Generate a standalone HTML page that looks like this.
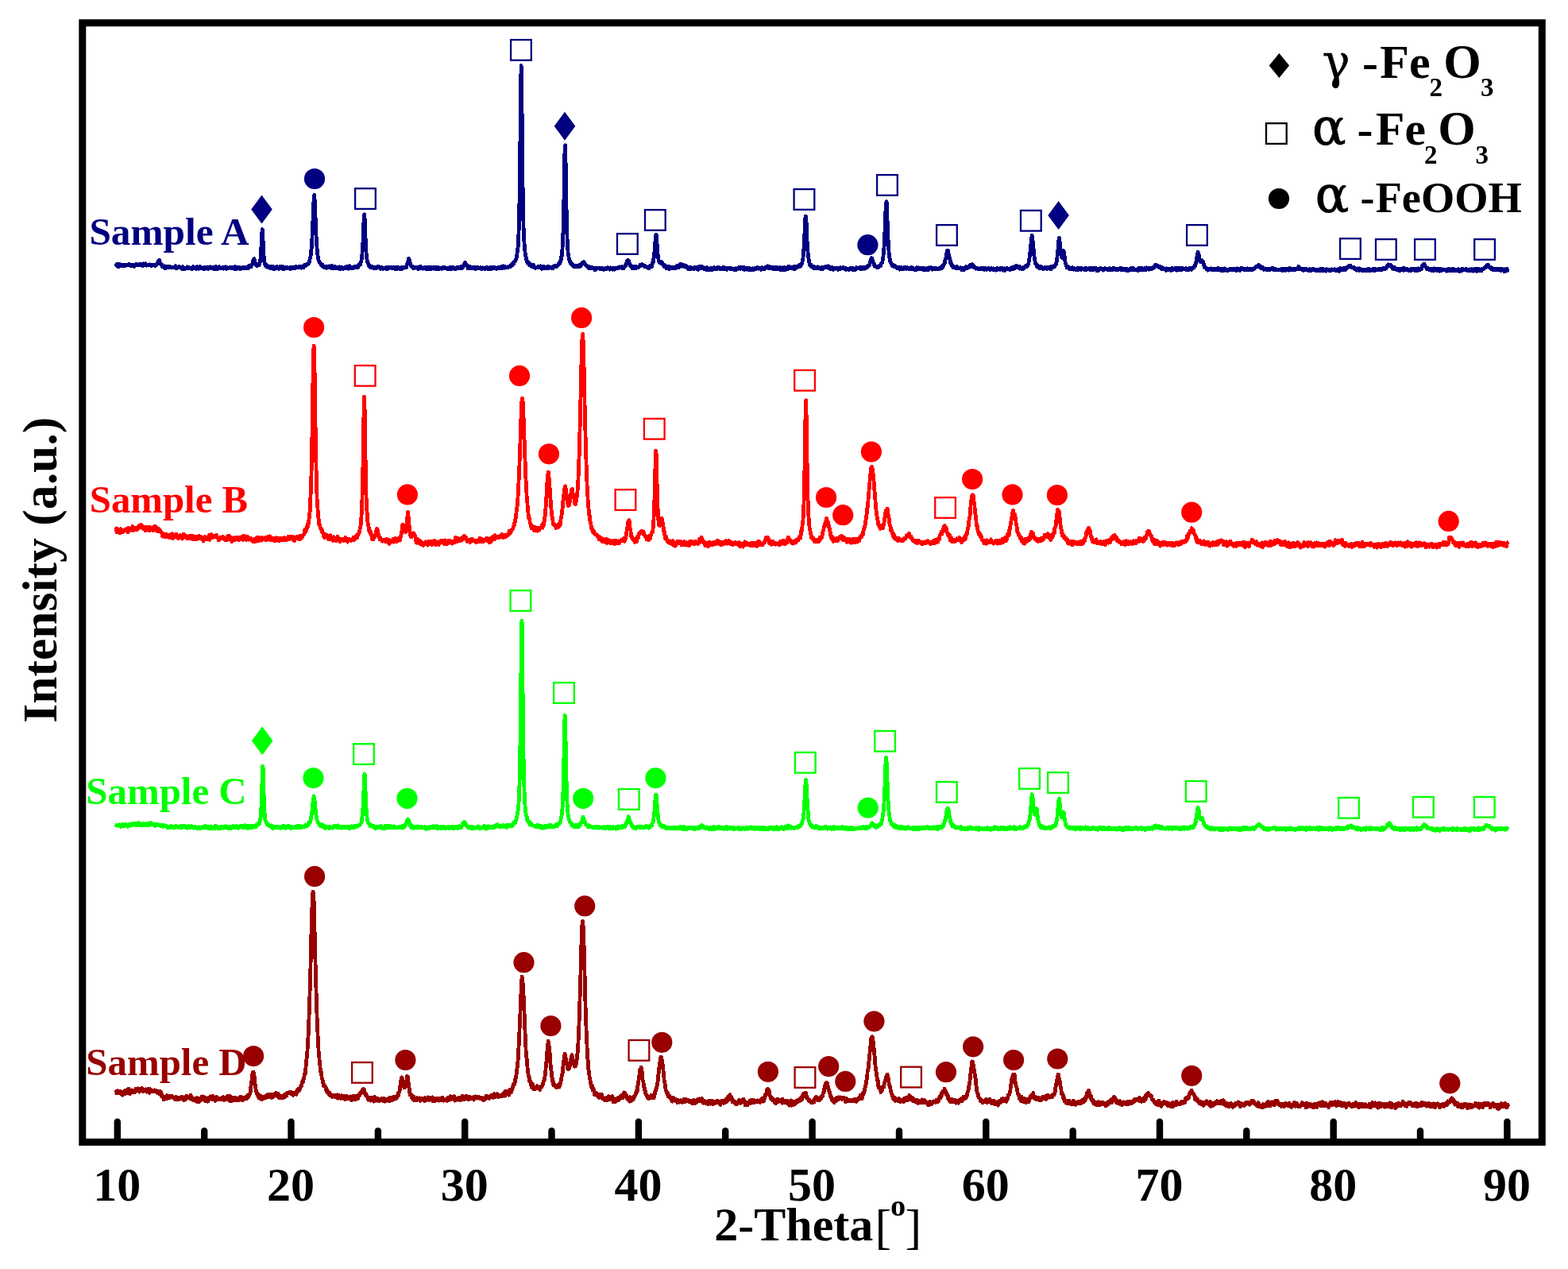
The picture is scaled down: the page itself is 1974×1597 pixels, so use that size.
<!DOCTYPE html>
<html lang="en"><head><meta charset="utf-8"><title>XRD patterns</title>
<style>html,body{margin:0;padding:0;background:#fff}svg{display:block}</style></head>
<body>
<svg width="1974" height="1597" viewBox="0 0 1974 1597" font-family="'Liberation Serif', serif">
<rect x="0" y="0" width="1974" height="1597" fill="#fff"/>
<path d="M145.6 335.1L146.1 333.5L146.6 333.6L147.1 333.2L147.6 334.6L148.1 332.3L148.6 335.4L149.1 333.5L149.6 334.3L150.1 333.9L150.6 335.1L151.1 332.5L151.6 333.8L152.1 333.7L152.6 334.8L153.1 333.0L153.6 333.7L154.1 333.2L154.6 334.0L155.1 334.4L155.6 333.0L156.1 334.8L156.6 334.6L157.1 334.2L157.6 334.4L158.1 333.1L158.6 333.7L159.1 333.1L159.6 333.4L160.1 333.9L160.6 333.0L161.1 333.3L161.6 333.0L162.1 332.8L162.6 333.2L163.1 333.7L163.6 332.8L164.1 333.8L164.6 334.7L165.1 334.1L165.6 333.4L166.1 332.9L166.6 333.0L167.1 334.9L167.6 333.8L168.1 333.1L168.6 333.6L169.1 335.3L169.6 333.8L170.1 334.1L170.6 333.9L171.1 333.4L171.6 332.6L172.1 333.2L172.6 333.4L173.1 333.8L173.6 334.1L174.1 334.1L174.6 333.3L175.1 333.8L175.6 332.5L176.1 334.0L176.6 333.4L177.1 332.9L177.6 333.4L178.1 332.9L178.6 333.9L179.1 334.3L179.6 334.7L180.1 332.1L180.6 331.9L181.1 332.7L181.6 333.3L182.1 334.0L182.6 333.6L183.1 331.8L183.6 333.3L184.1 334.1L184.6 333.5L185.1 333.9L185.6 333.3L186.1 333.4L186.6 333.7L187.1 333.7L187.6 333.5L188.1 333.4L188.6 332.8L189.1 333.6L189.6 333.4L190.1 334.2L190.6 334.5L191.1 333.6L191.6 333.2L192.1 333.0L192.6 334.0L193.1 333.9L193.6 333.6L194.1 333.9L194.6 333.2L195.1 334.2L195.6 333.2L196.1 334.1L196.6 333.4L197.1 333.2L197.6 331.6L198.1 331.8L198.6 331.4L199.1 329.0L199.6 328.6L200.1 328.2L200.6 327.4L201.1 329.7L201.6 331.4L202.1 331.2L202.6 333.2L203.1 332.6L203.6 334.2L204.1 333.4L204.6 335.9L205.1 335.7L205.6 335.7L206.1 335.5L206.6 337.1L207.1 337.6L207.6 334.9L208.1 337.1L208.6 337.4L209.1 336.5L209.6 335.3L210.1 337.1L210.6 336.2L211.1 335.8L211.6 335.2L212.1 336.6L212.6 336.9L213.1 335.7L213.6 336.7L214.1 335.6L214.6 336.9L215.1 336.3L215.6 336.0L216.1 336.0L216.6 336.9L217.1 336.8L217.6 336.6L218.1 336.3L218.6 336.1L219.1 336.5L219.6 336.2L220.1 336.6L220.6 335.9L221.1 334.5L221.6 337.2L222.1 337.9L222.6 336.6L223.1 336.2L223.6 336.3L224.1 336.5L224.6 336.6L225.1 335.8L225.6 336.2L226.1 335.8L226.6 336.8L227.1 336.4L227.6 337.1L228.1 336.7L228.6 337.5L229.1 337.0L229.6 338.5L230.1 335.5L230.6 336.5L231.1 337.8L231.6 338.8L232.1 337.0L232.6 337.2L233.1 337.0L233.6 338.2L234.1 337.0L234.6 337.6L235.1 336.8L235.6 336.0L236.1 337.2L236.6 337.4L237.1 337.8L237.6 336.8L238.1 336.5L238.6 337.4L239.1 337.1L239.6 337.2L240.1 337.0L240.6 338.0L241.1 337.4L241.6 338.5L242.1 337.9L242.6 337.5L243.1 335.7L243.6 337.3L244.1 337.1L244.6 337.3L245.1 337.6L245.6 336.6L246.1 337.6L246.6 336.5L247.1 338.5L247.6 335.9L248.1 335.6L248.6 335.7L249.1 336.3L249.6 336.1L250.1 338.5L250.6 336.6L251.1 335.9L251.6 337.7L252.1 336.4L252.6 335.9L253.1 337.4L253.6 337.4L254.1 336.4L254.6 337.9L255.1 337.1L255.6 338.3L256.1 337.3L256.6 338.1L257.1 337.1L257.6 336.1L258.1 338.5L258.6 336.6L259.1 336.8L259.6 336.6L260.1 337.0L260.6 337.3L261.1 337.3L261.6 337.7L262.1 338.5L262.6 337.0L263.1 336.1L263.6 336.2L264.1 336.7L264.6 336.0L265.1 337.9L265.6 336.9L266.1 336.9L266.6 337.1L267.1 336.1L267.6 336.5L268.1 337.8L268.6 337.8L269.1 337.1L269.6 338.8L270.1 336.3L270.6 337.1L271.1 337.1L271.6 335.6L272.1 338.7L272.6 337.5L273.1 336.3L273.6 338.6L274.1 337.3L274.6 337.1L275.1 336.2L275.6 336.9L276.1 335.6L276.6 337.4L277.1 336.6L277.6 337.0L278.1 337.8L278.6 337.2L279.1 337.1L279.6 337.2L280.1 336.5L280.6 337.7L281.1 338.1L281.6 337.6L282.1 337.7L282.6 336.2L283.1 336.5L283.6 336.0L284.1 338.0L284.6 336.9L285.1 338.2L285.6 336.4L286.1 336.7L286.6 337.0L287.1 337.7L287.6 337.2L288.1 337.4L288.6 337.1L289.1 337.1L289.6 336.2L290.1 337.1L290.6 337.0L291.1 337.1L291.6 337.5L292.1 336.7L292.6 337.0L293.1 336.7L293.6 337.2L294.1 337.5L294.6 336.3L295.1 337.5L295.6 338.6L296.1 335.8L296.6 336.3L297.1 336.2L297.6 336.6L298.1 338.2L298.6 337.1L299.1 336.4L299.6 337.4L300.1 336.5L300.6 337.7L301.1 337.1L301.6 338.0L302.1 336.5L302.6 338.7L303.1 337.7L303.6 337.6L304.1 337.1L304.6 336.8L305.1 336.7L305.6 337.2L306.1 336.6L306.6 337.5L307.1 336.5L307.6 337.6L308.1 337.7L308.6 336.5L309.1 337.7L309.6 336.6L310.1 337.4L310.6 336.7L311.1 337.2L311.6 335.7L312.1 336.3L312.6 337.4L313.1 335.7L313.6 334.6L314.1 334.4L314.6 334.1L315.1 334.0L315.6 334.9L316.1 335.7L316.6 333.9L317.1 333.5L317.6 332.0L318.1 330.6L318.6 328.5L319.1 326.7L319.6 326.6L320.1 325.8L320.6 329.0L321.1 330.8L321.6 331.6L322.1 333.5L322.6 333.2L323.1 333.6L323.6 334.4L324.1 334.3L324.6 334.1L325.1 333.6L325.6 333.3L326.1 333.9L326.6 330.7L327.1 331.1L327.6 328.3L328.1 324.9L328.6 318.3L329.1 306.4L329.6 296.7L330.1 288.5L330.6 292.0L331.1 303.1L331.6 315.2L332.1 322.2L332.6 328.6L333.1 330.3L333.6 333.4L334.1 332.3L334.6 332.4L335.1 334.9L335.6 335.5L336.1 335.3L336.6 334.5L337.1 335.5L337.6 336.4L338.1 335.9L338.6 336.2L339.1 336.3L339.6 335.8L340.1 336.1L340.6 335.3L341.1 337.9L341.6 336.4L342.1 337.1L342.6 336.0L343.1 337.5L343.6 335.6L344.1 337.8L344.6 337.1L345.1 338.7L345.6 336.2L346.1 337.5L346.6 337.3L347.1 337.9L347.6 336.7L348.1 337.0L348.6 335.3L349.1 336.3L349.6 337.3L350.1 337.7L350.6 336.6L351.1 338.3L351.6 338.2L352.1 337.0L352.6 335.3L353.1 335.5L353.6 336.3L354.1 337.7L354.6 337.0L355.1 335.2L355.6 336.6L356.1 338.3L356.6 336.8L357.1 336.4L357.6 338.4L358.1 336.8L358.6 336.4L359.1 336.9L359.6 336.9L360.1 336.6L360.6 337.8L361.1 337.7L361.6 337.6L362.1 336.7L362.6 337.7L363.1 337.0L363.6 337.5L364.1 337.9L364.6 337.9L365.1 338.7L365.6 337.5L366.1 336.0L366.6 336.3L367.1 338.1L367.6 336.9L368.1 337.4L368.6 336.3L369.1 337.7L369.6 336.7L370.1 338.0L370.6 336.2L371.1 337.5L371.6 336.9L372.1 335.8L372.6 337.2L373.1 335.7L373.6 335.7L374.1 336.9L374.6 335.9L375.1 335.9L375.6 336.1L376.1 335.4L376.6 336.9L377.1 336.6L377.6 336.1L378.1 336.0L378.6 336.2L379.1 337.1L379.6 336.4L380.1 335.3L380.6 336.1L381.1 335.4L381.6 335.3L382.1 336.8L382.6 334.9L383.1 334.7L383.6 333.4L384.1 333.7L384.6 334.7L385.1 333.6L385.6 334.0L386.1 332.5L386.6 332.3L387.1 333.0L387.6 332.9L388.1 331.5L388.6 331.2L389.1 330.6L389.6 328.8L390.1 325.9L390.6 324.3L391.1 322.1L391.6 317.4L392.1 313.1L392.6 304.8L393.1 296.8L393.6 287.0L394.1 272.3L394.6 260.3L395.1 250.9L395.6 245.5L396.1 251.0L396.6 260.5L397.1 273.7L397.6 286.2L398.1 297.5L398.6 305.7L399.1 313.2L399.6 317.7L400.1 322.4L400.6 326.0L401.1 327.0L401.6 328.5L402.1 328.9L402.6 331.1L403.1 330.8L403.6 331.4L404.1 332.8L404.6 332.9L405.1 334.1L405.6 334.6L406.1 333.4L406.6 334.3L407.1 335.8L407.6 335.6L408.1 335.6L408.6 336.4L409.1 335.1L409.6 336.2L410.1 337.0L410.6 337.3L411.1 335.4L411.6 335.9L412.1 336.4L412.6 336.0L413.1 336.0L413.6 336.8L414.1 335.9L414.6 334.9L415.1 336.4L415.6 335.9L416.1 335.7L416.6 335.2L417.1 337.2L417.6 334.6L418.1 334.9L418.6 336.1L419.1 337.3L419.6 337.4L420.1 335.6L420.6 336.5L421.1 335.6L421.6 337.4L422.1 335.5L422.6 336.6L423.1 337.7L423.6 336.9L424.1 338.1L424.6 336.4L425.1 337.4L425.6 337.8L426.1 337.0L426.6 338.0L427.1 337.6L427.6 335.9L428.1 338.9L428.6 337.8L429.1 337.2L429.6 336.1L430.1 337.1L430.6 336.6L431.1 337.3L431.6 337.3L432.1 338.4L432.6 337.0L433.1 337.2L433.6 336.9L434.1 336.3L434.6 336.4L435.1 337.4L435.6 337.1L436.1 336.0L436.6 335.6L437.1 336.4L437.6 337.3L438.1 336.5L438.6 338.1L439.1 336.1L439.6 336.7L440.1 334.8L440.6 336.0L441.1 336.1L441.6 336.8L442.1 337.8L442.6 336.5L443.1 337.7L443.6 336.9L444.1 337.1L444.6 336.0L445.1 337.5L445.6 335.7L446.1 337.1L446.6 335.9L447.1 336.2L447.6 335.2L448.1 335.7L448.6 336.2L449.1 336.0L449.6 334.8L450.1 336.7L450.6 335.5L451.1 335.8L451.6 334.9L452.1 333.6L452.6 332.1L453.1 332.3L453.6 333.1L454.1 330.2L454.6 329.9L455.1 326.5L455.6 324.2L456.1 317.6L456.6 312.1L457.1 300.9L457.6 288.3L458.1 275.0L458.6 269.7L459.1 274.7L459.6 288.4L460.1 299.8L460.6 310.7L461.1 319.5L461.6 324.0L462.1 327.2L462.6 329.5L463.1 331.6L463.6 331.9L464.1 333.7L464.6 333.3L465.1 334.2L465.6 335.8L466.1 336.3L466.6 335.0L467.1 336.6L467.6 335.5L468.1 336.9L468.6 335.0L469.1 335.7L469.6 336.0L470.1 336.4L470.6 337.7L471.1 337.3L471.6 337.8L472.1 337.5L472.6 336.4L473.1 336.3L473.6 337.4L474.1 336.6L474.6 336.4L475.1 335.7L475.6 336.6L476.1 334.9L476.6 336.4L477.1 336.0L477.6 337.3L478.1 336.6L478.6 336.8L479.1 338.3L479.6 336.5L480.1 337.7L480.6 336.0L481.1 337.7L481.6 338.0L482.1 338.2L482.6 337.0L483.1 337.8L483.6 337.7L484.1 337.4L484.6 337.4L485.1 337.6L485.6 337.6L486.1 336.5L486.6 336.3L487.1 338.8L487.6 338.6L488.1 335.9L488.6 337.4L489.1 337.5L489.6 337.6L490.1 337.1L490.6 336.3L491.1 336.7L491.6 336.5L492.1 336.9L492.6 336.7L493.1 336.8L493.6 337.6L494.1 337.9L494.6 336.1L495.1 336.6L495.6 336.5L496.1 338.1L496.6 337.3L497.1 338.5L497.6 337.2L498.1 337.5L498.6 336.4L499.1 338.6L499.6 337.3L500.1 336.5L500.6 337.2L501.1 336.1L501.6 337.6L502.1 337.5L502.6 337.7L503.1 338.6L503.6 337.2L504.1 338.1L504.6 337.8L505.1 337.4L505.6 336.1L506.1 338.2L506.6 336.9L507.1 337.2L507.6 336.2L508.1 337.3L508.6 336.8L509.1 336.7L509.6 336.4L510.1 336.9L510.6 336.6L511.1 335.8L511.6 336.5L512.1 333.7L512.6 333.0L513.1 331.1L513.6 330.3L514.1 327.5L514.6 325.1L515.1 326.0L515.6 328.6L516.1 331.1L516.6 331.1L517.1 333.3L517.6 334.6L518.1 334.7L518.6 336.0L519.1 335.9L519.6 336.5L520.1 335.8L520.6 337.6L521.1 336.6L521.6 337.8L522.1 336.3L522.6 337.2L523.1 336.4L523.6 336.4L524.1 336.8L524.6 337.3L525.1 337.0L525.6 338.2L526.1 336.3L526.6 336.4L527.1 338.4L527.6 337.7L528.1 335.8L528.6 337.5L529.1 337.2L529.6 335.4L530.1 336.8L530.6 337.2L531.1 337.8L531.6 338.0L532.1 337.2L532.6 338.1L533.1 337.3L533.6 336.9L534.1 336.8L534.6 338.0L535.1 336.2L535.6 338.1L536.1 336.8L536.6 337.5L537.1 338.1L537.6 338.8L538.1 336.5L538.6 337.3L539.1 337.9L539.6 337.2L540.1 338.3L540.6 336.1L541.1 338.0L541.6 337.9L542.1 337.6L542.6 338.3L543.1 336.5L543.6 338.1L544.1 336.5L544.6 337.8L545.1 337.1L545.6 338.1L546.1 338.0L546.6 336.1L547.1 337.4L547.6 337.2L548.1 337.2L548.6 336.7L549.1 338.8L549.6 337.5L550.1 338.3L550.6 336.6L551.1 336.2L551.6 337.0L552.1 336.6L552.6 338.6L553.1 337.4L553.6 338.1L554.1 337.2L554.6 337.0L555.1 337.5L555.6 337.8L556.1 338.2L556.6 337.3L557.1 336.8L557.6 336.4L558.1 337.2L558.6 337.6L559.1 337.6L559.6 337.2L560.1 336.7L560.6 337.3L561.1 337.7L561.6 337.3L562.1 337.5L562.6 337.6L563.1 338.5L563.6 337.3L564.1 337.8L564.6 337.8L565.1 338.1L565.6 338.7L566.1 338.1L566.6 338.0L567.1 336.4L567.6 337.8L568.1 338.7L568.6 336.3L569.1 336.3L569.6 336.9L570.1 337.9L570.6 337.4L571.1 336.7L571.6 337.0L572.1 337.8L572.6 337.4L573.1 338.7L573.6 337.8L574.1 337.4L574.6 337.5L575.1 336.8L575.6 336.3L576.1 337.2L576.6 337.5L577.1 336.0L577.6 336.6L578.1 336.8L578.6 337.3L579.1 336.9L579.6 337.3L580.1 337.0L580.6 337.5L581.1 335.3L581.6 337.7L582.1 337.2L582.6 335.8L583.1 335.8L583.6 334.8L584.1 332.7L584.6 332.0L585.1 331.1L585.6 330.2L586.1 331.5L586.6 332.0L587.1 333.2L587.6 333.7L588.1 334.9L588.6 335.5L589.1 337.6L589.6 336.6L590.1 336.0L590.6 337.3L591.1 336.8L591.6 335.4L592.1 337.6L592.6 336.3L593.1 337.9L593.6 336.9L594.1 336.5L594.6 338.0L595.1 336.4L595.6 337.1L596.1 337.5L596.6 337.9L597.1 337.9L597.6 337.0L598.1 336.4L598.6 338.4L599.1 336.4L599.6 338.2L600.1 336.4L600.6 337.7L601.1 337.7L601.6 336.3L602.1 337.5L602.6 337.8L603.1 337.9L603.6 337.2L604.1 337.7L604.6 337.1L605.1 336.5L605.6 338.3L606.1 337.3L606.6 338.8L607.1 338.2L607.6 336.8L608.1 337.4L608.6 337.4L609.1 337.1L609.6 338.2L610.1 337.4L610.6 338.9L611.1 338.3L611.6 336.9L612.1 337.4L612.6 337.3L613.1 336.3L613.6 338.1L614.1 338.2L614.6 338.1L615.1 337.0L615.6 338.1L616.1 337.2L616.6 338.0L617.1 338.6L617.6 337.3L618.1 336.2L618.6 336.9L619.1 337.7L619.6 338.1L620.1 336.2L620.6 336.9L621.1 337.4L621.6 337.6L622.1 338.0L622.6 336.4L623.1 336.8L623.6 338.0L624.1 337.7L624.6 337.8L625.1 338.4L625.6 337.6L626.1 337.9L626.6 337.2L627.1 336.3L627.6 336.3L628.1 337.5L628.6 337.1L629.1 336.7L629.6 337.3L630.1 336.4L630.6 336.9L631.1 336.8L631.6 336.0L632.1 335.0L632.6 337.8L633.1 336.8L633.6 334.9L634.1 336.2L634.6 336.8L635.1 336.4L635.6 337.0L636.1 335.8L636.6 336.6L637.1 336.4L637.6 336.3L638.1 336.1L638.6 336.5L639.1 336.9L639.6 335.7L640.1 335.5L640.6 335.8L641.1 335.3L641.6 335.6L642.1 335.8L642.6 336.0L643.1 334.6L643.6 332.8L644.1 334.1L644.6 334.1L645.1 333.4L645.6 332.9L646.1 330.8L646.6 332.3L647.1 331.1L647.6 329.4L648.1 328.8L648.6 328.0L649.1 327.9L649.6 326.4L650.1 325.3L650.6 322.4L651.1 318.2L651.6 314.2L652.1 310.9L652.6 303.6L653.1 290.7L653.6 273.9L654.1 246.0L654.6 208.5L655.1 161.1L655.6 111.9L656.1 82.6L656.6 96.1L657.1 141.2L657.6 192.6L658.1 235.0L658.6 264.3L659.1 286.5L659.6 298.2L660.1 307.2L660.6 313.9L661.1 317.6L661.6 322.0L662.1 323.1L662.6 326.6L663.1 327.5L663.6 330.4L664.1 329.3L664.6 330.4L665.1 331.5L665.6 330.4L666.1 333.1L666.6 333.5L667.1 333.6L667.6 332.6L668.1 333.0L668.6 334.6L669.1 335.2L669.6 335.9L670.1 334.2L670.6 334.3L671.1 334.9L671.6 333.7L672.1 334.9L672.6 336.1L673.1 336.9L673.6 336.1L674.1 337.2L674.6 336.4L675.1 336.2L675.6 336.1L676.1 336.3L676.6 335.9L677.1 336.1L677.6 335.6L678.1 336.4L678.6 336.2L679.1 335.1L679.6 336.3L680.1 335.8L680.6 334.9L681.1 337.0L681.6 337.9L682.1 338.5L682.6 338.1L683.1 336.3L683.6 337.7L684.1 337.7L684.6 335.2L685.1 337.3L685.6 337.2L686.1 336.8L686.6 336.8L687.1 336.6L687.6 337.9L688.1 336.4L688.6 336.4L689.1 336.8L689.6 336.9L690.1 335.3L690.6 337.7L691.1 336.9L691.6 337.2L692.1 337.0L692.6 336.6L693.1 336.4L693.6 336.7L694.1 336.9L694.6 337.6L695.1 336.7L695.6 336.3L696.1 337.8L696.6 335.1L697.1 335.0L697.6 336.1L698.1 335.4L698.6 334.2L699.1 335.1L699.6 334.5L700.1 335.7L700.6 334.1L701.1 335.1L701.6 334.4L702.1 333.6L702.6 333.4L703.1 333.2L703.6 330.9L704.1 332.0L704.6 330.7L705.1 331.3L705.6 328.1L706.1 328.0L706.6 323.1L707.1 322.5L707.6 318.0L708.1 311.5L708.6 302.4L709.1 288.4L709.6 268.7L710.1 240.8L710.6 207.9L711.1 183.8L711.6 182.9L712.1 203.6L712.6 235.5L713.1 263.6L713.6 285.8L714.1 300.8L714.6 310.5L715.1 317.9L715.6 321.0L716.1 324.6L716.6 327.2L717.1 328.2L717.6 328.7L718.1 331.2L718.6 330.8L719.1 331.7L719.6 331.9L720.1 332.8L720.6 332.9L721.1 333.2L721.6 334.4L722.1 335.5L722.6 334.1L723.1 335.0L723.6 334.3L724.1 334.9L724.6 335.9L725.1 335.2L725.6 334.7L726.1 334.8L726.6 334.9L727.1 335.3L727.6 335.9L728.1 334.1L728.6 334.1L729.1 334.0L729.6 333.0L730.1 335.2L730.6 333.9L731.1 335.1L731.6 332.1L732.1 333.5L732.6 331.5L733.1 331.2L733.6 330.3L734.1 330.0L734.6 329.7L735.1 331.1L735.6 330.4L736.1 331.5L736.6 332.2L737.1 333.3L737.6 333.6L738.1 334.2L738.6 334.8L739.1 335.0L739.6 335.7L740.1 335.0L740.6 335.3L741.1 337.5L741.6 336.2L742.1 335.9L742.6 337.7L743.1 336.7L743.6 336.5L744.1 336.2L744.6 337.9L745.1 336.4L745.6 336.9L746.1 337.9L746.6 337.6L747.1 337.4L747.6 337.3L748.1 338.4L748.6 339.3L749.1 337.3L749.6 338.0L750.1 339.2L750.6 338.6L751.1 337.3L751.6 337.4L752.1 337.3L752.6 337.0L753.1 337.3L753.6 337.8L754.1 337.2L754.6 338.1L755.1 337.6L755.6 337.2L756.1 338.2L756.6 337.7L757.1 337.6L757.6 338.2L758.1 337.9L758.6 337.4L759.1 338.4L759.6 337.9L760.1 339.3L760.6 338.6L761.1 338.7L761.6 338.7L762.1 337.8L762.6 338.8L763.1 337.9L763.6 337.1L764.1 337.4L764.6 338.2L765.1 336.5L765.6 337.9L766.1 337.1L766.6 338.1L767.1 336.9L767.6 339.1L768.1 338.2L768.6 336.7L769.1 339.1L769.6 337.7L770.1 337.3L770.6 337.2L771.1 338.5L771.6 339.2L772.1 337.7L772.6 337.3L773.1 337.1L773.6 339.2L774.1 339.2L774.6 337.5L775.1 338.1L775.6 337.6L776.1 337.4L776.6 337.9L777.1 337.5L777.6 337.2L778.1 336.8L778.6 337.5L779.1 336.6L779.6 336.8L780.1 337.0L780.6 335.9L781.1 336.4L781.6 336.3L782.1 336.7L782.6 335.7L783.1 335.7L783.6 337.7L784.1 337.3L784.6 337.0L785.1 337.6L785.6 336.2L786.1 335.4L786.6 335.6L787.1 333.4L787.6 333.2L788.1 333.6L788.6 331.7L789.1 329.2L789.6 329.1L790.1 328.1L790.6 327.4L791.1 327.4L791.6 328.0L792.1 330.2L792.6 331.9L793.1 332.7L793.6 334.5L794.1 335.1L794.6 335.7L795.1 334.5L795.6 337.1L796.1 337.8L796.6 336.4L797.1 335.7L797.6 337.1L798.1 336.5L798.6 336.0L799.1 337.6L799.6 335.6L800.1 337.1L800.6 335.6L801.1 337.5L801.6 336.7L802.1 336.0L802.6 336.2L803.1 336.6L803.6 336.4L804.1 336.0L804.6 335.5L805.1 334.4L805.6 335.0L806.1 332.9L806.6 334.4L807.1 333.9L807.6 334.2L808.1 332.6L808.6 333.3L809.1 333.9L809.6 333.9L810.1 333.7L810.6 334.6L811.1 334.6L811.6 335.8L812.1 334.9L812.6 335.9L813.1 335.9L813.6 336.3L814.1 335.7L814.6 336.1L815.1 336.1L815.6 336.2L816.1 336.1L816.6 336.0L817.1 337.7L817.6 335.2L818.1 334.8L818.6 335.0L819.1 334.7L819.6 335.0L820.1 335.6L820.6 335.2L821.1 333.3L821.6 330.4L822.1 330.6L822.6 327.2L823.1 324.7L823.6 319.8L824.1 315.3L824.6 307.8L825.1 301.7L825.6 296.2L826.1 294.9L826.6 299.4L827.1 306.9L827.6 312.9L828.1 319.7L828.6 323.4L829.1 326.7L829.6 329.1L830.1 330.6L830.6 330.6L831.1 330.5L831.6 331.1L832.1 329.4L832.6 331.7L833.1 329.6L833.6 331.7L834.1 331.5L834.6 333.1L835.1 333.5L835.6 334.5L836.1 334.2L836.6 333.7L837.1 335.9L837.6 335.3L838.1 335.5L838.6 335.7L839.1 337.9L839.6 336.0L840.1 336.9L840.6 335.8L841.1 337.9L841.6 336.3L842.1 335.1L842.6 338.5L843.1 336.2L843.6 338.0L844.1 337.5L844.6 337.5L845.1 336.8L845.6 337.1L846.1 337.7L846.6 336.7L847.1 337.2L847.6 337.8L848.1 337.0L848.6 336.6L849.1 338.0L849.6 337.2L850.1 336.8L850.6 336.1L851.1 335.8L851.6 337.2L852.1 337.0L852.6 334.3L853.1 335.1L853.6 336.2L854.1 336.8L854.6 336.4L855.1 335.0L855.6 334.9L856.1 333.3L856.6 334.0L857.1 332.4L857.6 332.9L858.1 333.6L858.6 335.2L859.1 334.2L859.6 334.2L860.1 334.2L860.6 333.6L861.1 335.2L861.6 334.8L862.1 335.4L862.6 335.0L863.1 335.8L863.6 334.7L864.1 336.4L864.6 337.1L865.1 337.0L865.6 338.1L866.1 336.9L866.6 337.4L867.1 337.5L867.6 336.5L868.1 338.8L868.6 338.0L869.1 337.3L869.6 336.7L870.1 337.8L870.6 338.1L871.1 337.5L871.6 337.6L872.1 337.4L872.6 337.4L873.1 338.4L873.6 338.7L874.1 336.5L874.6 337.6L875.1 336.7L875.6 336.6L876.1 338.1L876.6 337.0L877.1 336.0L877.6 338.3L878.1 338.8L878.6 339.3L879.1 337.3L879.6 338.5L880.1 335.8L880.6 336.7L881.1 337.7L881.6 337.4L882.1 337.7L882.6 336.7L883.1 335.2L883.6 336.4L884.1 336.2L884.6 337.6L885.1 336.4L885.6 337.6L886.1 337.4L886.6 338.6L887.1 337.9L887.6 338.0L888.1 337.2L888.6 338.5L889.1 339.3L889.6 339.1L890.1 336.8L890.6 337.2L891.1 339.8L891.6 338.1L892.1 338.2L892.6 339.1L893.1 338.3L893.6 337.8L894.1 338.1L894.6 339.6L895.1 337.0L895.6 339.0L896.1 337.8L896.6 337.8L897.1 339.4L897.6 337.5L898.1 338.7L898.6 337.8L899.1 336.9L899.6 337.8L900.1 338.8L900.6 337.9L901.1 338.4L901.6 338.1L902.1 338.2L902.6 337.9L903.1 338.1L903.6 336.4L904.1 337.6L904.6 336.5L905.1 338.2L905.6 338.2L906.1 337.3L906.6 338.7L907.1 338.5L907.6 338.2L908.1 337.6L908.6 338.3L909.1 338.8L909.6 337.5L910.1 337.4L910.6 338.8L911.1 336.3L911.6 336.4L912.1 336.6L912.6 338.1L913.1 338.2L913.6 338.4L914.1 338.2L914.6 339.2L915.1 339.2L915.6 338.9L916.1 337.0L916.6 338.2L917.1 337.1L917.6 337.5L918.1 337.2L918.6 337.9L919.1 338.4L919.6 338.2L920.1 337.3L920.6 337.0L921.1 337.6L921.6 337.7L922.1 338.9L922.6 338.1L923.1 338.2L923.6 338.3L924.1 339.4L924.6 339.7L925.1 338.5L925.6 338.0L926.1 339.3L926.6 338.7L927.1 338.1L927.6 339.2L928.1 338.5L928.6 337.2L929.1 338.5L929.6 338.1L930.1 336.4L930.6 336.2L931.1 338.0L931.6 338.3L932.1 338.1L932.6 336.4L933.1 337.2L933.6 338.0L934.1 336.3L934.6 337.7L935.1 337.8L935.6 338.5L936.1 336.1L936.6 338.0L937.1 339.4L937.6 337.4L938.1 337.7L938.6 338.7L939.1 337.5L939.6 339.2L940.1 338.7L940.6 337.2L941.1 338.5L941.6 337.4L942.1 339.2L942.6 337.3L943.1 337.2L943.6 337.8L944.1 337.9L944.6 339.5L945.1 338.3L945.6 338.8L946.1 339.3L946.6 338.0L947.1 338.0L947.6 337.8L948.1 339.0L948.6 339.7L949.1 338.5L949.6 337.9L950.1 337.8L950.6 337.5L951.1 338.7L951.6 337.3L952.1 337.7L952.6 337.1L953.1 336.6L953.6 336.4L954.1 337.4L954.6 338.1L955.1 337.7L955.6 337.9L956.1 337.1L956.6 337.3L957.1 337.2L957.6 338.3L958.1 339.6L958.6 337.9L959.1 336.8L959.6 338.9L960.1 337.4L960.6 338.4L961.1 337.4L961.6 337.6L962.1 339.0L962.6 336.7L963.1 336.7L963.6 337.3L964.1 336.7L964.6 336.0L965.1 335.4L965.6 336.0L966.1 336.4L966.6 334.9L967.1 335.0L967.6 337.4L968.1 335.2L968.6 336.9L969.1 336.8L969.6 335.9L970.1 337.6L970.6 336.4L971.1 336.5L971.6 336.3L972.1 338.0L972.6 337.0L973.1 338.3L973.6 336.8L974.1 337.9L974.6 338.5L975.1 337.5L975.6 336.6L976.1 337.1L976.6 338.4L977.1 338.1L977.6 337.3L978.1 336.2L978.6 338.2L979.1 338.7L979.6 338.8L980.1 338.0L980.6 337.6L981.1 337.2L981.6 337.5L982.1 336.7L982.6 339.6L983.1 337.9L983.6 339.7L984.1 337.9L984.6 336.9L985.1 339.5L985.6 337.5L986.1 337.8L986.6 339.3L987.1 339.1L987.6 336.5L988.1 337.9L988.6 337.2L989.1 338.5L989.6 339.3L990.1 337.3L990.6 338.7L991.1 336.5L991.6 338.5L992.1 335.8L992.6 335.7L993.1 336.1L993.6 335.1L994.1 337.5L994.6 335.7L995.1 337.3L995.6 336.1L996.1 337.2L996.6 337.1L997.1 336.9L997.6 337.6L998.1 336.3L998.6 338.3L999.1 337.3L999.6 335.4L1000.1 338.6L1000.6 337.3L1001.1 338.2L1001.6 336.8L1002.1 335.0L1002.6 336.3L1003.1 335.5L1003.6 336.4L1004.1 335.8L1004.6 336.1L1005.1 334.6L1005.6 335.6L1006.1 335.0L1006.6 335.4L1007.1 333.4L1007.6 333.9L1008.1 334.9L1008.6 332.0L1009.1 332.4L1009.6 331.6L1010.1 328.7L1010.6 326.9L1011.1 323.3L1011.6 318.6L1012.1 309.9L1012.6 300.7L1013.1 290.4L1013.6 278.3L1014.1 271.9L1014.6 272.1L1015.1 279.3L1015.6 292.4L1016.1 304.2L1016.6 311.7L1017.1 318.5L1017.6 323.0L1018.1 326.1L1018.6 329.1L1019.1 331.4L1019.6 333.7L1020.1 333.6L1020.6 332.9L1021.1 333.2L1021.6 335.7L1022.1 335.2L1022.6 335.0L1023.1 335.0L1023.6 335.6L1024.1 337.5L1024.6 336.6L1025.1 335.6L1025.6 337.5L1026.1 337.0L1026.6 336.7L1027.1 337.4L1027.6 336.3L1028.1 337.8L1028.6 336.0L1029.1 336.4L1029.6 336.0L1030.1 336.8L1030.6 336.7L1031.1 337.2L1031.6 337.5L1032.1 337.8L1032.6 337.5L1033.1 337.6L1033.6 338.6L1034.1 337.2L1034.6 336.3L1035.1 338.1L1035.6 338.8L1036.1 337.5L1036.6 337.7L1037.1 336.5L1037.6 337.0L1038.1 337.1L1038.6 336.7L1039.1 335.7L1039.6 337.0L1040.1 335.7L1040.6 336.2L1041.1 335.5L1041.6 335.6L1042.1 335.7L1042.6 334.9L1043.1 336.1L1043.6 337.6L1044.1 337.8L1044.6 337.2L1045.1 338.2L1045.6 336.0L1046.1 338.3L1046.6 337.5L1047.1 336.1L1047.6 337.8L1048.1 338.7L1048.6 337.5L1049.1 339.4L1049.6 339.2L1050.1 337.1L1050.6 338.9L1051.1 338.3L1051.6 337.8L1052.1 337.9L1052.6 337.9L1053.1 337.5L1053.6 337.8L1054.1 338.6L1054.6 339.3L1055.1 339.2L1055.6 337.6L1056.1 337.9L1056.6 337.5L1057.1 338.8L1057.6 336.7L1058.1 336.8L1058.6 337.2L1059.1 337.8L1059.6 337.3L1060.1 337.3L1060.6 337.1L1061.1 337.1L1061.6 336.1L1062.1 336.5L1062.6 337.3L1063.1 337.5L1063.6 338.5L1064.1 337.3L1064.6 338.7L1065.1 339.2L1065.6 338.1L1066.1 338.4L1066.6 338.3L1067.1 338.6L1067.6 338.7L1068.1 339.7L1068.6 338.8L1069.1 338.9L1069.6 338.6L1070.1 337.5L1070.6 338.6L1071.1 338.0L1071.6 337.7L1072.1 337.5L1072.6 338.2L1073.1 337.7L1073.6 339.7L1074.1 339.4L1074.6 337.9L1075.1 338.6L1075.6 338.9L1076.1 337.9L1076.6 339.4L1077.1 338.6L1077.6 337.9L1078.1 336.5L1078.6 337.0L1079.1 338.0L1079.6 337.5L1080.1 337.7L1080.6 337.1L1081.1 337.9L1081.6 337.5L1082.1 336.7L1082.6 337.7L1083.1 337.4L1083.6 336.6L1084.1 338.9L1084.6 337.7L1085.1 337.4L1085.6 338.2L1086.1 337.7L1086.6 338.2L1087.1 336.2L1087.6 336.4L1088.1 337.5L1088.6 338.2L1089.1 337.0L1089.6 337.1L1090.1 336.3L1090.6 336.8L1091.1 336.0L1091.6 336.2L1092.1 336.5L1092.6 334.2L1093.1 335.3L1093.6 333.9L1094.1 333.3L1094.6 333.6L1095.1 331.6L1095.6 330.3L1096.1 326.5L1096.6 325.8L1097.1 324.6L1097.6 324.8L1098.1 326.6L1098.6 328.8L1099.1 328.9L1099.6 330.6L1100.1 331.6L1100.6 334.4L1101.1 333.9L1101.6 334.9L1102.1 335.1L1102.6 334.9L1103.1 335.9L1103.6 336.1L1104.1 336.5L1104.6 335.7L1105.1 335.3L1105.6 335.0L1106.1 336.4L1106.6 335.9L1107.1 334.6L1107.6 334.8L1108.1 333.4L1108.6 334.9L1109.1 332.0L1109.6 331.4L1110.1 330.5L1110.6 330.9L1111.1 327.7L1111.6 325.8L1112.1 321.1L1112.6 315.2L1113.1 309.9L1113.6 299.5L1114.1 287.3L1114.6 274.5L1115.1 262.2L1115.6 254.9L1116.1 253.5L1116.6 262.3L1117.1 278.1L1117.6 290.7L1118.1 301.6L1118.6 311.0L1119.1 317.9L1119.6 323.6L1120.1 325.3L1120.6 328.8L1121.1 329.3L1121.6 330.6L1122.1 332.5L1122.6 332.2L1123.1 332.9L1123.6 335.0L1124.1 333.3L1124.6 335.1L1125.1 335.1L1125.6 335.6L1126.1 335.2L1126.6 334.8L1127.1 336.0L1127.6 335.7L1128.1 336.5L1128.6 337.1L1129.1 336.4L1129.6 336.3L1130.1 337.6L1130.6 336.9L1131.1 336.6L1131.6 337.0L1132.1 337.6L1132.6 339.1L1133.1 338.7L1133.6 336.5L1134.1 336.2L1134.6 337.4L1135.1 337.9L1135.6 337.3L1136.1 339.0L1136.6 338.2L1137.1 338.7L1137.6 337.1L1138.1 336.7L1138.6 336.5L1139.1 337.3L1139.6 336.7L1140.1 337.3L1140.6 337.3L1141.1 338.3L1141.6 337.4L1142.1 336.8L1142.6 337.6L1143.1 338.0L1143.6 338.2L1144.1 337.1L1144.6 338.4L1145.1 338.9L1145.6 338.2L1146.1 338.1L1146.6 337.6L1147.1 337.6L1147.6 336.4L1148.1 338.5L1148.6 337.8L1149.1 338.4L1149.6 338.6L1150.1 337.7L1150.6 339.1L1151.1 338.4L1151.6 339.4L1152.1 338.5L1152.6 338.3L1153.1 338.0L1153.6 339.4L1154.1 336.8L1154.6 337.8L1155.1 338.2L1155.6 337.3L1156.1 337.9L1156.6 336.8L1157.1 338.8L1157.6 337.5L1158.1 339.0L1158.6 338.4L1159.1 337.9L1159.6 337.3L1160.1 338.1L1160.6 338.6L1161.1 338.0L1161.6 338.7L1162.1 337.7L1162.6 339.4L1163.1 338.0L1163.6 337.6L1164.1 339.3L1164.6 339.5L1165.1 338.4L1165.6 338.1L1166.1 339.3L1166.6 338.2L1167.1 339.3L1167.6 337.5L1168.1 338.5L1168.6 338.5L1169.1 339.2L1169.6 336.9L1170.1 338.3L1170.6 338.0L1171.1 338.0L1171.6 337.3L1172.1 336.9L1172.6 337.7L1173.1 337.8L1173.6 339.1L1174.1 338.2L1174.6 338.2L1175.1 338.8L1175.6 337.0L1176.1 338.7L1176.6 338.8L1177.1 338.7L1177.6 337.8L1178.1 337.0L1178.6 337.2L1179.1 338.2L1179.6 338.3L1180.1 338.7L1180.6 338.8L1181.1 338.3L1181.6 337.8L1182.1 338.0L1182.6 337.6L1183.1 338.4L1183.6 338.1L1184.1 337.5L1184.6 336.2L1185.1 337.7L1185.6 335.5L1186.1 337.2L1186.6 336.4L1187.1 333.8L1187.6 334.2L1188.1 332.4L1188.6 332.3L1189.1 331.5L1189.6 329.5L1190.1 326.5L1190.6 325.6L1191.1 322.9L1191.6 320.2L1192.1 317.0L1192.6 315.6L1193.1 315.3L1193.6 315.7L1194.1 319.3L1194.6 320.5L1195.1 322.7L1195.6 325.9L1196.1 327.0L1196.6 330.0L1197.1 332.3L1197.6 331.7L1198.1 333.6L1198.6 334.7L1199.1 333.5L1199.6 336.5L1200.1 334.8L1200.6 335.6L1201.1 336.4L1201.6 336.0L1202.1 337.0L1202.6 336.7L1203.1 337.1L1203.6 336.9L1204.1 338.0L1204.6 335.5L1205.1 337.5L1205.6 337.1L1206.1 336.7L1206.6 336.9L1207.1 337.1L1207.6 338.0L1208.1 337.0L1208.6 337.6L1209.1 337.9L1209.6 336.9L1210.1 338.6L1210.6 339.3L1211.1 337.1L1211.6 338.3L1212.1 337.2L1212.6 338.0L1213.1 337.6L1213.6 339.4L1214.1 337.4L1214.6 338.3L1215.1 338.0L1215.6 336.7L1216.1 335.7L1216.6 337.6L1217.1 337.6L1217.6 336.5L1218.1 336.3L1218.6 337.2L1219.1 336.8L1219.6 336.6L1220.1 335.8L1220.6 334.7L1221.1 334.0L1221.6 333.0L1222.1 334.2L1222.6 335.6L1223.1 334.3L1223.6 333.9L1224.1 332.8L1224.6 333.7L1225.1 334.5L1225.6 334.7L1226.1 336.0L1226.6 335.7L1227.1 336.8L1227.6 336.6L1228.1 336.8L1228.6 338.3L1229.1 336.9L1229.6 337.5L1230.1 337.0L1230.6 338.1L1231.1 338.7L1231.6 338.5L1232.1 338.5L1232.6 338.8L1233.1 338.6L1233.6 338.7L1234.1 338.3L1234.6 337.3L1235.1 338.4L1235.6 338.7L1236.1 337.3L1236.6 338.2L1237.1 338.8L1237.6 337.7L1238.1 337.2L1238.6 338.0L1239.1 339.2L1239.6 337.4L1240.1 338.0L1240.6 337.5L1241.1 338.0L1241.6 338.4L1242.1 339.5L1242.6 338.0L1243.1 338.0L1243.6 337.7L1244.1 337.6L1244.6 337.3L1245.1 337.9L1245.6 338.4L1246.1 338.6L1246.6 339.3L1247.1 337.9L1247.6 337.8L1248.1 337.8L1248.6 338.5L1249.1 338.3L1249.6 339.0L1250.1 337.9L1250.6 339.0L1251.1 339.2L1251.6 338.4L1252.1 338.2L1252.6 338.7L1253.1 338.1L1253.6 340.2L1254.1 338.7L1254.6 339.2L1255.1 337.6L1255.6 337.2L1256.1 339.2L1256.6 339.1L1257.1 338.2L1257.6 338.2L1258.1 338.1L1258.6 338.8L1259.1 339.2L1259.6 337.5L1260.1 339.1L1260.6 338.0L1261.1 338.3L1261.6 338.6L1262.1 337.7L1262.6 340.2L1263.1 340.2L1263.6 339.1L1264.1 339.0L1264.6 337.8L1265.1 340.3L1265.6 338.5L1266.1 338.3L1266.6 339.2L1267.1 338.4L1267.6 337.6L1268.1 338.0L1268.6 337.9L1269.1 338.3L1269.6 338.7L1270.1 338.5L1270.6 339.0L1271.1 338.0L1271.6 338.7L1272.1 339.4L1272.6 337.1L1273.1 338.4L1273.6 337.0L1274.1 336.7L1274.6 339.0L1275.1 338.4L1275.6 337.8L1276.1 336.8L1276.6 338.1L1277.1 335.7L1277.6 336.6L1278.1 336.6L1278.6 337.1L1279.1 334.8L1279.6 334.2L1280.1 335.9L1280.6 336.4L1281.1 336.3L1281.6 335.8L1282.1 336.7L1282.6 335.7L1283.1 337.3L1283.6 338.0L1284.1 336.8L1284.6 336.0L1285.1 337.5L1285.6 337.5L1286.1 337.4L1286.6 338.5L1287.1 337.5L1287.6 338.9L1288.1 337.5L1288.6 336.2L1289.1 337.6L1289.6 336.6L1290.1 336.1L1290.6 336.3L1291.1 336.0L1291.6 334.4L1292.1 334.7L1292.6 335.8L1293.1 334.6L1293.6 334.2L1294.1 333.5L1294.6 332.9L1295.1 329.3L1295.6 327.1L1296.1 324.3L1296.6 320.6L1297.1 315.6L1297.6 310.7L1298.1 304.7L1298.6 300.1L1299.1 296.3L1299.6 298.1L1300.1 303.1L1300.6 309.2L1301.1 312.7L1301.6 319.0L1302.1 323.4L1302.6 325.5L1303.1 329.7L1303.6 332.1L1304.1 331.2L1304.6 332.4L1305.1 335.1L1305.6 335.8L1306.1 334.4L1306.6 334.9L1307.1 336.4L1307.6 336.1L1308.1 335.9L1308.6 337.7L1309.1 336.8L1309.6 335.3L1310.1 336.9L1310.6 335.5L1311.1 337.4L1311.6 337.7L1312.1 337.3L1312.6 337.8L1313.1 338.7L1313.6 337.9L1314.1 337.1L1314.6 336.7L1315.1 337.8L1315.6 337.0L1316.1 336.8L1316.6 337.6L1317.1 336.5L1317.6 336.9L1318.1 338.4L1318.6 337.7L1319.1 337.7L1319.6 337.9L1320.1 336.4L1320.6 337.9L1321.1 337.7L1321.6 337.5L1322.1 337.7L1322.6 335.7L1323.1 338.7L1323.6 336.8L1324.1 335.8L1324.6 336.9L1325.1 335.6L1325.6 336.3L1326.1 336.4L1326.6 334.7L1327.1 336.1L1327.6 335.1L1328.1 334.8L1328.6 334.0L1329.1 333.2L1329.6 332.1L1330.1 329.9L1330.6 327.0L1331.1 322.3L1331.6 318.1L1332.1 311.3L1332.6 304.2L1333.1 300.5L1333.6 299.2L1334.1 304.3L1334.6 309.3L1335.1 315.3L1335.6 320.4L1336.1 322.3L1336.6 323.6L1337.1 324.3L1337.6 320.5L1338.1 317.9L1338.6 315.6L1339.1 316.0L1339.6 318.5L1340.1 321.6L1340.6 325.6L1341.1 330.8L1341.6 332.2L1342.1 333.0L1342.6 334.2L1343.1 336.8L1343.6 336.8L1344.1 334.9L1344.6 336.0L1345.1 337.0L1345.6 336.6L1346.1 338.0L1346.6 338.4L1347.1 337.0L1347.6 337.4L1348.1 337.1L1348.6 338.1L1349.1 338.6L1349.6 338.1L1350.1 336.6L1350.6 338.1L1351.1 337.3L1351.6 339.1L1352.1 338.2L1352.6 339.0L1353.1 338.3L1353.6 338.4L1354.1 338.9L1354.6 338.5L1355.1 339.9L1355.6 337.7L1356.1 339.2L1356.6 338.2L1357.1 339.2L1357.6 337.2L1358.1 339.5L1358.6 338.2L1359.1 337.5L1359.6 338.9L1360.1 338.2L1360.6 338.7L1361.1 339.5L1361.6 337.5L1362.1 337.8L1362.6 338.6L1363.1 338.9L1363.6 338.2L1364.1 338.1L1364.6 339.2L1365.1 339.3L1365.6 339.9L1366.1 338.5L1366.6 337.1L1367.1 339.3L1367.6 339.5L1368.1 337.7L1368.6 338.8L1369.1 338.9L1369.6 339.0L1370.1 338.4L1370.6 338.9L1371.1 339.1L1371.6 337.3L1372.1 339.4L1372.6 338.2L1373.1 339.2L1373.6 338.1L1374.1 337.4L1374.6 339.5L1375.1 339.9L1375.6 337.2L1376.1 337.7L1376.6 338.8L1377.1 337.9L1377.6 339.3L1378.1 338.3L1378.6 338.4L1379.1 339.0L1379.6 337.2L1380.1 338.6L1380.6 340.4L1381.1 339.3L1381.6 338.1L1382.1 339.7L1382.6 340.5L1383.1 339.8L1383.6 338.1L1384.1 338.1L1384.6 338.3L1385.1 337.8L1385.6 338.6L1386.1 337.8L1386.6 338.0L1387.1 338.9L1387.6 338.2L1388.1 338.3L1388.6 340.1L1389.1 339.0L1389.6 339.4L1390.1 338.9L1390.6 339.1L1391.1 337.6L1391.6 338.3L1392.1 338.5L1392.6 338.4L1393.1 338.5L1393.6 339.0L1394.1 338.7L1394.6 339.4L1395.1 338.9L1395.6 339.9L1396.1 338.9L1396.6 338.5L1397.1 337.9L1397.6 338.3L1398.1 338.8L1398.6 339.8L1399.1 337.9L1399.6 339.6L1400.1 338.6L1400.6 337.9L1401.1 337.6L1401.6 339.2L1402.1 337.3L1402.6 338.7L1403.1 338.7L1403.6 338.6L1404.1 339.2L1404.6 338.4L1405.1 339.0L1405.6 338.1L1406.1 339.2L1406.6 339.6L1407.1 338.9L1407.6 339.3L1408.1 338.9L1408.6 338.6L1409.1 339.0L1409.6 338.9L1410.1 337.5L1410.6 337.8L1411.1 339.3L1411.6 337.5L1412.1 339.9L1412.6 337.9L1413.1 338.9L1413.6 339.3L1414.1 338.4L1414.6 339.7L1415.1 337.9L1415.6 339.7L1416.1 339.1L1416.6 338.8L1417.1 339.6L1417.6 339.4L1418.1 338.2L1418.6 340.4L1419.1 340.1L1419.6 339.4L1420.1 339.4L1420.6 340.1L1421.1 340.4L1421.6 339.7L1422.1 338.4L1422.6 339.3L1423.1 339.8L1423.6 338.4L1424.1 337.9L1424.6 338.7L1425.1 338.8L1425.6 339.0L1426.1 339.8L1426.6 337.3L1427.1 339.0L1427.6 338.8L1428.1 339.0L1428.6 339.0L1429.1 339.7L1429.6 339.4L1430.1 339.1L1430.6 339.3L1431.1 339.2L1431.6 339.0L1432.1 340.2L1432.6 337.7L1433.1 338.0L1433.6 340.3L1434.1 339.6L1434.6 339.5L1435.1 340.0L1435.6 337.6L1436.1 340.1L1436.6 338.1L1437.1 338.2L1437.6 339.5L1438.1 337.8L1438.6 339.1L1439.1 339.5L1439.6 338.0L1440.1 338.1L1440.6 339.2L1441.1 339.2L1441.6 338.8L1442.1 337.3L1442.6 339.7L1443.1 338.9L1443.6 336.8L1444.1 337.7L1444.6 337.7L1445.1 337.9L1445.6 338.5L1446.1 337.6L1446.6 339.1L1447.1 338.9L1447.6 338.1L1448.1 337.2L1448.6 337.9L1449.1 338.1L1449.6 338.5L1450.1 337.0L1450.6 337.2L1451.1 336.3L1451.6 336.5L1452.1 337.3L1452.6 337.3L1453.1 335.5L1453.6 335.3L1454.1 334.5L1454.6 333.6L1455.1 334.8L1455.6 334.5L1456.1 334.6L1456.6 334.0L1457.1 334.6L1457.6 334.5L1458.1 335.7L1458.6 335.5L1459.1 336.5L1459.6 336.7L1460.1 336.3L1460.6 335.4L1461.1 337.1L1461.6 337.1L1462.1 338.6L1462.6 337.9L1463.1 336.9L1463.6 337.3L1464.1 338.8L1464.6 338.1L1465.1 337.5L1465.6 339.0L1466.1 339.1L1466.6 338.6L1467.1 339.4L1467.6 338.8L1468.1 340.2L1468.6 337.8L1469.1 339.4L1469.6 339.4L1470.1 339.7L1470.6 338.6L1471.1 338.5L1471.6 340.0L1472.1 339.2L1472.6 338.5L1473.1 339.7L1473.6 340.3L1474.1 339.5L1474.6 338.4L1475.1 339.5L1475.6 337.6L1476.1 339.2L1476.6 339.4L1477.1 338.5L1477.6 338.8L1478.1 338.5L1478.6 337.9L1479.1 337.7L1479.6 338.3L1480.1 338.1L1480.6 339.8L1481.1 337.6L1481.6 340.2L1482.1 338.5L1482.6 338.0L1483.1 338.4L1483.6 338.0L1484.1 337.3L1484.6 339.5L1485.1 338.6L1485.6 338.1L1486.1 337.8L1486.6 338.1L1487.1 337.5L1487.6 339.4L1488.1 337.1L1488.6 337.6L1489.1 337.8L1489.6 338.8L1490.1 338.6L1490.6 338.4L1491.1 338.3L1491.6 338.8L1492.1 338.2L1492.6 339.1L1493.1 337.8L1493.6 339.2L1494.1 338.4L1494.6 339.8L1495.1 338.0L1495.6 338.5L1496.1 338.1L1496.6 339.3L1497.1 337.5L1497.6 339.1L1498.1 338.8L1498.6 338.8L1499.1 337.7L1499.6 338.4L1500.1 339.2L1500.6 337.0L1501.1 337.6L1501.6 337.1L1502.1 336.4L1502.6 336.3L1503.1 336.8L1503.6 335.9L1504.1 333.5L1504.6 334.7L1505.1 332.8L1505.6 331.7L1506.1 328.2L1506.6 327.2L1507.1 321.4L1507.6 319.7L1508.1 317.0L1508.6 318.9L1509.1 320.5L1509.6 325.2L1510.1 326.6L1510.6 329.3L1511.1 329.0L1511.6 327.9L1512.1 327.9L1512.6 327.5L1513.1 328.4L1513.6 329.2L1514.1 328.8L1514.6 330.6L1515.1 333.0L1515.6 332.8L1516.1 334.7L1516.6 336.4L1517.1 337.0L1517.6 337.3L1518.1 337.0L1518.6 338.0L1519.1 338.8L1519.6 337.8L1520.1 338.6L1520.6 340.2L1521.1 339.0L1521.6 339.1L1522.1 338.0L1522.6 338.3L1523.1 338.4L1523.6 338.2L1524.1 338.0L1524.6 337.8L1525.1 338.9L1525.6 339.8L1526.1 339.6L1526.6 339.7L1527.1 339.8L1527.6 338.4L1528.1 338.6L1528.6 339.1L1529.1 338.5L1529.6 339.4L1530.1 338.6L1530.6 339.8L1531.1 338.2L1531.6 339.3L1532.1 340.0L1532.6 337.8L1533.1 338.4L1533.6 338.3L1534.1 337.9L1534.6 339.0L1535.1 339.2L1535.6 338.2L1536.1 338.6L1536.6 339.1L1537.1 339.2L1537.6 338.3L1538.1 340.9L1538.6 339.1L1539.1 339.3L1539.6 338.9L1540.1 339.1L1540.6 338.5L1541.1 340.5L1541.6 337.8L1542.1 339.2L1542.6 340.0L1543.1 338.5L1543.6 340.0L1544.1 340.7L1544.6 339.8L1545.1 339.5L1545.6 339.6L1546.1 339.4L1546.6 340.0L1547.1 338.9L1547.6 339.8L1548.1 339.2L1548.6 338.9L1549.1 338.5L1549.6 339.9L1550.1 338.9L1550.6 340.0L1551.1 339.2L1551.6 339.4L1552.1 338.6L1552.6 338.6L1553.1 339.6L1553.6 339.0L1554.1 338.9L1554.6 339.2L1555.1 339.0L1555.6 338.4L1556.1 340.6L1556.6 340.7L1557.1 339.2L1557.6 337.9L1558.1 338.3L1558.6 339.5L1559.1 338.6L1559.6 339.2L1560.1 337.9L1560.6 339.8L1561.1 340.3L1561.6 338.4L1562.1 338.9L1562.6 338.9L1563.1 337.4L1563.6 338.7L1564.1 338.6L1564.6 337.9L1565.1 338.4L1565.6 339.1L1566.1 339.3L1566.6 339.2L1567.1 338.4L1567.6 338.3L1568.1 339.0L1568.6 338.7L1569.1 339.8L1569.6 340.0L1570.1 338.9L1570.6 337.8L1571.1 339.4L1571.6 338.7L1572.1 339.8L1572.6 339.8L1573.1 338.3L1573.6 339.8L1574.1 340.0L1574.6 339.1L1575.1 339.2L1575.6 338.3L1576.1 338.0L1576.6 339.3L1577.1 338.5L1577.6 338.1L1578.1 338.0L1578.6 338.6L1579.1 337.7L1579.6 337.2L1580.1 337.1L1580.6 336.9L1581.1 336.1L1581.6 336.1L1582.1 335.3L1582.6 334.7L1583.1 336.1L1583.6 334.3L1584.1 335.2L1584.6 333.0L1585.1 334.4L1585.6 334.2L1586.1 336.0L1586.6 334.9L1587.1 337.2L1587.6 335.8L1588.1 336.9L1588.6 336.5L1589.1 337.4L1589.6 337.8L1590.1 337.4L1590.6 337.0L1591.1 339.2L1591.6 339.1L1592.1 338.4L1592.6 338.9L1593.1 338.6L1593.6 339.0L1594.1 339.2L1594.6 339.4L1595.1 338.7L1595.6 338.9L1596.1 339.5L1596.6 338.5L1597.1 338.5L1597.6 338.9L1598.1 339.2L1598.6 338.5L1599.1 339.3L1599.6 338.6L1600.1 338.1L1600.6 338.8L1601.1 337.6L1601.6 337.4L1602.1 339.1L1602.6 337.5L1603.1 338.3L1603.6 339.8L1604.1 339.3L1604.6 338.7L1605.1 339.4L1605.6 338.4L1606.1 338.6L1606.6 339.3L1607.1 340.0L1607.6 339.6L1608.1 339.6L1608.6 339.1L1609.1 339.5L1609.6 340.0L1610.1 340.1L1610.6 339.6L1611.1 339.4L1611.6 339.6L1612.1 339.6L1612.6 338.8L1613.1 338.7L1613.6 338.6L1614.1 338.5L1614.6 340.6L1615.1 339.7L1615.6 338.7L1616.1 339.1L1616.6 339.3L1617.1 339.1L1617.6 338.6L1618.1 340.4L1618.6 338.5L1619.1 340.1L1619.6 339.6L1620.1 339.0L1620.6 339.3L1621.1 338.0L1621.6 339.6L1622.1 340.1L1622.6 338.9L1623.1 339.5L1623.6 337.6L1624.1 338.9L1624.6 338.2L1625.1 339.9L1625.6 339.1L1626.1 339.2L1626.6 339.1L1627.1 338.9L1627.6 339.5L1628.1 338.2L1628.6 339.6L1629.1 339.5L1629.6 339.6L1630.1 338.4L1630.6 339.3L1631.1 339.2L1631.6 338.7L1632.1 339.0L1632.6 337.7L1633.1 337.5L1633.6 338.3L1634.1 338.6L1634.6 335.6L1635.1 337.6L1635.6 336.3L1636.1 337.9L1636.6 337.6L1637.1 338.4L1637.6 338.2L1638.1 338.7L1638.6 339.3L1639.1 338.5L1639.6 339.4L1640.1 338.9L1640.6 339.9L1641.1 340.3L1641.6 339.5L1642.1 339.4L1642.6 338.0L1643.1 338.8L1643.6 339.1L1644.1 339.3L1644.6 338.4L1645.1 338.4L1645.6 339.1L1646.1 339.3L1646.6 340.0L1647.1 340.3L1647.6 340.0L1648.1 339.2L1648.6 340.1L1649.1 338.8L1649.6 339.5L1650.1 340.8L1650.6 340.7L1651.1 339.5L1651.6 340.3L1652.1 339.2L1652.6 339.0L1653.1 338.0L1653.6 339.6L1654.1 339.4L1654.6 340.0L1655.1 340.0L1655.6 339.1L1656.1 339.9L1656.6 340.6L1657.1 341.0L1657.6 340.0L1658.1 339.6L1658.6 339.8L1659.1 339.6L1659.6 339.1L1660.1 340.6L1660.6 340.0L1661.1 339.6L1661.6 340.6L1662.1 340.1L1662.6 338.5L1663.1 340.4L1663.6 339.0L1664.1 338.2L1664.6 339.6L1665.1 339.2L1665.6 338.8L1666.1 340.6L1666.6 339.5L1667.1 339.4L1667.6 339.4L1668.1 339.2L1668.6 339.5L1669.1 339.2L1669.6 341.1L1670.1 338.5L1670.6 339.4L1671.1 339.0L1671.6 338.9L1672.1 338.9L1672.6 339.6L1673.1 340.2L1673.6 340.6L1674.1 340.0L1674.6 339.1L1675.1 340.7L1675.6 340.7L1676.1 340.6L1676.6 338.9L1677.1 339.5L1677.6 339.6L1678.1 339.3L1678.6 339.2L1679.1 339.2L1679.6 338.7L1680.1 339.9L1680.6 340.2L1681.1 339.7L1681.6 339.4L1682.1 339.5L1682.6 340.3L1683.1 339.4L1683.6 340.0L1684.1 339.1L1684.6 339.8L1685.1 338.6L1685.6 338.8L1686.1 341.2L1686.6 339.6L1687.1 340.1L1687.6 337.6L1688.1 339.1L1688.6 339.0L1689.1 338.6L1689.6 338.9L1690.1 338.1L1690.6 339.7L1691.1 339.1L1691.6 337.7L1692.1 338.9L1692.6 338.8L1693.1 339.6L1693.6 339.1L1694.1 337.1L1694.6 337.2L1695.1 338.3L1695.6 336.2L1696.1 337.4L1696.6 335.9L1697.1 336.5L1697.6 336.1L1698.1 335.6L1698.6 334.4L1699.1 334.6L1699.6 335.4L1700.1 334.4L1700.6 335.1L1701.1 336.3L1701.6 336.6L1702.1 336.8L1702.6 336.1L1703.1 336.5L1703.6 336.7L1704.1 336.8L1704.6 337.5L1705.1 336.8L1705.6 338.4L1706.1 338.0L1706.6 339.3L1707.1 339.7L1707.6 340.1L1708.1 338.6L1708.6 339.0L1709.1 338.6L1709.6 338.0L1710.1 338.8L1710.6 338.8L1711.1 340.3L1711.6 337.8L1712.1 339.9L1712.6 339.0L1713.1 338.9L1713.6 339.1L1714.1 339.7L1714.6 339.3L1715.1 341.0L1715.6 339.7L1716.1 339.2L1716.6 339.1L1717.1 339.4L1717.6 340.7L1718.1 340.2L1718.6 340.9L1719.1 339.0L1719.6 339.7L1720.1 340.2L1720.6 340.1L1721.1 340.5L1721.6 340.7L1722.1 339.5L1722.6 338.1L1723.1 339.2L1723.6 338.8L1724.1 340.0L1724.6 340.8L1725.1 339.3L1725.6 340.4L1726.1 339.2L1726.6 339.8L1727.1 339.2L1727.6 339.7L1728.1 338.4L1728.6 338.9L1729.1 340.2L1729.6 339.9L1730.1 338.2L1730.6 340.1L1731.1 340.2L1731.6 339.0L1732.1 339.5L1732.6 339.0L1733.1 339.5L1733.6 339.5L1734.1 338.9L1734.6 339.2L1735.1 338.7L1735.6 339.6L1736.1 338.5L1736.6 339.3L1737.1 339.3L1737.6 338.4L1738.1 338.6L1738.6 339.1L1739.1 339.7L1739.6 338.3L1740.1 338.8L1740.6 338.7L1741.1 337.4L1741.6 338.5L1742.1 339.1L1742.6 338.9L1743.1 337.7L1743.6 338.3L1744.1 337.2L1744.6 337.4L1745.1 337.5L1745.6 335.7L1746.1 336.1L1746.6 334.1L1747.1 335.5L1747.6 332.9L1748.1 333.4L1748.6 333.1L1749.1 333.7L1749.6 334.6L1750.1 333.4L1750.6 334.0L1751.1 333.7L1751.6 335.7L1752.1 336.6L1752.6 337.3L1753.1 336.2L1753.6 336.5L1754.1 338.3L1754.6 338.5L1755.1 336.5L1755.6 337.7L1756.1 336.8L1756.6 338.6L1757.1 338.8L1757.6 339.2L1758.1 339.4L1758.6 339.6L1759.1 339.3L1759.6 338.3L1760.1 339.7L1760.6 340.2L1761.1 338.6L1761.6 339.1L1762.1 340.7L1762.6 341.0L1763.1 339.3L1763.6 338.5L1764.1 339.0L1764.6 338.8L1765.1 339.0L1765.6 339.9L1766.1 337.8L1766.6 337.6L1767.1 340.5L1767.6 338.6L1768.1 340.1L1768.6 337.8L1769.1 339.8L1769.6 338.1L1770.1 338.5L1770.6 338.2L1771.1 339.7L1771.6 338.6L1772.1 338.7L1772.6 340.0L1773.1 340.5L1773.6 339.6L1774.1 339.5L1774.6 340.0L1775.1 340.5L1775.6 339.1L1776.1 338.5L1776.6 340.7L1777.1 340.4L1777.6 338.3L1778.1 339.9L1778.6 339.7L1779.1 339.3L1779.6 338.4L1780.1 338.3L1780.6 339.1L1781.1 339.4L1781.6 340.7L1782.1 338.3L1782.6 340.2L1783.1 339.6L1783.6 340.1L1784.1 341.0L1784.6 339.1L1785.1 339.4L1785.6 337.9L1786.1 338.5L1786.6 340.1L1787.1 340.1L1787.6 338.6L1788.1 338.2L1788.6 338.3L1789.1 337.7L1789.6 338.5L1790.1 335.6L1790.6 334.6L1791.1 334.5L1791.6 333.2L1792.1 333.7L1792.6 333.4L1793.1 332.3L1793.6 333.9L1794.1 334.4L1794.6 335.6L1795.1 335.7L1795.6 336.4L1796.1 336.9L1796.6 338.5L1797.1 337.0L1797.6 337.8L1798.1 338.5L1798.6 338.6L1799.1 339.5L1799.6 338.5L1800.1 339.2L1800.6 339.0L1801.1 338.4L1801.6 338.8L1802.1 339.1L1802.6 338.6L1803.1 340.7L1803.6 339.1L1804.1 339.9L1804.6 340.5L1805.1 340.9L1805.6 337.9L1806.1 338.8L1806.6 338.1L1807.1 338.9L1807.6 339.0L1808.1 338.1L1808.6 340.2L1809.1 340.3L1809.6 338.9L1810.1 339.9L1810.6 340.0L1811.1 340.0L1811.6 338.4L1812.1 341.2L1812.6 341.2L1813.1 339.3L1813.6 339.3L1814.1 338.8L1814.6 340.3L1815.1 339.8L1815.6 340.2L1816.1 339.6L1816.6 338.9L1817.1 339.2L1817.6 339.4L1818.1 339.9L1818.6 339.5L1819.1 340.2L1819.6 340.1L1820.1 340.4L1820.6 340.0L1821.1 341.0L1821.6 341.1L1822.1 339.2L1822.6 338.7L1823.1 340.1L1823.6 340.0L1824.1 340.2L1824.6 339.2L1825.1 338.7L1825.6 339.5L1826.1 340.7L1826.6 339.4L1827.1 340.2L1827.6 339.2L1828.1 339.1L1828.6 339.1L1829.1 338.2L1829.6 339.5L1830.1 340.8L1830.6 340.2L1831.1 339.4L1831.6 340.2L1832.1 340.4L1832.6 340.7L1833.1 339.5L1833.6 340.0L1834.1 340.4L1834.6 340.8L1835.1 339.1L1835.6 339.8L1836.1 338.5L1836.6 339.3L1837.1 340.3L1837.6 341.3L1838.1 339.8L1838.6 339.8L1839.1 339.3L1839.6 338.9L1840.1 339.3L1840.6 340.3L1841.1 338.3L1841.6 339.7L1842.1 339.3L1842.6 339.0L1843.1 340.0L1843.6 339.2L1844.1 339.0L1844.6 339.5L1845.1 338.8L1845.6 338.7L1846.1 339.4L1846.6 339.1L1847.1 340.6L1847.6 339.8L1848.1 339.0L1848.6 339.6L1849.1 340.3L1849.6 340.1L1850.1 340.8L1850.6 338.9L1851.1 340.4L1851.6 339.1L1852.1 339.4L1852.6 338.8L1853.1 338.7L1853.6 340.8L1854.1 341.1L1854.6 339.9L1855.1 340.3L1855.6 339.6L1856.1 340.8L1856.6 338.3L1857.1 340.9L1857.6 338.4L1858.1 340.8L1858.6 341.3L1859.1 338.9L1859.6 339.2L1860.1 339.7L1860.6 340.4L1861.1 338.2L1861.6 339.6L1862.1 340.3L1862.6 340.4L1863.1 340.3L1863.6 339.5L1864.1 339.3L1864.6 338.9L1865.1 340.9L1865.6 338.3L1866.1 339.2L1866.6 338.8L1867.1 338.7L1867.6 338.7L1868.1 337.6L1868.6 337.5L1869.1 336.6L1869.6 337.0L1870.1 335.8L1870.6 335.7L1871.1 335.1L1871.6 336.2L1872.1 335.7L1872.6 333.3L1873.1 333.9L1873.6 333.5L1874.1 334.9L1874.6 335.8L1875.1 335.9L1875.6 337.1L1876.1 336.7L1876.6 337.5L1877.1 336.4L1877.6 338.7L1878.1 337.6L1878.6 338.2L1879.1 339.3L1879.6 337.9L1880.1 339.9L1880.6 339.2L1881.1 339.3L1881.6 338.2L1882.1 338.3L1882.6 339.3L1883.1 339.0L1883.6 338.8L1884.1 339.2L1884.6 338.6L1885.1 339.1L1885.6 339.6L1886.1 338.7L1886.6 338.9L1887.1 339.5L1887.6 339.1L1888.1 339.4L1888.6 339.5L1889.1 338.2L1889.6 340.7L1890.1 339.4L1890.6 339.8L1891.1 338.9L1891.6 339.6L1892.1 339.6L1892.6 339.1L1893.1 339.8L1893.6 339.0L1894.1 341.9L1894.6 340.5L1895.1 340.6L1895.6 340.4L1896.1 339.3L1896.6 340.0L1897.1 338.2L1897.6 339.1L1898.1 340.3L1898.6 339.6" fill="none" stroke="#000080" stroke-width="4.8" stroke-linejoin="round" stroke-linecap="butt" shape-rendering="crispEdges"/>
<polygon points="329.5,245.6 342.8,263.6 329.5,281.6 316.2,263.6" fill="#000080"/>
<circle cx="396.0" cy="225.0" r="13.1" fill="#000080"/>
<rect x="447.1" y="237.2" width="25.7" height="25.7" fill="none" stroke="#000080" stroke-width="2.3"/>
<rect x="643.1" y="50.1" width="25.7" height="25.7" fill="none" stroke="#000080" stroke-width="2.3"/>
<polygon points="711.0,140.8 724.3,158.8 711.0,176.8 697.7,158.8" fill="#000080"/>
<rect x="777.0" y="294.1" width="25.7" height="25.7" fill="none" stroke="#000080" stroke-width="2.3"/>
<rect x="812.0" y="264.1" width="25.7" height="25.7" fill="none" stroke="#000080" stroke-width="2.3"/>
<rect x="999.6" y="238.1" width="25.7" height="25.7" fill="none" stroke="#000080" stroke-width="2.3"/>
<circle cx="1092.4" cy="308.2" r="13.1" fill="#000080"/>
<rect x="1104.1" y="220.1" width="25.7" height="25.7" fill="none" stroke="#000080" stroke-width="2.3"/>
<rect x="1179.1" y="283.1" width="25.7" height="25.7" fill="none" stroke="#000080" stroke-width="2.3"/>
<rect x="1285.0" y="264.9" width="25.7" height="25.7" fill="none" stroke="#000080" stroke-width="2.3"/>
<polygon points="1332.6,253.0 1345.9,271.0 1332.6,289.0 1319.3,271.0" fill="#000080"/>
<rect x="1494.1" y="283.1" width="25.7" height="25.7" fill="none" stroke="#000080" stroke-width="2.3"/>
<rect x="1687.1" y="300.2" width="25.7" height="25.7" fill="none" stroke="#000080" stroke-width="2.3"/>
<rect x="1732.0" y="301.1" width="25.7" height="25.7" fill="none" stroke="#000080" stroke-width="2.3"/>
<rect x="1781.1" y="301.1" width="25.7" height="25.7" fill="none" stroke="#000080" stroke-width="2.3"/>
<rect x="1856.2" y="301.1" width="25.7" height="25.7" fill="none" stroke="#000080" stroke-width="2.3"/>
<text x="112.4" y="308.4" font-size="49.3" font-weight="bold" fill="#000080">Sample A</text>
<path d="M145.6 666.8L146.1 667.3L146.6 664.9L147.1 669.9L147.6 665.3L148.1 666.5L148.6 668.0L149.1 666.2L149.6 666.5L150.1 666.3L150.6 668.6L151.1 670.8L151.6 667.8L152.1 665.8L152.6 668.1L153.1 666.4L153.6 668.0L154.1 669.8L154.6 667.4L155.1 668.5L155.6 667.4L156.1 668.0L156.6 668.2L157.1 666.7L157.6 667.7L158.1 667.8L158.6 667.2L159.1 665.5L159.6 665.5L160.1 666.8L160.6 666.6L161.1 670.1L161.6 664.2L162.1 667.0L162.6 667.1L163.1 668.1L163.6 666.9L164.1 665.0L164.6 666.0L165.1 666.9L165.6 665.3L166.1 666.9L166.6 662.5L167.1 667.6L167.6 667.6L168.1 664.9L168.6 666.6L169.1 665.6L169.6 664.3L170.1 665.6L170.6 666.7L171.1 665.2L171.6 664.6L172.1 665.3L172.6 665.5L173.1 666.3L173.6 663.6L174.1 665.0L174.6 664.6L175.1 661.5L175.6 663.4L176.1 663.5L176.6 663.2L177.1 663.8L177.6 660.6L178.1 663.8L178.6 663.1L179.1 662.1L179.6 664.7L180.1 665.4L180.6 663.6L181.1 665.8L181.6 664.1L182.1 665.1L182.6 664.3L183.1 668.0L183.6 663.0L184.1 665.8L184.6 667.1L185.1 663.2L185.6 665.4L186.1 665.8L186.6 667.0L187.1 667.5L187.6 665.1L188.1 663.3L188.6 667.3L189.1 666.9L189.6 664.6L190.1 665.5L190.6 666.0L191.1 666.4L191.6 666.1L192.1 667.4L192.6 663.9L193.1 667.4L193.6 666.3L194.1 665.4L194.6 667.0L195.1 662.4L195.6 667.3L196.1 665.9L196.6 663.2L197.1 665.0L197.6 665.1L198.1 668.1L198.6 668.4L199.1 666.9L199.6 665.6L200.1 667.0L200.6 667.6L201.1 667.6L201.6 667.5L202.1 668.6L202.6 669.9L203.1 669.9L203.6 670.5L204.1 670.5L204.6 675.4L205.1 671.0L205.6 671.7L206.1 674.4L206.6 673.5L207.1 674.5L207.6 675.3L208.1 675.8L208.6 675.3L209.1 672.8L209.6 676.0L210.1 672.5L210.6 674.7L211.1 674.3L211.6 673.3L212.1 675.5L212.6 674.7L213.1 676.3L213.6 673.2L214.1 676.2L214.6 675.2L215.1 674.3L215.6 672.3L216.1 673.8L216.6 672.3L217.1 671.9L217.6 677.9L218.1 676.1L218.6 676.9L219.1 673.3L219.6 674.8L220.1 675.4L220.6 675.8L221.1 674.9L221.6 675.1L222.1 672.0L222.6 675.7L223.1 675.4L223.6 676.6L224.1 674.8L224.6 677.7L225.1 675.2L225.6 674.2L226.1 677.1L226.6 674.8L227.1 673.8L227.6 676.0L228.1 676.1L228.6 675.3L229.1 675.7L229.6 678.1L230.1 676.2L230.6 676.8L231.1 672.0L231.6 674.8L232.1 675.6L232.6 673.9L233.1 673.5L233.6 675.6L234.1 674.6L234.6 674.4L235.1 677.3L235.6 677.9L236.1 677.0L236.6 675.7L237.1 677.1L237.6 677.8L238.1 677.1L238.6 674.2L239.1 676.3L239.6 677.3L240.1 677.6L240.6 677.8L241.1 677.4L241.6 674.3L242.1 675.1L242.6 674.8L243.1 678.9L243.6 677.3L244.1 677.4L244.6 677.8L245.1 676.2L245.6 675.0L246.1 675.9L246.6 676.1L247.1 678.8L247.6 678.2L248.1 675.3L248.6 677.6L249.1 677.2L249.6 675.0L250.1 676.6L250.6 674.2L251.1 677.6L251.6 676.9L252.1 675.4L252.6 676.4L253.1 677.6L253.6 676.9L254.1 678.4L254.6 679.0L255.1 676.7L255.6 677.2L256.1 680.8L256.6 678.1L257.1 676.8L257.6 678.1L258.1 675.5L258.6 678.9L259.1 677.7L259.6 678.3L260.1 678.2L260.6 678.2L261.1 678.5L261.6 677.2L262.1 675.6L262.6 674.8L263.1 675.7L263.6 673.5L264.1 679.3L264.6 674.0L265.1 676.1L265.6 674.2L266.1 672.5L266.6 675.3L267.1 675.0L267.6 675.3L268.1 676.3L268.6 674.5L269.1 676.0L269.6 675.1L270.1 674.4L270.6 674.4L271.1 675.6L271.6 675.9L272.1 675.9L272.6 673.2L273.1 676.6L273.6 676.8L274.1 676.9L274.6 677.5L275.1 680.1L275.6 677.8L276.1 678.9L276.6 676.8L277.1 676.6L277.6 677.1L278.1 676.1L278.6 677.5L279.1 676.7L279.6 677.4L280.1 675.6L280.6 675.5L281.1 676.5L281.6 676.3L282.1 677.2L282.6 677.4L283.1 677.8L283.6 679.6L284.1 679.6L284.6 678.5L285.1 676.9L285.6 679.4L286.1 674.9L286.6 674.7L287.1 677.5L287.6 677.0L288.1 676.7L288.6 677.2L289.1 674.8L289.6 675.8L290.1 679.3L290.6 679.4L291.1 677.2L291.6 681.5L292.1 677.0L292.6 677.9L293.1 678.9L293.6 676.8L294.1 677.5L294.6 677.8L295.1 677.3L295.6 679.4L296.1 678.9L296.6 676.5L297.1 676.8L297.6 678.3L298.1 677.6L298.6 676.9L299.1 678.9L299.6 679.3L300.1 677.7L300.6 679.9L301.1 676.2L301.6 676.1L302.1 679.1L302.6 677.1L303.1 676.5L303.6 677.4L304.1 676.4L304.6 677.3L305.1 675.2L305.6 676.2L306.1 679.5L306.6 676.1L307.1 673.9L307.6 677.5L308.1 677.8L308.6 679.0L309.1 677.3L309.6 676.6L310.1 679.3L310.6 677.8L311.1 675.2L311.6 678.7L312.1 677.6L312.6 679.2L313.1 676.7L313.6 678.1L314.1 677.2L314.6 678.0L315.1 677.3L315.6 677.0L316.1 678.1L316.6 678.7L317.1 679.1L317.6 681.3L318.1 679.3L318.6 679.8L319.1 682.0L319.6 679.5L320.1 680.1L320.6 678.7L321.1 679.4L321.6 681.4L322.1 679.4L322.6 680.2L323.1 676.5L323.6 676.3L324.1 678.7L324.6 676.0L325.1 681.0L325.6 680.1L326.1 676.2L326.6 677.8L327.1 677.4L327.6 678.9L328.1 678.0L328.6 679.6L329.1 680.1L329.6 677.7L330.1 676.5L330.6 678.8L331.1 677.5L331.6 679.0L332.1 677.6L332.6 679.0L333.1 678.1L333.6 677.4L334.1 676.6L334.6 678.2L335.1 680.1L335.6 678.4L336.1 677.2L336.6 678.7L337.1 677.9L337.6 675.5L338.1 677.2L338.6 678.7L339.1 676.2L339.6 674.9L340.1 677.5L340.6 679.5L341.1 678.1L341.6 677.7L342.1 679.3L342.6 678.9L343.1 677.9L343.6 677.2L344.1 678.3L344.6 678.6L345.1 680.0L345.6 677.5L346.1 681.1L346.6 679.3L347.1 678.5L347.6 680.0L348.1 676.5L348.6 678.1L349.1 678.4L349.6 680.1L350.1 677.8L350.6 680.7L351.1 677.7L351.6 679.0L352.1 677.2L352.6 680.2L353.1 678.4L353.6 679.5L354.1 678.1L354.6 677.1L355.1 678.1L355.6 679.8L356.1 677.0L356.6 677.2L357.1 678.3L357.6 680.0L358.1 676.7L358.6 677.3L359.1 678.0L359.6 677.5L360.1 677.9L360.6 679.5L361.1 677.9L361.6 677.0L362.1 677.5L362.6 676.5L363.1 675.1L363.6 675.5L364.1 675.1L364.6 679.0L365.1 676.1L365.6 677.1L366.1 677.5L366.6 675.4L367.1 678.2L367.6 676.7L368.1 675.0L368.6 677.5L369.1 676.1L369.6 677.2L370.1 678.3L370.6 680.5L371.1 676.8L371.6 677.1L372.1 678.0L372.6 677.4L373.1 676.5L373.6 675.3L374.1 675.6L374.6 676.8L375.1 675.3L375.6 676.0L376.1 675.3L376.6 678.6L377.1 674.7L377.6 678.7L378.1 675.5L378.6 675.2L379.1 673.9L379.6 676.4L380.1 676.7L380.6 673.7L381.1 674.5L381.6 673.3L382.1 672.6L382.6 672.3L383.1 672.2L383.6 667.6L384.1 666.3L384.6 669.4L385.1 667.7L385.6 667.7L386.1 663.0L386.6 662.7L387.1 664.6L387.6 658.7L388.1 659.5L388.6 656.1L389.1 653.1L389.6 647.0L390.1 644.7L390.6 632.9L391.1 622.8L391.6 609.3L392.1 593.6L392.6 568.1L393.1 539.7L393.6 504.6L394.1 470.4L394.6 443.8L395.1 435.2L395.6 443.6L396.1 467.4L396.6 505.1L397.1 537.6L397.6 565.5L398.1 591.1L398.6 608.8L399.1 627.6L399.6 635.7L400.1 641.6L400.6 650.4L401.1 653.2L401.6 660.1L402.1 661.5L402.6 660.4L403.1 663.6L403.6 664.0L404.1 666.0L404.6 667.2L405.1 665.6L405.6 669.6L406.1 669.2L406.6 670.1L407.1 672.9L407.6 674.8L408.1 672.7L408.6 676.6L409.1 672.0L409.6 675.1L410.1 673.2L410.6 674.4L411.1 673.4L411.6 674.0L412.1 674.9L412.6 675.1L413.1 676.5L413.6 679.0L414.1 675.1L414.6 676.0L415.1 674.1L415.6 673.8L416.1 678.8L416.6 675.2L417.1 676.1L417.6 677.0L418.1 678.7L418.6 678.2L419.1 680.2L419.6 677.9L420.1 675.6L420.6 678.5L421.1 678.6L421.6 677.3L422.1 677.7L422.6 677.9L423.1 681.0L423.6 677.6L424.1 676.6L424.6 678.5L425.1 675.4L425.6 678.4L426.1 679.3L426.6 677.9L427.1 678.0L427.6 678.7L428.1 681.8L428.6 680.4L429.1 678.3L429.6 678.0L430.1 679.7L430.6 680.0L431.1 678.8L431.6 679.3L432.1 678.8L432.6 680.7L433.1 679.3L433.6 677.9L434.1 678.0L434.6 676.7L435.1 679.5L435.6 679.1L436.1 677.8L436.6 678.7L437.1 678.4L437.6 682.1L438.1 678.5L438.6 680.2L439.1 680.0L439.6 678.5L440.1 679.3L440.6 678.8L441.1 679.2L441.6 679.4L442.1 680.2L442.6 679.7L443.1 678.4L443.6 678.5L444.1 678.1L444.6 677.8L445.1 676.2L445.6 679.5L446.1 678.4L446.6 678.7L447.1 676.1L447.6 675.9L448.1 674.7L448.6 676.7L449.1 677.0L449.6 676.0L450.1 674.3L450.6 672.5L451.1 672.9L451.6 671.5L452.1 670.9L452.6 669.4L453.1 665.8L453.6 663.8L454.1 661.3L454.6 656.0L455.1 648.7L455.6 636.3L456.1 624.3L456.6 606.4L457.1 578.6L457.6 546.3L458.1 512.8L458.6 499.4L459.1 514.0L459.6 545.8L460.1 578.4L460.6 606.4L461.1 626.2L461.6 640.1L462.1 645.4L462.6 653.4L463.1 658.3L463.6 661.6L464.1 662.8L464.6 668.5L465.1 666.7L465.6 670.1L466.1 667.9L466.6 671.5L467.1 672.4L467.6 672.5L468.1 675.9L468.6 678.6L469.1 674.8L469.6 674.7L470.1 678.6L470.6 677.2L471.1 675.6L471.6 673.7L472.1 675.6L472.6 674.1L473.1 673.8L473.6 668.3L474.1 666.5L474.6 665.3L475.1 666.0L475.6 669.7L476.1 671.6L476.6 672.0L477.1 674.8L477.6 676.1L478.1 678.6L478.6 677.6L479.1 677.0L479.6 678.7L480.1 678.8L480.6 680.1L481.1 681.0L481.6 681.2L482.1 680.2L482.6 679.3L483.1 680.4L483.6 679.4L484.1 679.2L484.6 680.6L485.1 680.6L485.6 681.7L486.1 679.6L486.6 678.4L487.1 681.6L487.6 679.6L488.1 682.2L488.6 679.8L489.1 680.6L489.6 679.6L490.1 684.4L490.6 680.8L491.1 681.0L491.6 680.3L492.1 680.6L492.6 682.2L493.1 680.9L493.6 680.6L494.1 682.0L494.6 678.6L495.1 681.4L495.6 682.2L496.1 678.0L496.6 680.4L497.1 678.3L497.6 677.6L498.1 679.6L498.6 681.3L499.1 681.8L499.6 680.2L500.1 679.6L500.6 680.3L501.1 679.7L501.6 679.7L502.1 677.0L502.6 679.1L503.1 678.1L503.6 680.1L504.1 677.0L504.6 674.4L505.1 672.7L505.6 670.7L506.1 666.4L506.6 661.1L507.1 660.0L507.6 660.5L508.1 662.5L508.6 664.1L509.1 665.9L509.6 668.3L510.1 669.1L510.6 669.7L511.1 665.7L511.6 663.3L512.1 656.5L512.6 653.9L513.1 647.8L513.6 644.5L514.1 649.5L514.6 656.3L515.1 660.7L515.6 668.6L516.1 670.1L516.6 674.2L517.1 673.3L517.6 675.8L518.1 676.0L518.6 673.5L519.1 673.1L519.6 671.5L520.1 671.6L520.6 670.9L521.1 672.1L521.6 673.2L522.1 673.1L522.6 674.6L523.1 677.0L523.6 679.6L524.1 683.2L524.6 681.8L525.1 680.1L525.6 678.2L526.1 682.0L526.6 681.4L527.1 680.2L527.6 683.5L528.1 682.7L528.6 682.5L529.1 680.6L529.6 684.6L530.1 683.5L530.6 683.2L531.1 682.5L531.6 683.2L532.1 685.6L532.6 684.4L533.1 686.2L533.6 685.1L534.1 684.3L534.6 684.8L535.1 684.1L535.6 681.9L536.1 682.8L536.6 684.6L537.1 682.9L537.6 683.3L538.1 682.3L538.6 686.1L539.1 681.7L539.6 681.7L540.1 682.2L540.6 684.5L541.1 684.6L541.6 682.0L542.1 683.2L542.6 681.1L543.1 682.6L543.6 685.6L544.1 684.5L544.6 683.3L545.1 681.7L545.6 682.9L546.1 681.4L546.6 680.5L547.1 684.9L547.6 685.1L548.1 684.8L548.6 685.8L549.1 681.8L549.6 685.3L550.1 682.2L550.6 684.1L551.1 684.2L551.6 684.7L552.1 685.7L552.6 683.2L553.1 681.9L553.6 681.0L554.1 682.4L554.6 681.2L555.1 680.8L555.6 681.8L556.1 682.9L556.6 681.7L557.1 680.7L557.6 682.4L558.1 680.8L558.6 680.4L559.1 684.2L559.6 682.5L560.1 685.0L560.6 679.9L561.1 683.5L561.6 681.9L562.1 684.8L562.6 681.5L563.1 681.5L563.6 682.4L564.1 681.7L564.6 680.6L565.1 683.2L565.6 682.4L566.1 682.9L566.6 682.4L567.1 680.8L567.6 681.1L568.1 683.2L568.6 681.0L569.1 684.2L569.6 682.1L570.1 681.2L570.6 682.8L571.1 681.5L571.6 682.8L572.1 680.9L572.6 682.8L573.1 679.4L573.6 676.5L574.1 676.9L574.6 677.3L575.1 680.2L575.6 681.7L576.1 679.0L576.6 677.5L577.1 680.2L577.6 680.1L578.1 679.0L578.6 680.1L579.1 680.0L579.6 678.4L580.1 680.2L580.6 678.0L581.1 676.9L581.6 677.5L582.1 679.4L582.6 678.9L583.1 677.5L583.6 674.9L584.1 674.3L584.6 675.6L585.1 675.4L585.6 676.8L586.1 675.6L586.6 676.6L587.1 677.5L587.6 680.2L588.1 681.5L588.6 679.6L589.1 680.9L589.6 681.0L590.1 679.6L590.6 680.9L591.1 681.7L591.6 679.5L592.1 682.6L592.6 679.8L593.1 679.9L593.6 679.4L594.1 677.9L594.6 680.6L595.1 679.9L595.6 679.6L596.1 680.0L596.6 680.9L597.1 680.3L597.6 680.2L598.1 681.4L598.6 682.2L599.1 681.6L599.6 680.2L600.1 682.3L600.6 681.2L601.1 682.0L601.6 680.4L602.1 679.6L602.6 678.7L603.1 678.8L603.6 679.6L604.1 677.0L604.6 680.5L605.1 682.0L605.6 680.0L606.1 678.3L606.6 678.3L607.1 681.2L607.6 680.9L608.1 680.6L608.6 681.4L609.1 679.4L609.6 679.9L610.1 680.2L610.6 679.0L611.1 680.0L611.6 680.0L612.1 678.4L612.6 677.4L613.1 677.7L613.6 680.7L614.1 677.5L614.6 679.6L615.1 678.0L615.6 682.5L616.1 678.7L616.6 680.5L617.1 678.7L617.6 682.4L618.1 676.9L618.6 679.4L619.1 676.7L619.6 679.4L620.1 675.8L620.6 676.9L621.1 675.0L621.6 676.2L622.1 676.8L622.6 678.8L623.1 673.5L623.6 677.3L624.1 676.3L624.6 675.5L625.1 676.0L625.6 676.8L626.1 676.0L626.6 676.3L627.1 675.3L627.6 675.5L628.1 676.6L628.6 674.7L629.1 675.2L629.6 676.1L630.1 675.6L630.6 675.8L631.1 675.2L631.6 672.6L632.1 675.9L632.6 676.3L633.1 676.6L633.6 675.3L634.1 675.8L634.6 674.6L635.1 673.2L635.6 674.7L636.1 674.0L636.6 675.5L637.1 675.2L637.6 673.2L638.1 672.9L638.6 672.8L639.1 672.7L639.6 673.9L640.1 670.6L640.6 672.7L641.1 668.3L641.6 669.0L642.1 671.5L642.6 669.4L643.1 668.4L643.6 668.9L644.1 667.0L644.6 666.6L645.1 666.4L645.6 665.0L646.1 663.8L646.6 661.8L647.1 661.6L647.6 658.3L648.1 657.8L648.6 654.9L649.1 652.7L649.6 649.8L650.1 644.5L650.6 640.7L651.1 636.6L651.6 631.4L652.1 624.8L652.6 614.9L653.1 604.4L653.6 594.4L654.1 580.9L654.6 567.5L655.1 553.1L655.6 539.2L656.1 519.9L656.6 509.5L657.1 502.5L657.6 501.3L658.1 504.9L658.6 512.8L659.1 526.0L659.6 538.4L660.1 553.9L660.6 569.1L661.1 580.9L661.6 596.9L662.1 604.7L662.6 613.9L663.1 624.2L663.6 627.7L664.1 635.7L664.6 641.0L665.1 647.4L665.6 651.9L666.1 652.4L666.6 652.8L667.1 656.8L667.6 659.5L668.1 659.1L668.6 662.0L669.1 665.0L669.6 663.7L670.1 662.4L670.6 663.1L671.1 662.7L671.6 664.6L672.1 664.7L672.6 667.6L673.1 663.4L673.6 663.2L674.1 665.4L674.6 666.2L675.1 665.2L675.6 667.2L676.1 668.1L676.6 667.6L677.1 667.1L677.6 667.3L678.1 664.0L678.6 667.2L679.1 666.1L679.6 665.0L680.1 665.3L680.6 664.9L681.1 664.0L681.6 663.7L682.1 662.7L682.6 660.3L683.1 664.2L683.6 661.0L684.1 661.9L684.6 656.7L685.1 657.0L685.6 651.2L686.1 649.9L686.6 643.8L687.1 637.9L687.6 629.7L688.1 622.7L688.6 615.7L689.1 603.0L689.6 598.5L690.1 593.9L690.6 594.4L691.1 600.5L691.6 607.3L692.1 613.8L692.6 623.5L693.1 628.6L693.6 635.2L694.1 642.1L694.6 647.5L695.1 650.6L695.6 652.5L696.1 656.8L696.6 660.3L697.1 658.8L697.6 660.5L698.1 659.4L698.6 661.9L699.1 661.0L699.6 662.7L700.1 664.6L700.6 663.5L701.1 661.8L701.6 663.9L702.1 660.5L702.6 663.8L703.1 662.1L703.6 660.1L704.1 660.1L704.6 658.4L705.1 661.2L705.6 657.4L706.1 652.7L706.6 650.5L707.1 648.4L707.6 643.2L708.1 639.8L708.6 635.0L709.1 627.1L709.6 624.3L710.1 620.8L710.6 614.9L711.1 613.5L711.6 611.9L712.1 614.5L712.6 619.7L713.1 622.3L713.6 625.4L714.1 632.5L714.6 633.3L715.1 635.9L715.6 636.6L716.1 636.5L716.6 635.7L717.1 633.4L717.6 629.0L718.1 627.3L718.6 621.6L719.1 619.5L719.6 615.7L720.1 615.9L720.6 615.7L721.1 620.9L721.6 622.6L722.1 624.2L722.6 625.8L723.1 629.6L723.6 633.6L724.1 632.1L724.6 634.7L725.1 631.5L725.6 629.0L726.1 625.4L726.6 622.7L727.1 617.5L727.6 609.7L728.1 600.1L728.6 586.5L729.1 574.2L729.6 556.5L730.1 537.7L730.6 519.0L731.1 494.7L731.6 473.5L732.1 451.0L732.6 435.7L733.1 422.1L733.6 420.6L734.1 427.9L734.6 441.7L735.1 461.7L735.6 481.9L736.1 509.2L736.6 527.9L737.1 549.9L737.6 566.5L738.1 585.0L738.6 598.6L739.1 610.7L739.6 619.3L740.1 628.8L740.6 635.2L741.1 640.9L741.6 647.4L742.1 647.7L742.6 653.7L743.1 656.6L743.6 657.4L744.1 660.7L744.6 665.1L745.1 665.6L745.6 665.6L746.1 668.3L746.6 669.4L747.1 667.6L747.6 669.7L748.1 670.9L748.6 671.3L749.1 672.3L749.6 672.5L750.1 672.6L750.6 672.3L751.1 672.8L751.6 673.8L752.1 675.3L752.6 675.0L753.1 674.6L753.6 676.3L754.1 678.6L754.6 675.3L755.1 677.8L755.6 676.5L756.1 677.5L756.6 678.7L757.1 678.8L757.6 680.6L758.1 677.8L758.6 679.1L759.1 681.9L759.6 681.8L760.1 679.5L760.6 680.4L761.1 681.4L761.6 682.2L762.1 679.7L762.6 681.5L763.1 678.2L763.6 682.7L764.1 683.5L764.6 679.4L765.1 680.6L765.6 679.1L766.1 680.9L766.6 682.7L767.1 682.6L767.6 682.4L768.1 679.9L768.6 680.3L769.1 683.6L769.6 681.9L770.1 681.1L770.6 682.5L771.1 681.3L771.6 682.5L772.1 680.9L772.6 681.3L773.1 679.9L773.6 684.6L774.1 683.1L774.6 683.3L775.1 683.8L775.6 682.2L776.1 680.8L776.6 683.0L777.1 683.4L777.6 683.5L778.1 682.2L778.6 680.7L779.1 683.6L779.6 683.2L780.1 682.1L780.6 680.9L781.1 681.3L781.6 680.6L782.1 679.4L782.6 680.4L783.1 679.6L783.6 680.2L784.1 679.0L784.6 679.8L785.1 677.5L785.6 679.5L786.1 681.5L786.6 678.0L787.1 678.1L787.6 677.0L788.1 674.7L788.6 672.7L789.1 666.9L789.6 664.7L790.1 663.2L790.6 657.9L791.1 655.8L791.6 658.0L792.1 654.7L792.6 662.1L793.1 665.3L793.6 665.4L794.1 669.9L794.6 674.7L795.1 674.4L795.6 676.1L796.1 678.4L796.6 677.7L797.1 678.8L797.6 679.0L798.1 679.6L798.6 680.3L799.1 682.5L799.6 680.1L800.1 678.0L800.6 679.8L801.1 679.1L801.6 681.4L802.1 675.6L802.6 677.6L803.1 676.0L803.6 676.8L804.1 672.3L804.6 671.1L805.1 671.9L805.6 671.5L806.1 669.7L806.6 669.5L807.1 668.4L807.6 669.7L808.1 668.9L808.6 668.1L809.1 671.5L809.6 669.0L810.1 669.2L810.6 671.7L811.1 672.7L811.6 673.8L812.1 673.9L812.6 675.5L813.1 675.0L813.6 674.9L814.1 679.0L814.6 677.1L815.1 678.9L815.6 677.6L816.1 678.1L816.6 679.7L817.1 674.7L817.6 678.5L818.1 676.7L818.6 677.7L819.1 674.3L819.6 673.5L820.1 672.1L820.6 670.1L821.1 669.6L821.6 669.9L822.1 665.4L822.6 660.1L823.1 650.3L823.6 639.3L824.1 623.6L824.6 602.2L825.1 583.3L825.6 567.0L826.1 570.3L826.6 587.6L827.1 608.5L827.6 625.4L828.1 640.0L828.6 652.4L829.1 656.8L829.6 660.9L830.1 659.9L830.6 662.0L831.1 660.6L831.6 658.9L832.1 657.6L832.6 653.8L833.1 652.2L833.6 656.0L834.1 657.1L834.6 658.7L835.1 663.1L835.6 668.9L836.1 669.7L836.6 669.5L837.1 677.5L837.6 674.5L838.1 676.9L838.6 675.6L839.1 676.7L839.6 680.4L840.1 679.2L840.6 682.2L841.1 681.6L841.6 681.6L842.1 682.7L842.6 683.0L843.1 683.6L843.6 680.7L844.1 681.7L844.6 683.9L845.1 684.7L845.6 682.9L846.1 682.1L846.6 683.5L847.1 680.8L847.6 681.9L848.1 685.6L848.6 682.8L849.1 687.1L849.6 685.1L850.1 684.8L850.6 687.1L851.1 685.3L851.6 683.5L852.1 682.8L852.6 682.8L853.1 680.9L853.6 683.9L854.1 683.5L854.6 682.6L855.1 684.1L855.6 682.6L856.1 681.1L856.6 681.8L857.1 683.0L857.6 683.7L858.1 686.0L858.6 683.4L859.1 684.6L859.6 684.8L860.1 684.1L860.6 683.7L861.1 681.6L861.6 682.4L862.1 686.1L862.6 683.8L863.1 683.7L863.6 682.1L864.1 683.7L864.6 686.2L865.1 683.2L865.6 683.0L866.1 684.2L866.6 683.0L867.1 683.1L867.6 686.8L868.1 684.5L868.6 681.5L869.1 683.3L869.6 684.4L870.1 682.3L870.6 683.8L871.1 681.3L871.6 683.5L872.1 683.2L872.6 684.3L873.1 683.1L873.6 682.9L874.1 683.8L874.6 684.0L875.1 684.2L875.6 681.6L876.1 682.4L876.6 682.6L877.1 682.6L877.6 682.6L878.1 682.7L878.6 684.5L879.1 684.2L879.6 683.5L880.1 682.2L880.6 678.4L881.1 680.1L881.6 681.4L882.1 677.8L882.6 679.1L883.1 676.0L883.6 677.5L884.1 678.3L884.6 680.7L885.1 679.8L885.6 682.8L886.1 682.8L886.6 682.8L887.1 682.4L887.6 686.5L888.1 684.0L888.6 685.8L889.1 684.6L889.6 685.7L890.1 685.5L890.6 685.3L891.1 683.3L891.6 688.0L892.1 686.7L892.6 686.7L893.1 682.2L893.6 684.3L894.1 684.6L894.6 685.8L895.1 683.7L895.6 685.0L896.1 685.1L896.6 685.6L897.1 685.9L897.6 683.0L898.1 682.8L898.6 682.3L899.1 684.6L899.6 683.8L900.1 683.0L900.6 682.5L901.1 684.8L901.6 683.4L902.1 683.1L902.6 682.0L903.1 680.1L903.6 683.9L904.1 682.5L904.6 683.2L905.1 681.5L905.6 684.7L906.1 681.6L906.6 682.3L907.1 682.1L907.6 682.9L908.1 686.0L908.6 683.6L909.1 682.9L909.6 684.1L910.1 683.8L910.6 684.1L911.1 683.7L911.6 684.5L912.1 681.8L912.6 682.5L913.1 683.5L913.6 683.7L914.1 680.6L914.6 683.4L915.1 682.8L915.6 684.1L916.1 681.1L916.6 682.5L917.1 683.3L917.6 680.1L918.1 681.5L918.6 684.1L919.1 682.9L919.6 684.7L920.1 684.2L920.6 682.3L921.1 684.9L921.6 685.2L922.1 684.1L922.6 685.9L923.1 683.0L923.6 684.7L924.1 684.6L924.6 683.9L925.1 683.1L925.6 682.2L926.1 683.5L926.6 684.5L927.1 684.0L927.6 684.4L928.1 684.5L928.6 684.0L929.1 685.0L929.6 685.8L930.1 682.6L930.6 685.3L931.1 683.1L931.6 688.0L932.1 683.9L932.6 684.9L933.1 686.4L933.6 685.7L934.1 686.4L934.6 686.6L935.1 684.8L935.6 688.1L936.1 684.0L936.6 683.8L937.1 685.4L937.6 681.8L938.1 683.5L938.6 684.2L939.1 685.9L939.6 683.8L940.1 685.9L940.6 683.3L941.1 685.5L941.6 685.8L942.1 684.0L942.6 684.5L943.1 684.5L943.6 684.7L944.1 684.5L944.6 686.9L945.1 685.7L945.6 686.0L946.1 683.1L946.6 685.5L947.1 687.0L947.6 686.1L948.1 685.1L948.6 685.5L949.1 686.8L949.6 685.5L950.1 683.0L950.6 684.5L951.1 685.7L951.6 683.6L952.1 685.3L952.6 685.9L953.1 687.5L953.6 686.0L954.1 684.4L954.6 681.2L955.1 684.4L955.6 681.6L956.1 682.7L956.6 685.7L957.1 683.4L957.6 685.0L958.1 683.8L958.6 684.9L959.1 683.9L959.6 684.1L960.1 685.9L960.6 684.3L961.1 684.1L961.6 683.1L962.1 683.3L962.6 681.3L963.1 681.8L963.6 680.1L964.1 677.7L964.6 676.4L965.1 676.2L965.6 679.4L966.1 678.6L966.6 676.7L967.1 677.3L967.6 679.2L968.1 680.6L968.6 683.6L969.1 682.3L969.6 680.8L970.1 682.3L970.6 681.6L971.1 685.4L971.6 683.0L972.1 683.5L972.6 683.7L973.1 680.9L973.6 684.1L974.1 684.5L974.6 683.0L975.1 684.4L975.6 683.7L976.1 683.8L976.6 685.3L977.1 683.7L977.6 685.0L978.1 684.5L978.6 684.6L979.1 684.0L979.6 683.7L980.1 684.6L980.6 686.0L981.1 684.6L981.6 686.0L982.1 684.0L982.6 681.5L983.1 684.8L983.6 682.8L984.1 684.2L984.6 683.6L985.1 683.8L985.6 683.6L986.1 679.9L986.6 684.3L987.1 683.6L987.6 684.1L988.1 684.4L988.6 683.8L989.1 684.1L989.6 681.0L990.1 682.5L990.6 683.1L991.1 681.8L991.6 678.6L992.1 676.3L992.6 676.7L993.1 677.2L993.6 678.2L994.1 680.8L994.6 681.3L995.1 679.7L995.6 682.5L996.1 681.1L996.6 683.0L997.1 681.4L997.6 684.2L998.1 681.9L998.6 682.2L999.1 681.1L999.6 683.4L1000.1 682.3L1000.6 682.0L1001.1 682.0L1001.6 679.7L1002.1 683.1L1002.6 681.5L1003.1 680.0L1003.6 679.6L1004.1 679.0L1004.6 678.3L1005.1 679.7L1005.6 677.9L1006.1 677.2L1006.6 675.5L1007.1 675.7L1007.6 677.3L1008.1 674.3L1008.6 669.1L1009.1 666.6L1009.6 667.5L1010.1 661.2L1010.6 658.7L1011.1 652.3L1011.6 643.0L1012.1 631.0L1012.6 608.7L1013.1 582.9L1013.6 548.9L1014.1 517.0L1014.6 503.9L1015.1 521.3L1015.6 552.7L1016.1 582.2L1016.6 611.3L1017.1 629.5L1017.6 644.9L1018.1 651.6L1018.6 659.7L1019.1 663.9L1019.6 666.1L1020.1 669.5L1020.6 671.9L1021.1 673.4L1021.6 676.9L1022.1 677.7L1022.6 678.2L1023.1 678.0L1023.6 679.0L1024.1 677.0L1024.6 679.0L1025.1 681.2L1025.6 680.5L1026.1 678.9L1026.6 681.3L1027.1 681.2L1027.6 681.4L1028.1 680.5L1028.6 681.4L1029.1 680.4L1029.6 679.7L1030.1 680.9L1030.6 681.0L1031.1 681.5L1031.6 680.8L1032.1 675.9L1032.6 679.0L1033.1 677.5L1033.6 676.3L1034.1 677.0L1034.6 676.5L1035.1 673.5L1035.6 670.8L1036.1 668.3L1036.6 667.5L1037.1 665.3L1037.6 662.0L1038.1 663.0L1038.6 660.2L1039.1 657.5L1039.6 656.9L1040.1 654.1L1040.6 652.2L1041.1 654.2L1041.6 657.9L1042.1 656.3L1042.6 657.4L1043.1 662.6L1043.6 661.4L1044.1 664.5L1044.6 668.2L1045.1 669.2L1045.6 674.3L1046.1 673.7L1046.6 676.2L1047.1 677.8L1047.6 677.5L1048.1 678.7L1048.6 676.3L1049.1 681.4L1049.6 679.8L1050.1 680.1L1050.6 679.7L1051.1 680.6L1051.6 679.2L1052.1 680.1L1052.6 678.7L1053.1 677.8L1053.6 678.5L1054.1 678.3L1054.6 680.4L1055.1 679.0L1055.6 677.2L1056.1 677.8L1056.6 675.9L1057.1 676.7L1057.6 676.6L1058.1 677.2L1058.6 674.7L1059.1 675.8L1059.6 676.2L1060.1 674.7L1060.6 677.1L1061.1 677.6L1061.6 679.5L1062.1 677.4L1062.6 676.7L1063.1 676.8L1063.6 679.6L1064.1 678.7L1064.6 678.4L1065.1 680.3L1065.6 681.3L1066.1 682.2L1066.6 681.3L1067.1 678.7L1067.6 681.8L1068.1 679.6L1068.6 680.8L1069.1 681.2L1069.6 678.5L1070.1 680.7L1070.6 680.4L1071.1 683.2L1071.6 679.8L1072.1 681.4L1072.6 680.4L1073.1 680.4L1073.6 678.5L1074.1 681.6L1074.6 682.4L1075.1 682.6L1075.6 678.3L1076.1 678.4L1076.6 680.8L1077.1 682.2L1077.6 681.7L1078.1 679.9L1078.6 679.4L1079.1 682.2L1079.6 681.2L1080.1 678.3L1080.6 678.3L1081.1 677.8L1081.6 680.7L1082.1 678.0L1082.6 678.1L1083.1 675.0L1083.6 676.3L1084.1 675.0L1084.6 674.8L1085.1 674.7L1085.6 672.3L1086.1 670.0L1086.6 672.3L1087.1 667.4L1087.6 665.8L1088.1 662.8L1088.6 663.7L1089.1 660.9L1089.6 657.0L1090.1 653.3L1090.6 651.1L1091.1 646.7L1091.6 641.5L1092.1 638.6L1092.6 634.3L1093.1 628.4L1093.6 623.1L1094.1 616.1L1094.6 611.5L1095.1 604.5L1095.6 597.4L1096.1 594.7L1096.6 590.6L1097.1 587.5L1097.6 587.4L1098.1 589.4L1098.6 590.2L1099.1 595.8L1099.6 601.9L1100.1 606.4L1100.6 613.6L1101.1 619.5L1101.6 624.5L1102.1 632.1L1102.6 637.7L1103.1 642.6L1103.6 647.7L1104.1 649.8L1104.6 652.8L1105.1 655.5L1105.6 659.5L1106.1 661.5L1106.6 660.9L1107.1 663.4L1107.6 663.3L1108.1 665.3L1108.6 662.1L1109.1 664.5L1109.6 662.3L1110.1 661.8L1110.6 664.9L1111.1 662.5L1111.6 664.6L1112.1 662.1L1112.6 660.4L1113.1 657.2L1113.6 652.6L1114.1 650.3L1114.6 645.2L1115.1 642.9L1115.6 643.4L1116.1 644.3L1116.6 641.3L1117.1 640.1L1117.6 643.1L1118.1 646.9L1118.6 650.5L1119.1 652.1L1119.6 657.7L1120.1 659.8L1120.6 662.2L1121.1 663.0L1121.6 668.3L1122.1 666.5L1122.6 668.3L1123.1 669.3L1123.6 671.9L1124.1 670.6L1124.6 675.2L1125.1 673.4L1125.6 677.0L1126.1 674.3L1126.6 675.5L1127.1 676.9L1127.6 678.8L1128.1 678.6L1128.6 677.3L1129.1 679.0L1129.6 680.3L1130.1 677.2L1130.6 681.0L1131.1 679.6L1131.6 677.1L1132.1 680.0L1132.6 679.5L1133.1 679.3L1133.6 679.6L1134.1 679.6L1134.6 680.9L1135.1 680.1L1135.6 680.4L1136.1 679.2L1136.6 680.7L1137.1 678.7L1137.6 679.6L1138.1 678.2L1138.6 677.6L1139.1 678.4L1139.6 678.2L1140.1 676.5L1140.6 676.1L1141.1 674.4L1141.6 675.4L1142.1 674.4L1142.6 674.1L1143.1 672.8L1143.6 671.9L1144.1 672.7L1144.6 671.7L1145.1 673.3L1145.6 674.5L1146.1 675.7L1146.6 674.9L1147.1 675.6L1147.6 677.8L1148.1 677.8L1148.6 679.0L1149.1 679.6L1149.6 680.4L1150.1 680.0L1150.6 680.9L1151.1 681.5L1151.6 680.8L1152.1 680.6L1152.6 681.7L1153.1 683.0L1153.6 681.2L1154.1 680.6L1154.6 683.4L1155.1 680.5L1155.6 682.7L1156.1 682.2L1156.6 680.0L1157.1 682.3L1157.6 682.3L1158.1 682.1L1158.6 682.1L1159.1 683.5L1159.6 683.2L1160.1 684.6L1160.6 682.4L1161.1 683.2L1161.6 684.4L1162.1 683.2L1162.6 682.8L1163.1 683.9L1163.6 681.9L1164.1 681.9L1164.6 682.3L1165.1 683.2L1165.6 683.4L1166.1 681.3L1166.6 681.9L1167.1 682.6L1167.6 682.6L1168.1 680.5L1168.6 682.8L1169.1 681.6L1169.6 682.5L1170.1 682.2L1170.6 684.4L1171.1 684.6L1171.6 682.3L1172.1 684.2L1172.6 683.6L1173.1 683.3L1173.6 682.7L1174.1 683.8L1174.6 681.5L1175.1 680.6L1175.6 680.9L1176.1 682.9L1176.6 683.7L1177.1 679.6L1177.6 681.4L1178.1 680.5L1178.6 681.7L1179.1 679.3L1179.6 682.9L1180.1 679.4L1180.6 682.2L1181.1 677.6L1181.6 678.6L1182.1 679.5L1182.6 677.9L1183.1 674.1L1183.6 673.4L1184.1 672.1L1184.6 673.0L1185.1 669.0L1185.6 672.3L1186.1 669.7L1186.6 669.3L1187.1 665.9L1187.6 664.7L1188.1 664.3L1188.6 661.9L1189.1 661.3L1189.6 663.4L1190.1 663.4L1190.6 664.7L1191.1 664.4L1191.6 667.8L1192.1 670.4L1192.6 670.2L1193.1 670.5L1193.6 673.5L1194.1 674.3L1194.6 675.1L1195.1 674.3L1195.6 673.6L1196.1 679.9L1196.6 678.5L1197.1 678.1L1197.6 678.5L1198.1 677.0L1198.6 681.8L1199.1 680.7L1199.6 681.7L1200.1 680.8L1200.6 680.9L1201.1 682.0L1201.6 679.1L1202.1 680.0L1202.6 681.2L1203.1 681.0L1203.6 679.5L1204.1 679.8L1204.6 677.8L1205.1 677.9L1205.6 679.3L1206.1 679.3L1206.6 678.3L1207.1 678.9L1207.6 676.6L1208.1 676.8L1208.6 680.3L1209.1 679.7L1209.6 678.5L1210.1 680.1L1210.6 683.0L1211.1 678.9L1211.6 679.8L1212.1 679.7L1212.6 679.0L1213.1 678.1L1213.6 679.9L1214.1 677.5L1214.6 674.9L1215.1 679.1L1215.6 674.9L1216.1 675.1L1216.6 673.0L1217.1 670.9L1217.6 671.8L1218.1 665.6L1218.6 665.2L1219.1 662.8L1219.6 656.9L1220.1 654.3L1220.6 652.2L1221.1 649.1L1221.6 643.1L1222.1 634.5L1222.6 634.3L1223.1 626.2L1223.6 624.2L1224.1 623.1L1224.6 622.8L1225.1 623.2L1225.6 625.4L1226.1 632.4L1226.6 632.0L1227.1 638.9L1227.6 644.8L1228.1 648.8L1228.6 650.0L1229.1 658.0L1229.6 661.6L1230.1 661.0L1230.6 663.6L1231.1 668.9L1231.6 669.0L1232.1 669.2L1232.6 672.7L1233.1 672.0L1233.6 672.8L1234.1 671.8L1234.6 675.7L1235.1 674.8L1235.6 676.0L1236.1 678.0L1236.6 680.3L1237.1 679.7L1237.6 681.4L1238.1 680.5L1238.6 682.7L1239.1 683.9L1239.6 682.1L1240.1 682.3L1240.6 680.0L1241.1 681.6L1241.6 684.3L1242.1 683.2L1242.6 679.9L1243.1 680.8L1243.6 681.6L1244.1 682.7L1244.6 681.8L1245.1 681.6L1245.6 682.2L1246.1 682.1L1246.6 681.2L1247.1 682.3L1247.6 678.9L1248.1 680.7L1248.6 681.8L1249.1 682.5L1249.6 682.3L1250.1 683.7L1250.6 684.1L1251.1 683.1L1251.6 682.7L1252.1 683.1L1252.6 681.3L1253.1 681.6L1253.6 682.1L1254.1 680.4L1254.6 682.3L1255.1 682.1L1255.6 684.1L1256.1 680.0L1256.6 680.9L1257.1 683.2L1257.6 681.4L1258.1 682.7L1258.6 680.7L1259.1 684.1L1259.6 680.0L1260.1 680.7L1260.6 680.4L1261.1 683.0L1261.6 681.3L1262.1 678.1L1262.6 682.8L1263.1 677.9L1263.6 680.1L1264.1 680.7L1264.6 677.6L1265.1 677.4L1265.6 676.6L1266.1 676.0L1266.6 680.4L1267.1 678.7L1267.6 678.4L1268.1 673.1L1268.6 673.6L1269.1 671.5L1269.6 673.3L1270.1 673.6L1270.6 668.2L1271.1 665.5L1271.6 666.0L1272.1 660.1L1272.6 659.2L1273.1 654.7L1273.6 653.2L1274.1 649.1L1274.6 645.1L1275.1 645.7L1275.6 642.0L1276.1 645.0L1276.6 648.1L1277.1 648.9L1277.6 647.9L1278.1 650.7L1278.6 652.9L1279.1 658.0L1279.6 660.0L1280.1 663.1L1280.6 669.1L1281.1 669.2L1281.6 670.6L1282.1 670.9L1282.6 673.3L1283.1 674.6L1283.6 674.7L1284.1 676.9L1284.6 678.1L1285.1 676.2L1285.6 676.6L1286.1 681.0L1286.6 678.1L1287.1 680.7L1287.6 681.3L1288.1 683.5L1288.6 681.2L1289.1 680.7L1289.6 684.3L1290.1 680.0L1290.6 678.1L1291.1 679.1L1291.6 680.3L1292.1 682.1L1292.6 681.0L1293.1 679.9L1293.6 678.2L1294.1 678.8L1294.6 679.4L1295.1 677.1L1295.6 678.2L1296.1 679.5L1296.6 675.5L1297.1 674.2L1297.6 672.4L1298.1 671.7L1298.6 669.5L1299.1 671.9L1299.6 670.8L1300.1 671.1L1300.6 671.0L1301.1 674.2L1301.6 676.6L1302.1 675.5L1302.6 676.6L1303.1 677.9L1303.6 677.7L1304.1 678.6L1304.6 680.2L1305.1 679.3L1305.6 678.7L1306.1 679.0L1306.6 678.3L1307.1 681.2L1307.6 679.0L1308.1 680.5L1308.6 680.7L1309.1 678.3L1309.6 679.5L1310.1 680.7L1310.6 677.1L1311.1 678.3L1311.6 679.4L1312.1 678.7L1312.6 679.1L1313.1 679.4L1313.6 677.4L1314.1 677.5L1314.6 676.4L1315.1 673.3L1315.6 675.1L1316.1 675.1L1316.6 675.7L1317.1 673.7L1317.6 675.2L1318.1 674.9L1318.6 672.8L1319.1 671.9L1319.6 675.7L1320.1 673.6L1320.6 676.4L1321.1 675.3L1321.6 676.2L1322.1 673.5L1322.6 679.5L1323.1 673.2L1323.6 674.0L1324.1 675.6L1324.6 676.3L1325.1 675.4L1325.6 674.7L1326.1 670.9L1326.6 671.9L1327.1 671.6L1327.6 665.8L1328.1 663.7L1328.6 663.3L1329.1 661.8L1329.6 657.8L1330.1 651.6L1330.6 648.2L1331.1 645.2L1331.6 641.3L1332.1 645.1L1332.6 642.4L1333.1 643.9L1333.6 645.3L1334.1 651.4L1334.6 655.4L1335.1 660.8L1335.6 664.0L1336.1 666.1L1336.6 669.8L1337.1 673.7L1337.6 671.3L1338.1 672.6L1338.6 675.1L1339.1 674.5L1339.6 676.9L1340.1 675.2L1340.6 678.2L1341.1 678.6L1341.6 677.1L1342.1 677.1L1342.6 679.6L1343.1 679.9L1343.6 678.9L1344.1 682.7L1344.6 680.4L1345.1 683.8L1345.6 684.1L1346.1 683.2L1346.6 684.0L1347.1 681.5L1347.6 683.2L1348.1 684.5L1348.6 682.3L1349.1 681.7L1349.6 685.8L1350.1 684.6L1350.6 685.4L1351.1 685.4L1351.6 681.1L1352.1 682.6L1352.6 683.6L1353.1 683.7L1353.6 683.1L1354.1 682.0L1354.6 683.2L1355.1 682.0L1355.6 684.9L1356.1 682.5L1356.6 682.5L1357.1 684.6L1357.6 682.6L1358.1 683.9L1358.6 683.1L1359.1 684.4L1359.6 684.5L1360.1 681.8L1360.6 681.5L1361.1 681.9L1361.6 684.5L1362.1 684.0L1362.6 683.9L1363.1 684.5L1363.6 681.6L1364.1 679.7L1364.6 680.2L1365.1 680.1L1365.6 680.3L1366.1 677.7L1366.6 677.0L1367.1 673.8L1367.6 670.4L1368.1 673.3L1368.6 668.9L1369.1 666.3L1369.6 666.0L1370.1 668.0L1370.6 664.3L1371.1 665.3L1371.6 666.7L1372.1 668.8L1372.6 668.4L1373.1 674.9L1373.6 674.9L1374.1 675.5L1374.6 679.4L1375.1 678.6L1375.6 682.0L1376.1 680.2L1376.6 680.9L1377.1 681.9L1377.6 683.0L1378.1 681.3L1378.6 681.3L1379.1 682.2L1379.6 679.2L1380.1 678.9L1380.6 681.8L1381.1 682.0L1381.6 683.9L1382.1 682.0L1382.6 683.8L1383.1 683.7L1383.6 682.2L1384.1 682.0L1384.6 681.9L1385.1 682.8L1385.6 681.1L1386.1 683.3L1386.6 684.3L1387.1 682.5L1387.6 684.8L1388.1 682.6L1388.6 683.9L1389.1 684.6L1389.6 681.0L1390.1 683.4L1390.6 684.9L1391.1 685.2L1391.6 685.4L1392.1 682.6L1392.6 683.2L1393.1 680.5L1393.6 683.0L1394.1 682.1L1394.6 682.9L1395.1 680.0L1395.6 683.3L1396.1 681.3L1396.6 679.0L1397.1 681.4L1397.6 682.9L1398.1 680.0L1398.6 679.6L1399.1 676.5L1399.6 678.1L1400.1 678.6L1400.6 676.7L1401.1 675.8L1401.6 674.5L1402.1 677.7L1402.6 674.3L1403.1 673.3L1403.6 676.4L1404.1 675.9L1404.6 676.6L1405.1 676.1L1405.6 676.7L1406.1 677.0L1406.6 680.7L1407.1 678.9L1407.6 679.7L1408.1 681.7L1408.6 682.2L1409.1 682.5L1409.6 682.0L1410.1 681.5L1410.6 683.2L1411.1 683.1L1411.6 683.5L1412.1 684.8L1412.6 683.2L1413.1 684.4L1413.6 682.5L1414.1 683.1L1414.6 682.8L1415.1 683.6L1415.6 681.6L1416.1 681.8L1416.6 685.6L1417.1 683.3L1417.6 682.2L1418.1 680.6L1418.6 682.2L1419.1 684.4L1419.6 684.7L1420.1 681.2L1420.6 682.8L1421.1 684.0L1421.6 684.3L1422.1 682.7L1422.6 682.8L1423.1 682.8L1423.6 681.8L1424.1 683.1L1424.6 683.7L1425.1 682.1L1425.6 684.6L1426.1 683.9L1426.6 681.1L1427.1 680.8L1427.6 682.4L1428.1 681.9L1428.6 682.3L1429.1 681.6L1429.6 680.8L1430.1 683.7L1430.6 682.8L1431.1 680.3L1431.6 680.2L1432.1 680.6L1432.6 681.5L1433.1 679.8L1433.6 681.4L1434.1 676.9L1434.6 678.3L1435.1 678.6L1435.6 677.5L1436.1 679.8L1436.6 680.2L1437.1 679.8L1437.6 679.4L1438.1 681.0L1438.6 679.5L1439.1 681.4L1439.6 679.6L1440.1 680.7L1440.6 677.7L1441.1 676.0L1441.6 677.9L1442.1 675.8L1442.6 677.7L1443.1 674.5L1443.6 673.0L1444.1 671.5L1444.6 669.3L1445.1 670.2L1445.6 668.2L1446.1 669.5L1446.6 668.4L1447.1 671.8L1447.6 671.3L1448.1 672.3L1448.6 674.3L1449.1 674.9L1449.6 674.6L1450.1 678.1L1450.6 680.0L1451.1 678.2L1451.6 681.5L1452.1 682.4L1452.6 682.1L1453.1 679.2L1453.6 684.8L1454.1 683.9L1454.6 681.8L1455.1 681.1L1455.6 680.8L1456.1 680.6L1456.6 683.0L1457.1 684.9L1457.6 681.6L1458.1 683.3L1458.6 685.2L1459.1 685.7L1459.6 685.3L1460.1 683.8L1460.6 687.1L1461.1 685.1L1461.6 684.8L1462.1 685.1L1462.6 682.8L1463.1 682.3L1463.6 682.9L1464.1 686.1L1464.6 684.7L1465.1 682.0L1465.6 682.3L1466.1 684.1L1466.6 682.2L1467.1 683.8L1467.6 684.3L1468.1 683.9L1468.6 685.2L1469.1 686.1L1469.6 683.9L1470.1 683.7L1470.6 685.5L1471.1 683.9L1471.6 683.6L1472.1 684.7L1472.6 684.0L1473.1 683.8L1473.6 685.8L1474.1 683.5L1474.6 683.5L1475.1 684.6L1475.6 686.5L1476.1 683.1L1476.6 687.0L1477.1 686.6L1477.6 684.2L1478.1 686.8L1478.6 684.6L1479.1 686.6L1479.6 684.7L1480.1 685.6L1480.6 682.7L1481.1 683.9L1481.6 683.4L1482.1 685.0L1482.6 682.9L1483.1 683.7L1483.6 686.0L1484.1 683.2L1484.6 685.1L1485.1 682.6L1485.6 684.2L1486.1 681.9L1486.6 685.0L1487.1 682.5L1487.6 681.7L1488.1 681.2L1488.6 681.5L1489.1 682.7L1489.6 682.1L1490.1 683.1L1490.6 683.0L1491.1 681.1L1491.6 680.2L1492.1 681.6L1492.6 682.0L1493.1 680.9L1493.6 680.3L1494.1 677.0L1494.6 674.1L1495.1 677.9L1495.6 674.7L1496.1 672.2L1496.6 671.6L1497.1 672.3L1497.6 669.9L1498.1 668.2L1498.6 668.2L1499.1 669.0L1499.6 668.4L1500.1 664.6L1500.6 668.2L1501.1 667.5L1501.6 670.0L1502.1 666.6L1502.6 670.3L1503.1 671.0L1503.6 672.2L1504.1 672.0L1504.6 673.7L1505.1 674.1L1505.6 677.2L1506.1 680.4L1506.6 678.3L1507.1 678.0L1507.6 682.6L1508.1 679.9L1508.6 680.2L1509.1 682.4L1509.6 680.7L1510.1 681.8L1510.6 680.4L1511.1 683.4L1511.6 682.0L1512.1 682.3L1512.6 682.9L1513.1 685.1L1513.6 683.3L1514.1 683.5L1514.6 684.1L1515.1 685.0L1515.6 680.9L1516.1 685.0L1516.6 685.4L1517.1 685.3L1517.6 684.8L1518.1 682.7L1518.6 684.8L1519.1 684.9L1519.6 685.3L1520.1 685.4L1520.6 685.2L1521.1 682.3L1521.6 685.8L1522.1 686.2L1522.6 686.2L1523.1 687.1L1523.6 686.6L1524.1 684.4L1524.6 685.3L1525.1 683.6L1525.6 685.8L1526.1 683.7L1526.6 686.3L1527.1 682.6L1527.6 685.1L1528.1 685.1L1528.6 683.8L1529.1 683.8L1529.6 683.4L1530.1 685.8L1530.6 683.3L1531.1 682.0L1531.6 681.7L1532.1 684.7L1532.6 682.4L1533.1 685.4L1533.6 684.9L1534.1 682.4L1534.6 680.8L1535.1 682.4L1535.6 680.1L1536.1 682.3L1536.6 681.7L1537.1 681.5L1537.6 679.7L1538.1 681.5L1538.6 681.6L1539.1 682.6L1539.6 682.4L1540.1 685.3L1540.6 681.4L1541.1 682.1L1541.6 685.1L1542.1 684.7L1542.6 682.6L1543.1 685.9L1543.6 684.9L1544.1 681.8L1544.6 687.2L1545.1 684.7L1545.6 684.4L1546.1 684.4L1546.6 682.4L1547.1 683.3L1547.6 685.2L1548.1 682.5L1548.6 683.5L1549.1 681.1L1549.6 683.7L1550.1 682.9L1550.6 684.0L1551.1 683.9L1551.6 684.3L1552.1 684.2L1552.6 686.8L1553.1 687.5L1553.6 685.6L1554.1 686.9L1554.6 685.1L1555.1 685.6L1555.6 686.1L1556.1 687.5L1556.6 683.0L1557.1 684.9L1557.6 686.5L1558.1 685.9L1558.6 684.7L1559.1 683.5L1559.6 685.0L1560.1 685.5L1560.6 685.6L1561.1 684.2L1561.6 683.5L1562.1 684.7L1562.6 685.2L1563.1 684.0L1563.6 684.6L1564.1 682.8L1564.6 686.4L1565.1 684.6L1565.6 682.1L1566.1 685.9L1566.6 687.4L1567.1 682.6L1567.6 688.5L1568.1 685.6L1568.6 686.5L1569.1 683.7L1569.6 686.0L1570.1 685.6L1570.6 685.9L1571.1 682.9L1571.6 683.3L1572.1 683.1L1572.6 687.6L1573.1 684.5L1573.6 683.1L1574.1 683.2L1574.6 681.7L1575.1 681.9L1575.6 682.2L1576.1 679.2L1576.6 679.2L1577.1 679.8L1577.6 680.5L1578.1 683.1L1578.6 682.2L1579.1 682.4L1579.6 684.2L1580.1 683.9L1580.6 683.8L1581.1 684.7L1581.6 685.0L1582.1 681.8L1582.6 686.3L1583.1 685.3L1583.6 686.1L1584.1 686.0L1584.6 684.8L1585.1 685.7L1585.6 684.0L1586.1 687.2L1586.6 687.0L1587.1 685.7L1587.6 685.1L1588.1 685.9L1588.6 682.8L1589.1 684.9L1589.6 688.7L1590.1 685.7L1590.6 684.6L1591.1 685.1L1591.6 684.3L1592.1 682.7L1592.6 685.2L1593.1 682.0L1593.6 685.1L1594.1 684.0L1594.6 684.1L1595.1 684.2L1595.6 683.2L1596.1 686.5L1596.6 684.4L1597.1 686.7L1597.6 683.3L1598.1 683.6L1598.6 683.3L1599.1 681.1L1599.6 681.3L1600.1 686.5L1600.6 683.7L1601.1 682.6L1601.6 685.8L1602.1 684.5L1602.6 684.7L1603.1 683.1L1603.6 683.2L1604.1 685.0L1604.6 681.7L1605.1 680.3L1605.6 683.4L1606.1 682.7L1606.6 681.8L1607.1 680.7L1607.6 682.5L1608.1 679.7L1608.6 680.1L1609.1 681.4L1609.6 680.4L1610.1 681.4L1610.6 680.1L1611.1 681.5L1611.6 684.1L1612.1 682.8L1612.6 685.9L1613.1 685.8L1613.6 682.5L1614.1 682.3L1614.6 684.2L1615.1 684.0L1615.6 684.3L1616.1 684.5L1616.6 681.9L1617.1 685.7L1617.6 682.9L1618.1 681.7L1618.6 682.0L1619.1 686.1L1619.6 687.3L1620.1 685.3L1620.6 685.6L1621.1 684.5L1621.6 683.2L1622.1 685.1L1622.6 682.9L1623.1 684.8L1623.6 688.7L1624.1 684.3L1624.6 688.5L1625.1 685.5L1625.6 684.2L1626.1 686.5L1626.6 686.3L1627.1 687.5L1627.6 686.3L1628.1 683.1L1628.6 685.5L1629.1 686.4L1629.6 685.2L1630.1 687.9L1630.6 687.1L1631.1 683.8L1631.6 684.5L1632.1 683.4L1632.6 686.3L1633.1 686.9L1633.6 682.4L1634.1 684.1L1634.6 687.0L1635.1 683.8L1635.6 686.1L1636.1 686.8L1636.6 685.7L1637.1 689.2L1637.6 688.4L1638.1 686.1L1638.6 687.5L1639.1 686.1L1639.6 687.3L1640.1 687.5L1640.6 686.3L1641.1 683.8L1641.6 682.7L1642.1 685.7L1642.6 686.2L1643.1 686.4L1643.6 685.7L1644.1 683.3L1644.6 683.3L1645.1 685.3L1645.6 687.3L1646.1 684.3L1646.6 687.9L1647.1 682.5L1647.6 683.2L1648.1 683.9L1648.6 686.0L1649.1 683.5L1649.6 683.0L1650.1 682.6L1650.6 684.9L1651.1 686.1L1651.6 687.4L1652.1 684.0L1652.6 685.8L1653.1 684.3L1653.6 688.2L1654.1 684.6L1654.6 687.1L1655.1 686.4L1655.6 683.0L1656.1 685.7L1656.6 686.3L1657.1 682.8L1657.6 686.3L1658.1 684.8L1658.6 686.5L1659.1 685.8L1659.6 683.4L1660.1 684.9L1660.6 684.7L1661.1 685.6L1661.6 684.9L1662.1 687.1L1662.6 685.7L1663.1 686.1L1663.6 684.0L1664.1 686.9L1664.6 685.9L1665.1 684.3L1665.6 686.4L1666.1 686.1L1666.6 687.1L1667.1 686.4L1667.6 688.2L1668.1 684.4L1668.6 688.0L1669.1 687.2L1669.6 685.5L1670.1 685.3L1670.6 683.1L1671.1 684.6L1671.6 682.4L1672.1 684.0L1672.6 684.0L1673.1 684.8L1673.6 686.6L1674.1 681.1L1674.6 681.4L1675.1 683.5L1675.6 683.7L1676.1 682.4L1676.6 684.4L1677.1 683.9L1677.6 685.1L1678.1 683.3L1678.6 684.2L1679.1 686.6L1679.6 682.7L1680.1 684.7L1680.6 683.9L1681.1 679.7L1681.6 681.2L1682.1 680.4L1682.6 683.4L1683.1 681.3L1683.6 681.3L1684.1 681.0L1684.6 683.3L1685.1 681.0L1685.6 680.5L1686.1 682.1L1686.6 680.9L1687.1 681.6L1687.6 682.7L1688.1 682.6L1688.6 682.0L1689.1 679.9L1689.6 679.4L1690.1 683.0L1690.6 685.7L1691.1 682.6L1691.6 683.6L1692.1 685.0L1692.6 684.1L1693.1 687.3L1693.6 687.1L1694.1 683.2L1694.6 686.4L1695.1 686.6L1695.6 685.7L1696.1 686.9L1696.6 685.4L1697.1 686.2L1697.6 685.1L1698.1 685.2L1698.6 687.4L1699.1 686.2L1699.6 686.3L1700.1 686.6L1700.6 687.6L1701.1 684.5L1701.6 687.5L1702.1 688.5L1702.6 686.1L1703.1 686.5L1703.6 688.0L1704.1 684.8L1704.6 686.2L1705.1 684.2L1705.6 686.7L1706.1 686.4L1706.6 683.8L1707.1 683.3L1707.6 684.4L1708.1 683.6L1708.6 683.1L1709.1 683.7L1709.6 685.5L1710.1 684.4L1710.6 683.4L1711.1 683.8L1711.6 687.9L1712.1 685.4L1712.6 686.2L1713.1 685.2L1713.6 686.0L1714.1 685.6L1714.6 687.8L1715.1 682.3L1715.6 687.0L1716.1 684.4L1716.6 686.4L1717.1 685.3L1717.6 687.6L1718.1 686.0L1718.6 685.7L1719.1 685.2L1719.6 684.5L1720.1 684.5L1720.6 685.5L1721.1 684.2L1721.6 684.9L1722.1 684.8L1722.6 684.7L1723.1 685.1L1723.6 685.5L1724.1 684.8L1724.6 686.3L1725.1 686.0L1725.6 683.1L1726.1 685.7L1726.6 684.5L1727.1 684.5L1727.6 686.3L1728.1 685.4L1728.6 685.6L1729.1 687.1L1729.6 687.9L1730.1 688.2L1730.6 685.8L1731.1 688.0L1731.6 685.7L1732.1 684.9L1732.6 685.2L1733.1 687.4L1733.6 689.1L1734.1 688.3L1734.6 688.2L1735.1 688.0L1735.6 684.0L1736.1 686.4L1736.6 686.0L1737.1 686.6L1737.6 687.6L1738.1 687.6L1738.6 688.3L1739.1 685.6L1739.6 685.0L1740.1 686.3L1740.6 686.0L1741.1 687.9L1741.6 684.2L1742.1 688.0L1742.6 687.9L1743.1 687.3L1743.6 684.8L1744.1 684.9L1744.6 683.6L1745.1 687.0L1745.6 687.0L1746.1 684.8L1746.6 687.9L1747.1 685.8L1747.6 685.5L1748.1 685.0L1748.6 686.0L1749.1 683.6L1749.6 683.6L1750.1 686.1L1750.6 682.0L1751.1 683.2L1751.6 683.4L1752.1 686.2L1752.6 685.4L1753.1 683.4L1753.6 686.8L1754.1 683.0L1754.6 684.7L1755.1 683.0L1755.6 685.7L1756.1 684.9L1756.6 682.8L1757.1 683.9L1757.6 684.3L1758.1 686.2L1758.6 685.9L1759.1 684.3L1759.6 686.2L1760.1 683.0L1760.6 682.9L1761.1 683.7L1761.6 683.2L1762.1 683.6L1762.6 683.8L1763.1 685.4L1763.6 682.8L1764.1 684.3L1764.6 685.1L1765.1 686.4L1765.6 686.1L1766.1 685.3L1766.6 685.4L1767.1 684.3L1767.6 683.9L1768.1 684.4L1768.6 688.1L1769.1 683.1L1769.6 685.1L1770.1 684.2L1770.6 685.1L1771.1 687.2L1771.6 684.0L1772.1 681.8L1772.6 682.8L1773.1 684.7L1773.6 682.8L1774.1 684.1L1774.6 683.5L1775.1 687.0L1775.6 683.2L1776.1 684.9L1776.6 688.3L1777.1 686.0L1777.6 684.9L1778.1 687.6L1778.6 684.0L1779.1 686.8L1779.6 684.7L1780.1 685.7L1780.6 685.7L1781.1 684.1L1781.6 683.0L1782.1 683.9L1782.6 686.9L1783.1 682.7L1783.6 685.4L1784.1 685.5L1784.6 687.6L1785.1 683.3L1785.6 684.8L1786.1 684.5L1786.6 682.8L1787.1 684.0L1787.6 686.3L1788.1 686.4L1788.6 685.3L1789.1 683.5L1789.6 685.7L1790.1 686.3L1790.6 684.2L1791.1 685.4L1791.6 684.3L1792.1 685.1L1792.6 684.1L1793.1 683.5L1793.6 683.9L1794.1 686.7L1794.6 684.9L1795.1 689.0L1795.6 686.1L1796.1 685.6L1796.6 686.1L1797.1 686.5L1797.6 685.4L1798.1 687.2L1798.6 686.7L1799.1 685.8L1799.6 688.1L1800.1 685.7L1800.6 686.4L1801.1 685.6L1801.6 686.8L1802.1 683.9L1802.6 685.2L1803.1 687.2L1803.6 686.8L1804.1 688.8L1804.6 685.9L1805.1 686.1L1805.6 685.8L1806.1 685.7L1806.6 685.5L1807.1 685.0L1807.6 688.1L1808.1 685.9L1808.6 689.2L1809.1 687.0L1809.6 685.0L1810.1 686.3L1810.6 686.5L1811.1 686.0L1811.6 684.2L1812.1 688.2L1812.6 686.0L1813.1 686.1L1813.6 684.0L1814.1 684.1L1814.6 685.6L1815.1 685.8L1815.6 684.4L1816.1 685.4L1816.6 685.6L1817.1 682.4L1817.6 684.1L1818.1 683.5L1818.6 685.6L1819.1 685.7L1819.6 682.4L1820.1 685.6L1820.6 684.2L1821.1 684.9L1821.6 685.9L1822.1 685.1L1822.6 683.7L1823.1 684.8L1823.6 682.0L1824.1 681.2L1824.6 676.7L1825.1 676.3L1825.6 677.3L1826.1 678.7L1826.6 678.5L1827.1 676.6L1827.6 677.3L1828.1 679.2L1828.6 679.7L1829.1 682.1L1829.6 683.2L1830.1 681.8L1830.6 683.2L1831.1 683.8L1831.6 682.2L1832.1 685.4L1832.6 686.9L1833.1 685.1L1833.6 683.6L1834.1 686.3L1834.6 684.0L1835.1 683.6L1835.6 684.9L1836.1 686.2L1836.6 685.3L1837.1 688.5L1837.6 683.3L1838.1 683.0L1838.6 683.7L1839.1 684.5L1839.6 685.9L1840.1 684.3L1840.6 686.1L1841.1 684.4L1841.6 682.8L1842.1 686.0L1842.6 685.1L1843.1 685.6L1843.6 686.3L1844.1 687.1L1844.6 685.7L1845.1 685.9L1845.6 686.1L1846.1 686.2L1846.6 687.4L1847.1 686.7L1847.6 686.3L1848.1 683.9L1848.6 684.3L1849.1 687.5L1849.6 685.0L1850.1 686.4L1850.6 687.0L1851.1 683.1L1851.6 685.2L1852.1 682.2L1852.6 684.6L1853.1 685.4L1853.6 687.4L1854.1 684.3L1854.6 683.1L1855.1 685.3L1855.6 684.8L1856.1 686.9L1856.6 685.2L1857.1 686.4L1857.6 682.8L1858.1 685.8L1858.6 688.0L1859.1 687.5L1859.6 687.1L1860.1 686.7L1860.6 688.7L1861.1 686.0L1861.6 686.8L1862.1 685.1L1862.6 687.2L1863.1 686.2L1863.6 685.0L1864.1 687.9L1864.6 686.7L1865.1 686.0L1865.6 686.2L1866.1 684.9L1866.6 683.6L1867.1 685.1L1867.6 686.9L1868.1 684.1L1868.6 684.6L1869.1 686.0L1869.6 682.9L1870.1 683.6L1870.6 684.6L1871.1 686.2L1871.6 684.7L1872.1 684.4L1872.6 685.0L1873.1 687.2L1873.6 684.4L1874.1 684.3L1874.6 685.9L1875.1 685.7L1875.6 686.7L1876.1 685.7L1876.6 686.2L1877.1 686.8L1877.6 684.4L1878.1 688.2L1878.6 684.6L1879.1 685.5L1879.6 688.6L1880.1 687.0L1880.6 684.3L1881.1 685.6L1881.6 685.1L1882.1 686.3L1882.6 687.6L1883.1 685.8L1883.6 682.2L1884.1 685.7L1884.6 687.0L1885.1 685.1L1885.6 686.5L1886.1 685.0L1886.6 686.1L1887.1 682.3L1887.6 682.9L1888.1 683.7L1888.6 684.4L1889.1 684.9L1889.6 685.4L1890.1 685.1L1890.6 682.8L1891.1 683.1L1891.6 684.9L1892.1 685.3L1892.6 686.0L1893.1 683.3L1893.6 684.2L1894.1 683.9L1894.6 686.5L1895.1 685.4L1895.6 686.6L1896.1 686.2L1896.6 687.5L1897.1 683.4L1897.6 683.0L1898.1 685.4L1898.6 685.4" fill="none" stroke="#ff0000" stroke-width="4.8" stroke-linejoin="round" stroke-linecap="butt" shape-rendering="crispEdges"/>
<circle cx="395.1" cy="412.0" r="13.1" fill="#ff0000"/>
<rect x="446.8" y="460.0" width="25.7" height="25.7" fill="none" stroke="#ff0000" stroke-width="2.3"/>
<circle cx="512.9" cy="622.4" r="13.1" fill="#ff0000"/>
<circle cx="654.0" cy="472.9" r="13.1" fill="#ff0000"/>
<circle cx="691.0" cy="571.3" r="13.1" fill="#ff0000"/>
<circle cx="732.1" cy="399.9" r="13.1" fill="#ff0000"/>
<rect x="774.6" y="616.2" width="25.7" height="25.7" fill="none" stroke="#ff0000" stroke-width="2.3"/>
<rect x="810.9" y="526.9" width="25.7" height="25.7" fill="none" stroke="#ff0000" stroke-width="2.3"/>
<rect x="1000.2" y="465.9" width="25.7" height="25.7" fill="none" stroke="#ff0000" stroke-width="2.3"/>
<circle cx="1040.1" cy="626.0" r="13.1" fill="#ff0000"/>
<circle cx="1061.2" cy="648.2" r="13.1" fill="#ff0000"/>
<circle cx="1096.9" cy="568.6" r="13.1" fill="#ff0000"/>
<rect x="1177.2" y="626.1" width="25.7" height="25.7" fill="none" stroke="#ff0000" stroke-width="2.3"/>
<circle cx="1224.1" cy="603.1" r="13.1" fill="#ff0000"/>
<circle cx="1274.5" cy="622.4" r="13.1" fill="#ff0000"/>
<circle cx="1330.9" cy="623.0" r="13.1" fill="#ff0000"/>
<circle cx="1500.2" cy="644.7" r="13.1" fill="#ff0000"/>
<circle cx="1823.7" cy="655.9" r="13.1" fill="#ff0000"/>
<text x="112.8" y="644.7" font-size="48.8" font-weight="bold" fill="#ff0000">Sample B</text>
<path d="M145.6 1040.8L146.1 1039.8L146.6 1039.4L147.1 1037.9L147.6 1039.1L148.1 1038.9L148.6 1039.1L149.1 1038.6L149.6 1039.0L150.1 1038.6L150.6 1037.8L151.1 1039.5L151.6 1039.4L152.1 1040.2L152.6 1038.9L153.1 1038.5L153.6 1038.4L154.1 1037.6L154.6 1039.4L155.1 1037.7L155.6 1037.6L156.1 1038.4L156.6 1039.6L157.1 1038.6L157.6 1037.6L158.1 1037.8L158.6 1038.9L159.1 1038.3L159.6 1037.9L160.1 1038.7L160.6 1039.4L161.1 1040.4L161.6 1037.8L162.1 1038.3L162.6 1038.1L163.1 1037.0L163.6 1037.7L164.1 1037.6L164.6 1039.1L165.1 1038.2L165.6 1036.8L166.1 1038.5L166.6 1037.8L167.1 1036.6L167.6 1037.4L168.1 1037.4L168.6 1037.2L169.1 1038.0L169.6 1036.1L170.1 1037.7L170.6 1038.4L171.1 1038.2L171.6 1038.3L172.1 1038.0L172.6 1038.4L173.1 1036.4L173.6 1038.0L174.1 1035.7L174.6 1036.7L175.1 1035.9L175.6 1038.1L176.1 1038.4L176.6 1037.1L177.1 1038.7L177.6 1037.0L178.1 1037.6L178.6 1037.7L179.1 1036.6L179.6 1037.7L180.1 1038.9L180.6 1036.5L181.1 1038.1L181.6 1037.3L182.1 1038.9L182.6 1037.9L183.1 1038.3L183.6 1038.4L184.1 1038.0L184.6 1036.7L185.1 1038.8L185.6 1036.6L186.1 1037.8L186.6 1038.0L187.1 1036.8L187.6 1037.6L188.1 1038.4L188.6 1037.4L189.1 1036.6L189.6 1035.7L190.1 1036.6L190.6 1037.0L191.1 1037.1L191.6 1036.9L192.1 1037.8L192.6 1037.0L193.1 1037.5L193.6 1038.1L194.1 1037.0L194.6 1037.5L195.1 1039.3L195.6 1038.5L196.1 1036.9L196.6 1037.7L197.1 1038.2L197.6 1038.9L198.1 1038.3L198.6 1037.8L199.1 1037.8L199.6 1038.8L200.1 1038.7L200.6 1038.1L201.1 1038.4L201.6 1038.4L202.1 1039.5L202.6 1038.6L203.1 1039.6L203.6 1039.9L204.1 1039.6L204.6 1038.7L205.1 1040.5L205.6 1039.0L206.1 1040.1L206.6 1039.2L207.1 1038.5L207.6 1040.0L208.1 1040.0L208.6 1039.7L209.1 1040.1L209.6 1039.6L210.1 1039.8L210.6 1040.2L211.1 1041.8L211.6 1041.1L212.1 1040.1L212.6 1041.0L213.1 1040.3L213.6 1040.4L214.1 1041.5L214.6 1040.5L215.1 1039.4L215.6 1039.9L216.1 1040.8L216.6 1040.9L217.1 1041.6L217.6 1040.1L218.1 1041.2L218.6 1041.0L219.1 1040.6L219.6 1041.3L220.1 1041.0L220.6 1040.0L221.1 1041.4L221.6 1039.6L222.1 1040.6L222.6 1040.7L223.1 1041.0L223.6 1040.0L224.1 1040.5L224.6 1040.3L225.1 1041.2L225.6 1040.0L226.1 1040.6L226.6 1040.4L227.1 1039.5L227.6 1042.0L228.1 1040.2L228.6 1039.0L229.1 1041.3L229.6 1039.3L230.1 1040.5L230.6 1040.8L231.1 1039.8L231.6 1040.1L232.1 1040.2L232.6 1040.6L233.1 1039.5L233.6 1039.9L234.1 1040.7L234.6 1041.5L235.1 1041.4L235.6 1042.2L236.1 1041.7L236.6 1040.7L237.1 1040.9L237.6 1039.5L238.1 1040.3L238.6 1040.2L239.1 1041.2L239.6 1041.5L240.1 1040.7L240.6 1040.7L241.1 1039.8L241.6 1040.8L242.1 1040.9L242.6 1041.2L243.1 1040.2L243.6 1042.3L244.1 1041.9L244.6 1040.8L245.1 1040.5L245.6 1040.7L246.1 1040.9L246.6 1041.0L247.1 1041.4L247.6 1041.8L248.1 1042.3L248.6 1042.2L249.1 1041.2L249.6 1041.6L250.1 1041.0L250.6 1040.9L251.1 1042.6L251.6 1041.0L252.1 1043.0L252.6 1041.3L253.1 1041.4L253.6 1041.8L254.1 1041.1L254.6 1041.3L255.1 1040.7L255.6 1040.6L256.1 1040.8L256.6 1040.5L257.1 1042.1L257.6 1040.5L258.1 1041.9L258.6 1039.0L259.1 1040.6L259.6 1041.0L260.1 1040.5L260.6 1041.5L261.1 1041.2L261.6 1040.5L262.1 1041.0L262.6 1042.4L263.1 1040.9L263.6 1041.0L264.1 1040.4L264.6 1041.0L265.1 1039.9L265.6 1040.7L266.1 1042.6L266.6 1041.8L267.1 1041.3L267.6 1041.8L268.1 1042.3L268.6 1041.3L269.1 1042.6L269.6 1041.9L270.1 1041.2L270.6 1042.4L271.1 1039.4L271.6 1040.7L272.1 1041.2L272.6 1040.5L273.1 1041.0L273.6 1040.7L274.1 1040.7L274.6 1042.9L275.1 1041.6L275.6 1041.3L276.1 1042.2L276.6 1041.1L277.1 1041.9L277.6 1041.5L278.1 1042.3L278.6 1040.1L279.1 1041.6L279.6 1041.3L280.1 1040.2L280.6 1041.8L281.1 1040.1L281.6 1042.1L282.1 1041.1L282.6 1041.3L283.1 1040.9L283.6 1041.7L284.1 1039.6L284.6 1041.2L285.1 1040.5L285.6 1041.3L286.1 1041.1L286.6 1041.6L287.1 1040.5L287.6 1042.6L288.1 1042.8L288.6 1040.9L289.1 1041.3L289.6 1041.4L290.1 1042.0L290.6 1042.6L291.1 1040.1L291.6 1040.6L292.1 1040.4L292.6 1040.4L293.1 1039.8L293.6 1041.2L294.1 1040.0L294.6 1041.7L295.1 1041.3L295.6 1039.8L296.1 1040.0L296.6 1040.4L297.1 1042.0L297.6 1040.2L298.1 1039.7L298.6 1040.8L299.1 1041.2L299.6 1040.5L300.1 1042.5L300.6 1041.3L301.1 1041.4L301.6 1040.2L302.1 1040.8L302.6 1040.6L303.1 1039.0L303.6 1040.9L304.1 1039.4L304.6 1040.6L305.1 1039.5L305.6 1042.0L306.1 1040.8L306.6 1041.1L307.1 1041.2L307.6 1039.5L308.1 1038.8L308.6 1040.3L309.1 1041.2L309.6 1040.6L310.1 1041.2L310.6 1041.4L311.1 1039.5L311.6 1040.8L312.1 1042.2L312.6 1040.3L313.1 1039.1L313.6 1040.5L314.1 1040.3L314.6 1041.1L315.1 1040.1L315.6 1040.9L316.1 1039.0L316.6 1041.3L317.1 1041.9L317.6 1041.6L318.1 1039.4L318.6 1040.9L319.1 1038.9L319.6 1040.7L320.1 1040.3L320.6 1039.4L321.1 1040.3L321.6 1040.0L322.1 1040.4L322.6 1039.4L323.1 1039.5L323.6 1037.5L324.1 1037.8L324.6 1037.9L325.1 1037.9L325.6 1037.1L326.1 1037.4L326.6 1034.6L327.1 1033.6L327.6 1031.9L328.1 1028.0L328.6 1022.5L329.1 1011.9L329.6 998.8L330.1 978.3L330.6 964.0L331.1 965.1L331.6 983.6L332.1 999.9L332.6 1015.0L333.1 1023.1L333.6 1029.1L334.1 1032.9L334.6 1033.4L335.1 1034.5L335.6 1035.8L336.1 1037.5L336.6 1036.5L337.1 1038.4L337.6 1037.8L338.1 1038.1L338.6 1039.0L339.1 1039.7L339.6 1039.3L340.1 1039.4L340.6 1040.1L341.1 1040.0L341.6 1038.8L342.1 1040.2L342.6 1040.7L343.1 1041.5L343.6 1042.4L344.1 1041.2L344.6 1040.8L345.1 1040.0L345.6 1040.8L346.1 1041.2L346.6 1041.5L347.1 1039.9L347.6 1040.7L348.1 1041.1L348.6 1041.9L349.1 1040.9L349.6 1040.5L350.1 1040.5L350.6 1040.7L351.1 1040.7L351.6 1041.7L352.1 1041.9L352.6 1041.8L353.1 1042.2L353.6 1040.8L354.1 1041.3L354.6 1040.6L355.1 1041.0L355.6 1041.8L356.1 1040.8L356.6 1039.3L357.1 1040.7L357.6 1040.4L358.1 1039.7L358.6 1040.2L359.1 1041.7L359.6 1042.3L360.1 1040.6L360.6 1041.7L361.1 1041.6L361.6 1039.9L362.1 1040.8L362.6 1040.7L363.1 1040.9L363.6 1039.6L364.1 1040.6L364.6 1041.7L365.1 1041.9L365.6 1042.3L366.1 1040.7L366.6 1042.7L367.1 1041.6L367.6 1040.1L368.1 1041.6L368.6 1040.8L369.1 1041.3L369.6 1041.0L370.1 1041.7L370.6 1040.9L371.1 1040.6L371.6 1041.4L372.1 1040.6L372.6 1040.1L373.1 1041.4L373.6 1040.1L374.1 1040.0L374.6 1040.0L375.1 1039.2L375.6 1039.8L376.1 1041.8L376.6 1039.5L377.1 1040.4L377.6 1039.6L378.1 1040.1L378.6 1041.9L379.1 1041.3L379.6 1040.1L380.1 1040.6L380.6 1039.9L381.1 1040.1L381.6 1040.0L382.1 1040.1L382.6 1040.8L383.1 1040.8L383.6 1040.5L384.1 1039.7L384.6 1038.6L385.1 1039.4L385.6 1038.5L386.1 1039.6L386.6 1039.0L387.1 1038.8L387.6 1037.5L388.1 1036.0L388.6 1037.7L389.1 1037.2L389.6 1034.5L390.1 1034.7L390.6 1034.2L391.1 1030.7L391.6 1030.5L392.1 1025.8L392.6 1021.4L393.1 1018.9L393.6 1013.3L394.1 1007.7L394.6 1005.3L395.1 1001.8L395.6 1006.0L396.1 1007.7L396.6 1013.3L397.1 1017.5L397.6 1022.6L398.1 1026.8L398.6 1028.6L399.1 1032.2L399.6 1033.3L400.1 1034.3L400.6 1035.6L401.1 1035.8L401.6 1036.5L402.1 1038.3L402.6 1037.9L403.1 1039.3L403.6 1039.0L404.1 1037.9L404.6 1037.4L405.1 1038.6L405.6 1039.8L406.1 1039.6L406.6 1039.3L407.1 1040.9L407.6 1038.9L408.1 1039.4L408.6 1040.6L409.1 1042.3L409.6 1041.2L410.1 1040.1L410.6 1041.2L411.1 1041.2L411.6 1041.6L412.1 1040.6L412.6 1040.3L413.1 1041.0L413.6 1041.4L414.1 1042.1L414.6 1042.5L415.1 1040.3L415.6 1040.6L416.1 1041.1L416.6 1041.0L417.1 1041.5L417.6 1041.5L418.1 1041.3L418.6 1042.1L419.1 1040.8L419.6 1040.2L420.1 1039.7L420.6 1040.2L421.1 1040.1L421.6 1039.3L422.1 1041.1L422.6 1040.8L423.1 1040.3L423.6 1039.9L424.1 1039.4L424.6 1039.8L425.1 1042.0L425.6 1038.9L426.1 1040.8L426.6 1041.3L427.1 1040.9L427.6 1040.5L428.1 1041.4L428.6 1040.0L429.1 1041.4L429.6 1042.1L430.1 1040.3L430.6 1040.4L431.1 1041.2L431.6 1041.8L432.1 1042.1L432.6 1041.5L433.1 1040.5L433.6 1040.1L434.1 1041.3L434.6 1041.2L435.1 1040.1L435.6 1041.1L436.1 1041.3L436.6 1041.9L437.1 1040.5L437.6 1041.6L438.1 1040.3L438.6 1040.9L439.1 1041.2L439.6 1042.4L440.1 1042.9L440.6 1041.3L441.1 1041.4L441.6 1041.7L442.1 1039.9L442.6 1041.3L443.1 1039.8L443.6 1041.8L444.1 1041.8L444.6 1041.0L445.1 1039.9L445.6 1041.7L446.1 1040.7L446.6 1040.6L447.1 1040.9L447.6 1039.1L448.1 1040.7L448.6 1041.0L449.1 1040.3L449.6 1039.9L450.1 1039.0L450.6 1040.0L451.1 1039.4L451.6 1038.9L452.1 1037.9L452.6 1038.7L453.1 1038.4L453.6 1037.1L454.1 1036.7L454.6 1036.0L455.1 1034.6L455.6 1031.0L456.1 1027.1L456.6 1021.6L457.1 1013.8L457.6 1003.1L458.1 989.8L458.6 976.9L459.1 973.9L459.6 980.7L460.1 995.7L460.6 1007.2L461.1 1017.8L461.6 1024.0L462.1 1028.8L462.6 1031.6L463.1 1035.4L463.6 1035.7L464.1 1036.3L464.6 1036.5L465.1 1037.4L465.6 1038.9L466.1 1040.1L466.6 1038.1L467.1 1038.6L467.6 1039.5L468.1 1039.4L468.6 1038.8L469.1 1040.2L469.6 1040.9L470.1 1039.1L470.6 1040.5L471.1 1041.0L471.6 1041.4L472.1 1040.2L472.6 1042.4L473.1 1041.1L473.6 1040.2L474.1 1041.5L474.6 1040.0L475.1 1041.5L475.6 1040.0L476.1 1041.6L476.6 1040.6L477.1 1041.8L477.6 1041.5L478.1 1041.3L478.6 1041.0L479.1 1041.8L479.6 1039.6L480.1 1041.3L480.6 1041.4L481.1 1041.5L481.6 1041.8L482.1 1042.9L482.6 1041.2L483.1 1041.9L483.6 1041.3L484.1 1042.4L484.6 1039.6L485.1 1042.5L485.6 1040.6L486.1 1039.4L486.6 1040.2L487.1 1040.7L487.6 1041.0L488.1 1041.0L488.6 1041.5L489.1 1040.9L489.6 1040.8L490.1 1039.3L490.6 1041.3L491.1 1041.8L491.6 1040.7L492.1 1039.5L492.6 1039.8L493.1 1042.1L493.6 1040.5L494.1 1040.5L494.6 1040.5L495.1 1041.8L495.6 1040.7L496.1 1040.6L496.6 1040.0L497.1 1041.1L497.6 1042.0L498.1 1041.3L498.6 1041.9L499.1 1041.3L499.6 1041.3L500.1 1041.2L500.6 1041.1L501.1 1041.9L501.6 1041.4L502.1 1040.7L502.6 1041.1L503.1 1040.9L503.6 1041.2L504.1 1041.3L504.6 1041.3L505.1 1039.9L505.6 1041.2L506.1 1041.5L506.6 1039.4L507.1 1041.6L507.6 1040.6L508.1 1040.1L508.6 1038.8L509.1 1040.7L509.6 1038.6L510.1 1038.4L510.6 1038.2L511.1 1036.1L511.6 1035.1L512.1 1033.2L512.6 1032.4L513.1 1031.4L513.6 1031.0L514.1 1031.7L514.6 1032.7L515.1 1034.9L515.6 1035.9L516.1 1039.4L516.6 1038.9L517.1 1037.9L517.6 1039.3L518.1 1041.6L518.6 1039.7L519.1 1040.5L519.6 1041.3L520.1 1040.3L520.6 1042.0L521.1 1042.4L521.6 1040.4L522.1 1041.9L522.6 1040.5L523.1 1040.2L523.6 1041.0L524.1 1041.0L524.6 1040.4L525.1 1041.7L525.6 1039.9L526.1 1040.4L526.6 1040.3L527.1 1041.7L527.6 1041.7L528.1 1041.6L528.6 1040.3L529.1 1041.4L529.6 1041.6L530.1 1039.9L530.6 1040.6L531.1 1041.7L531.6 1041.6L532.1 1041.4L532.6 1041.7L533.1 1041.4L533.6 1041.3L534.1 1041.1L534.6 1040.7L535.1 1041.2L535.6 1041.2L536.1 1043.4L536.6 1042.0L537.1 1041.8L537.6 1041.5L538.1 1041.5L538.6 1041.5L539.1 1042.2L539.6 1041.7L540.1 1042.2L540.6 1041.0L541.1 1041.8L541.6 1042.1L542.1 1040.3L542.6 1041.4L543.1 1041.5L543.6 1040.9L544.1 1040.8L544.6 1039.8L545.1 1042.0L545.6 1040.4L546.1 1040.2L546.6 1041.7L547.1 1039.8L547.6 1041.9L548.1 1041.4L548.6 1041.6L549.1 1041.1L549.6 1040.3L550.1 1039.8L550.6 1042.4L551.1 1041.0L551.6 1040.9L552.1 1042.5L552.6 1040.8L553.1 1041.3L553.6 1041.3L554.1 1041.3L554.6 1040.8L555.1 1041.2L555.6 1042.5L556.1 1042.3L556.6 1040.1L557.1 1040.3L557.6 1042.0L558.1 1041.7L558.6 1041.4L559.1 1042.5L559.6 1040.3L560.1 1042.4L560.6 1041.7L561.1 1042.1L561.6 1041.8L562.1 1042.2L562.6 1041.4L563.1 1041.1L563.6 1041.9L564.1 1041.3L564.6 1040.3L565.1 1042.3L565.6 1042.4L566.1 1042.3L566.6 1041.2L567.1 1041.3L567.6 1040.8L568.1 1040.3L568.6 1041.3L569.1 1041.5L569.6 1041.1L570.1 1043.0L570.6 1040.3L571.1 1040.8L571.6 1041.0L572.1 1042.4L572.6 1041.1L573.1 1041.0L573.6 1040.5L574.1 1040.6L574.6 1040.1L575.1 1041.8L575.6 1041.5L576.1 1041.8L576.6 1040.6L577.1 1042.6L577.6 1040.3L578.1 1039.6L578.6 1040.9L579.1 1041.1L579.6 1041.6L580.1 1039.9L580.6 1040.9L581.1 1041.3L581.6 1038.7L582.1 1038.0L582.6 1036.4L583.1 1036.6L583.6 1035.8L584.1 1034.8L584.6 1034.5L585.1 1035.5L585.6 1035.7L586.1 1037.6L586.6 1037.3L587.1 1038.2L587.6 1039.8L588.1 1039.5L588.6 1040.8L589.1 1041.7L589.6 1041.2L590.1 1040.4L590.6 1040.4L591.1 1042.1L591.6 1040.5L592.1 1041.2L592.6 1041.2L593.1 1041.5L593.6 1042.3L594.1 1041.3L594.6 1040.5L595.1 1042.7L595.6 1041.8L596.1 1042.2L596.6 1041.5L597.1 1042.1L597.6 1042.5L598.1 1042.4L598.6 1041.1L599.1 1041.1L599.6 1041.7L600.1 1041.6L600.6 1041.9L601.1 1040.9L601.6 1039.8L602.1 1041.9L602.6 1042.2L603.1 1042.0L603.6 1042.7L604.1 1042.2L604.6 1041.1L605.1 1042.0L605.6 1041.2L606.1 1042.2L606.6 1041.5L607.1 1041.5L607.6 1041.4L608.1 1041.2L608.6 1040.1L609.1 1041.4L609.6 1039.6L610.1 1041.7L610.6 1042.3L611.1 1043.1L611.6 1041.7L612.1 1040.8L612.6 1040.3L613.1 1043.0L613.6 1040.3L614.1 1042.1L614.6 1039.8L615.1 1041.3L615.6 1041.9L616.1 1041.5L616.6 1041.1L617.1 1040.6L617.6 1040.5L618.1 1041.9L618.6 1041.5L619.1 1041.1L619.6 1041.3L620.1 1040.3L620.6 1041.7L621.1 1041.8L621.6 1040.0L622.1 1040.4L622.6 1040.7L623.1 1039.1L623.6 1040.8L624.1 1039.9L624.6 1038.2L625.1 1039.0L625.6 1039.7L626.1 1037.7L626.6 1039.4L627.1 1039.2L627.6 1039.5L628.1 1040.6L628.6 1039.7L629.1 1039.0L629.6 1039.0L630.1 1040.1L630.6 1040.5L631.1 1039.8L631.6 1039.3L632.1 1039.2L632.6 1039.9L633.1 1039.1L633.6 1038.3L634.1 1039.0L634.6 1040.5L635.1 1039.3L635.6 1039.7L636.1 1039.9L636.6 1039.3L637.1 1041.0L637.6 1038.6L638.1 1041.3L638.6 1039.9L639.1 1039.1L639.6 1040.1L640.1 1038.3L640.6 1040.0L641.1 1039.9L641.6 1038.9L642.1 1038.7L642.6 1039.6L643.1 1038.1L643.6 1038.5L644.1 1038.6L644.6 1039.5L645.1 1037.5L645.6 1037.6L646.1 1038.0L646.6 1035.2L647.1 1036.1L647.6 1034.1L648.1 1033.5L648.6 1035.5L649.1 1033.2L649.6 1033.0L650.1 1030.2L650.6 1029.0L651.1 1026.1L651.6 1023.2L652.1 1019.9L652.6 1015.3L653.1 1009.6L653.6 998.3L654.1 983.5L654.6 959.7L655.1 926.2L655.6 879.5L656.1 828.7L656.6 785.0L657.1 780.9L657.6 817.6L658.1 871.2L658.6 918.7L659.1 954.3L659.6 979.5L660.1 996.3L660.6 1007.6L661.1 1014.9L661.6 1020.4L662.1 1024.6L662.6 1026.6L663.1 1027.3L663.6 1031.4L664.1 1033.2L664.6 1032.4L665.1 1033.4L665.6 1033.1L666.1 1036.0L666.6 1035.1L667.1 1037.8L667.6 1035.3L668.1 1037.3L668.6 1038.2L669.1 1037.6L669.6 1037.5L670.1 1038.5L670.6 1038.2L671.1 1038.5L671.6 1039.0L672.1 1038.9L672.6 1039.2L673.1 1040.1L673.6 1039.3L674.1 1039.7L674.6 1039.1L675.1 1040.5L675.6 1039.0L676.1 1040.7L676.6 1038.4L677.1 1039.3L677.6 1038.8L678.1 1040.9L678.6 1040.4L679.1 1039.5L679.6 1040.1L680.1 1041.6L680.6 1040.5L681.1 1040.9L681.6 1039.6L682.1 1039.6L682.6 1041.3L683.1 1042.5L683.6 1040.4L684.1 1041.3L684.6 1040.0L685.1 1041.7L685.6 1040.4L686.1 1040.3L686.6 1039.3L687.1 1040.1L687.6 1040.6L688.1 1041.2L688.6 1039.2L689.1 1040.7L689.6 1039.6L690.1 1039.5L690.6 1038.9L691.1 1038.3L691.6 1038.8L692.1 1040.9L692.6 1038.8L693.1 1039.5L693.6 1040.9L694.1 1038.5L694.6 1040.6L695.1 1039.9L695.6 1040.4L696.1 1040.9L696.6 1040.0L697.1 1039.9L697.6 1040.6L698.1 1040.3L698.6 1039.2L699.1 1039.3L699.6 1038.2L700.1 1040.0L700.6 1037.6L701.1 1038.5L701.6 1039.4L702.1 1038.4L702.6 1037.3L703.1 1036.5L703.6 1036.1L704.1 1036.6L704.6 1035.5L705.1 1034.3L705.6 1034.8L706.1 1031.0L706.6 1029.2L707.1 1026.3L707.6 1022.5L708.1 1016.0L708.6 1005.8L709.1 992.0L709.6 971.1L710.1 943.7L710.6 914.5L711.1 900.4L711.6 906.4L712.1 931.8L712.6 960.2L713.1 982.7L713.6 999.9L714.1 1012.0L714.6 1019.2L715.1 1024.8L715.6 1027.3L716.1 1030.1L716.6 1031.4L717.1 1033.3L717.6 1034.8L718.1 1035.4L718.6 1035.0L719.1 1036.7L719.6 1037.6L720.1 1038.8L720.6 1038.3L721.1 1038.2L721.6 1037.9L722.1 1040.4L722.6 1038.4L723.1 1038.5L723.6 1039.2L724.1 1038.1L724.6 1040.4L725.1 1039.8L725.6 1040.0L726.1 1038.8L726.6 1039.2L727.1 1040.1L727.6 1040.1L728.1 1041.0L728.6 1039.9L729.1 1037.6L729.6 1038.7L730.1 1037.8L730.6 1038.1L731.1 1036.3L731.6 1035.7L732.1 1033.8L732.6 1033.2L733.1 1032.5L733.6 1029.7L734.1 1028.2L734.6 1029.1L735.1 1032.1L735.6 1032.6L736.1 1033.8L736.6 1034.7L737.1 1037.5L737.6 1037.8L738.1 1038.2L738.6 1038.4L739.1 1039.2L739.6 1039.3L740.1 1040.2L740.6 1041.0L741.1 1038.7L741.6 1039.1L742.1 1040.4L742.6 1040.7L743.1 1039.7L743.6 1040.2L744.1 1040.3L744.6 1040.4L745.1 1040.6L745.6 1040.9L746.1 1041.6L746.6 1041.4L747.1 1041.5L747.6 1041.1L748.1 1040.3L748.6 1040.5L749.1 1041.7L749.6 1041.4L750.1 1041.7L750.6 1041.4L751.1 1041.2L751.6 1041.7L752.1 1040.3L752.6 1041.2L753.1 1041.0L753.6 1042.1L754.1 1040.7L754.6 1041.5L755.1 1041.0L755.6 1041.8L756.1 1042.0L756.6 1041.3L757.1 1041.4L757.6 1041.5L758.1 1042.1L758.6 1041.3L759.1 1041.6L759.6 1041.3L760.1 1040.9L760.6 1041.8L761.1 1041.9L761.6 1041.1L762.1 1042.9L762.6 1041.1L763.1 1042.2L763.6 1042.0L764.1 1040.3L764.6 1041.6L765.1 1040.5L765.6 1041.4L766.1 1042.0L766.6 1042.9L767.1 1042.0L767.6 1040.2L768.1 1041.3L768.6 1042.7L769.1 1041.7L769.6 1042.8L770.1 1040.9L770.6 1041.1L771.1 1040.4L771.6 1041.1L772.1 1042.4L772.6 1040.8L773.1 1042.1L773.6 1041.8L774.1 1042.0L774.6 1041.2L775.1 1041.4L775.6 1043.1L776.1 1040.5L776.6 1042.1L777.1 1042.7L777.6 1042.0L778.1 1042.9L778.6 1039.9L779.1 1041.2L779.6 1040.6L780.1 1041.2L780.6 1041.4L781.1 1041.8L781.6 1040.7L782.1 1041.9L782.6 1040.0L783.1 1041.7L783.6 1040.6L784.1 1039.2L784.6 1039.1L785.1 1039.0L785.6 1039.4L786.1 1040.1L786.6 1040.6L787.1 1039.8L787.6 1037.5L788.1 1036.2L788.6 1036.4L789.1 1034.3L789.6 1033.7L790.1 1031.6L790.6 1031.9L791.1 1027.6L791.6 1029.0L792.1 1031.2L792.6 1031.3L793.1 1032.8L793.6 1036.4L794.1 1035.1L794.6 1036.4L795.1 1037.6L795.6 1039.4L796.1 1040.2L796.6 1040.1L797.1 1042.0L797.6 1040.4L798.1 1040.7L798.6 1040.9L799.1 1042.2L799.6 1041.1L800.1 1040.9L800.6 1042.6L801.1 1042.4L801.6 1042.0L802.1 1040.3L802.6 1040.5L803.1 1041.0L803.6 1041.0L804.1 1040.6L804.6 1040.8L805.1 1041.7L805.6 1040.4L806.1 1041.2L806.6 1040.6L807.1 1040.5L807.6 1040.6L808.1 1041.3L808.6 1041.0L809.1 1040.2L809.6 1041.1L810.1 1041.0L810.6 1041.2L811.1 1040.7L811.6 1041.7L812.1 1041.3L812.6 1040.2L813.1 1039.8L813.6 1039.7L814.1 1041.0L814.6 1040.1L815.1 1040.4L815.6 1040.4L816.1 1041.4L816.6 1042.0L817.1 1040.0L817.6 1041.5L818.1 1040.3L818.6 1040.8L819.1 1039.4L819.6 1038.3L820.1 1039.3L820.6 1039.3L821.1 1036.3L821.6 1036.1L822.1 1034.8L822.6 1033.0L823.1 1028.3L823.6 1023.9L824.1 1019.0L824.6 1012.4L825.1 1003.9L825.6 1000.0L826.1 1000.0L826.6 1005.4L827.1 1012.0L827.6 1018.9L828.1 1024.4L828.6 1029.3L829.1 1033.4L829.6 1034.8L830.1 1036.7L830.6 1036.9L831.1 1038.7L831.6 1037.0L832.1 1038.1L832.6 1039.4L833.1 1038.6L833.6 1040.6L834.1 1040.5L834.6 1039.8L835.1 1040.7L835.6 1039.7L836.1 1040.3L836.6 1040.9L837.1 1040.2L837.6 1042.2L838.1 1041.0L838.6 1042.4L839.1 1041.5L839.6 1041.9L840.1 1041.1L840.6 1041.6L841.1 1041.6L841.6 1042.0L842.1 1042.8L842.6 1041.5L843.1 1041.9L843.6 1042.3L844.1 1042.8L844.6 1042.1L845.1 1041.8L845.6 1041.6L846.1 1042.1L846.6 1042.1L847.1 1041.3L847.6 1041.5L848.1 1042.4L848.6 1041.8L849.1 1041.4L849.6 1042.4L850.1 1042.5L850.6 1042.6L851.1 1042.7L851.6 1041.8L852.1 1042.4L852.6 1042.7L853.1 1042.6L853.6 1041.0L854.1 1042.2L854.6 1042.6L855.1 1042.8L855.6 1042.0L856.1 1042.1L856.6 1040.7L857.1 1041.0L857.6 1040.4L858.1 1041.7L858.6 1043.2L859.1 1043.4L859.6 1041.3L860.1 1042.5L860.6 1043.0L861.1 1041.9L861.6 1040.7L862.1 1043.2L862.6 1041.9L863.1 1041.9L863.6 1043.6L864.1 1042.6L864.6 1042.9L865.1 1043.4L865.6 1042.0L866.1 1041.4L866.6 1042.8L867.1 1042.2L867.6 1042.9L868.1 1042.3L868.6 1041.2L869.1 1041.9L869.6 1041.7L870.1 1041.8L870.6 1042.0L871.1 1042.3L871.6 1042.1L872.1 1041.0L872.6 1042.5L873.1 1041.0L873.6 1043.9L874.1 1041.7L874.6 1042.2L875.1 1043.2L875.6 1042.0L876.1 1041.3L876.6 1041.2L877.1 1042.4L877.6 1042.5L878.1 1042.7L878.6 1042.0L879.1 1041.4L879.6 1042.1L880.1 1042.6L880.6 1040.6L881.1 1042.4L881.6 1039.9L882.1 1040.3L882.6 1040.1L883.1 1038.6L883.6 1038.3L884.1 1039.3L884.6 1040.8L885.1 1038.9L885.6 1041.5L886.1 1041.2L886.6 1041.2L887.1 1041.9L887.6 1042.2L888.1 1042.4L888.6 1041.7L889.1 1043.1L889.6 1040.7L890.1 1041.6L890.6 1041.5L891.1 1042.6L891.6 1042.2L892.1 1043.1L892.6 1042.1L893.1 1043.7L893.6 1043.3L894.1 1042.1L894.6 1041.3L895.1 1041.7L895.6 1041.3L896.1 1043.4L896.6 1042.9L897.1 1041.4L897.6 1043.7L898.1 1042.1L898.6 1040.7L899.1 1043.1L899.6 1043.3L900.1 1042.2L900.6 1041.4L901.1 1043.1L901.6 1041.7L902.1 1042.0L902.6 1042.2L903.1 1042.1L903.6 1041.6L904.1 1041.1L904.6 1042.5L905.1 1040.3L905.6 1042.3L906.1 1042.4L906.6 1042.5L907.1 1041.8L907.6 1042.2L908.1 1042.9L908.6 1041.5L909.1 1042.2L909.6 1042.6L910.1 1041.4L910.6 1041.5L911.1 1043.4L911.6 1042.9L912.1 1041.7L912.6 1042.9L913.1 1042.5L913.6 1043.1L914.1 1042.9L914.6 1040.4L915.1 1041.8L915.6 1043.1L916.1 1043.5L916.6 1041.7L917.1 1041.4L917.6 1042.3L918.1 1041.7L918.6 1042.3L919.1 1041.5L919.6 1042.9L920.1 1043.0L920.6 1042.7L921.1 1041.5L921.6 1041.1L922.1 1041.4L922.6 1042.9L923.1 1041.2L923.6 1043.1L924.1 1044.1L924.6 1042.2L925.1 1042.5L925.6 1043.2L926.1 1043.1L926.6 1042.0L927.1 1042.3L927.6 1042.6L928.1 1042.1L928.6 1042.6L929.1 1042.4L929.6 1043.2L930.1 1040.9L930.6 1043.2L931.1 1043.1L931.6 1042.5L932.1 1042.9L932.6 1043.4L933.1 1042.9L933.6 1042.5L934.1 1043.1L934.6 1042.2L935.1 1041.7L935.6 1042.1L936.1 1042.1L936.6 1042.7L937.1 1043.1L937.6 1042.7L938.1 1043.5L938.6 1042.3L939.1 1041.8L939.6 1041.6L940.1 1041.5L940.6 1041.9L941.1 1043.2L941.6 1041.0L942.1 1042.7L942.6 1042.3L943.1 1042.9L943.6 1041.9L944.1 1042.8L944.6 1042.0L945.1 1042.9L945.6 1040.9L946.1 1042.6L946.6 1042.9L947.1 1041.3L947.6 1043.0L948.1 1041.6L948.6 1043.1L949.1 1042.5L949.6 1042.9L950.1 1042.6L950.6 1041.3L951.1 1043.3L951.6 1043.1L952.1 1041.3L952.6 1042.4L953.1 1042.3L953.6 1041.4L954.1 1041.1L954.6 1042.9L955.1 1041.8L955.6 1042.7L956.1 1043.5L956.6 1042.6L957.1 1041.6L957.6 1043.0L958.1 1041.3L958.6 1041.9L959.1 1044.0L959.6 1042.0L960.1 1043.0L960.6 1041.9L961.1 1042.8L961.6 1043.2L962.1 1041.3L962.6 1042.6L963.1 1043.6L963.6 1043.6L964.1 1042.9L964.6 1042.0L965.1 1043.1L965.6 1042.1L966.1 1041.9L966.6 1042.4L967.1 1044.0L967.6 1041.7L968.1 1043.1L968.6 1042.6L969.1 1041.4L969.6 1041.9L970.1 1042.4L970.6 1042.0L971.1 1042.8L971.6 1041.7L972.1 1041.7L972.6 1043.3L973.1 1042.4L973.6 1041.7L974.1 1042.2L974.6 1043.5L975.1 1041.7L975.6 1041.1L976.1 1043.0L976.6 1043.6L977.1 1043.1L977.6 1041.3L978.1 1040.6L978.6 1043.2L979.1 1042.2L979.6 1042.8L980.1 1042.2L980.6 1043.5L981.1 1042.3L981.6 1042.0L982.1 1042.4L982.6 1041.5L983.1 1042.3L983.6 1042.1L984.1 1040.6L984.6 1041.3L985.1 1041.4L985.6 1041.3L986.1 1043.0L986.6 1043.5L987.1 1042.6L987.6 1041.1L988.1 1040.7L988.6 1042.7L989.1 1041.8L989.6 1041.8L990.1 1040.7L990.6 1039.9L991.1 1042.9L991.6 1040.2L992.1 1039.9L992.6 1038.9L993.1 1041.1L993.6 1040.1L994.1 1040.8L994.6 1041.4L995.1 1041.6L995.6 1043.0L996.1 1040.7L996.6 1042.3L997.1 1041.4L997.6 1041.7L998.1 1041.5L998.6 1042.2L999.1 1040.9L999.6 1041.4L1000.1 1042.2L1000.6 1041.3L1001.1 1041.2L1001.6 1041.7L1002.1 1041.6L1002.6 1041.2L1003.1 1041.4L1003.6 1040.6L1004.1 1041.7L1004.6 1040.0L1005.1 1039.4L1005.6 1040.7L1006.1 1039.1L1006.6 1039.0L1007.1 1039.2L1007.6 1039.5L1008.1 1038.0L1008.6 1037.3L1009.1 1036.6L1009.6 1036.1L1010.1 1034.0L1010.6 1032.8L1011.1 1031.0L1011.6 1026.0L1012.1 1020.6L1012.6 1012.8L1013.1 1003.8L1013.6 993.3L1014.1 984.5L1014.6 981.2L1015.1 985.9L1015.6 994.9L1016.1 1004.4L1016.6 1014.0L1017.1 1019.9L1017.6 1028.0L1018.1 1032.1L1018.6 1033.1L1019.1 1035.6L1019.6 1036.7L1020.1 1038.2L1020.6 1037.7L1021.1 1037.8L1021.6 1040.1L1022.1 1038.9L1022.6 1040.4L1023.1 1039.6L1023.6 1039.8L1024.1 1041.3L1024.6 1041.9L1025.1 1040.6L1025.6 1040.6L1026.1 1041.2L1026.6 1040.6L1027.1 1039.7L1027.6 1041.2L1028.1 1039.8L1028.6 1041.9L1029.1 1041.4L1029.6 1041.9L1030.1 1040.7L1030.6 1041.3L1031.1 1042.4L1031.6 1043.2L1032.1 1042.7L1032.6 1042.5L1033.1 1041.3L1033.6 1042.5L1034.1 1042.1L1034.6 1041.6L1035.1 1042.8L1035.6 1041.3L1036.1 1043.1L1036.6 1041.3L1037.1 1041.2L1037.6 1041.8L1038.1 1040.9L1038.6 1041.6L1039.1 1042.1L1039.6 1040.7L1040.1 1041.5L1040.6 1041.1L1041.1 1041.7L1041.6 1043.1L1042.1 1042.1L1042.6 1042.3L1043.1 1042.6L1043.6 1041.4L1044.1 1042.6L1044.6 1042.0L1045.1 1041.8L1045.6 1041.0L1046.1 1041.9L1046.6 1043.2L1047.1 1043.3L1047.6 1041.9L1048.1 1042.0L1048.6 1041.8L1049.1 1041.2L1049.6 1040.5L1050.1 1043.2L1050.6 1041.2L1051.1 1042.0L1051.6 1043.0L1052.1 1041.6L1052.6 1041.7L1053.1 1042.1L1053.6 1041.7L1054.1 1042.2L1054.6 1041.7L1055.1 1042.7L1055.6 1042.2L1056.1 1040.9L1056.6 1041.0L1057.1 1041.6L1057.6 1041.4L1058.1 1041.3L1058.6 1042.4L1059.1 1041.3L1059.6 1041.4L1060.1 1042.0L1060.6 1040.5L1061.1 1042.5L1061.6 1042.7L1062.1 1043.1L1062.6 1041.3L1063.1 1041.9L1063.6 1042.3L1064.1 1042.0L1064.6 1041.2L1065.1 1043.2L1065.6 1042.4L1066.1 1042.9L1066.6 1041.7L1067.1 1043.2L1067.6 1042.1L1068.1 1042.0L1068.6 1043.0L1069.1 1043.3L1069.6 1041.9L1070.1 1043.1L1070.6 1043.6L1071.1 1042.6L1071.6 1041.3L1072.1 1042.7L1072.6 1043.1L1073.1 1041.7L1073.6 1043.7L1074.1 1042.2L1074.6 1042.3L1075.1 1043.2L1075.6 1042.6L1076.1 1043.3L1076.6 1042.3L1077.1 1042.6L1077.6 1042.5L1078.1 1042.6L1078.6 1042.8L1079.1 1042.7L1079.6 1042.1L1080.1 1042.9L1080.6 1042.1L1081.1 1043.0L1081.6 1042.6L1082.1 1042.0L1082.6 1041.4L1083.1 1042.0L1083.6 1043.0L1084.1 1042.1L1084.6 1042.6L1085.1 1041.7L1085.6 1041.6L1086.1 1041.4L1086.6 1040.4L1087.1 1042.0L1087.6 1041.9L1088.1 1041.9L1088.6 1042.5L1089.1 1040.9L1089.6 1043.0L1090.1 1040.7L1090.6 1042.1L1091.1 1040.8L1091.6 1041.3L1092.1 1042.4L1092.6 1040.3L1093.1 1041.4L1093.6 1041.1L1094.1 1040.8L1094.6 1040.7L1095.1 1040.6L1095.6 1039.7L1096.1 1038.9L1096.6 1038.8L1097.1 1037.9L1097.6 1036.6L1098.1 1035.4L1098.6 1037.0L1099.1 1036.6L1099.6 1038.8L1100.1 1037.7L1100.6 1037.9L1101.1 1040.2L1101.6 1039.3L1102.1 1038.8L1102.6 1041.1L1103.1 1039.2L1103.6 1041.2L1104.1 1039.5L1104.6 1040.2L1105.1 1039.7L1105.6 1038.0L1106.1 1038.9L1106.6 1038.3L1107.1 1038.3L1107.6 1038.3L1108.1 1038.4L1108.6 1036.3L1109.1 1035.7L1109.6 1036.4L1110.1 1034.1L1110.6 1032.4L1111.1 1028.3L1111.6 1025.4L1112.1 1021.7L1112.6 1016.1L1113.1 1008.6L1113.6 999.2L1114.1 983.6L1114.6 969.7L1115.1 958.1L1115.6 953.0L1116.1 958.6L1116.6 969.8L1117.1 983.7L1117.6 999.1L1118.1 1008.4L1118.6 1015.3L1119.1 1021.9L1119.6 1026.4L1120.1 1028.6L1120.6 1032.8L1121.1 1033.9L1121.6 1034.7L1122.1 1035.4L1122.6 1038.0L1123.1 1037.4L1123.6 1037.5L1124.1 1037.1L1124.6 1038.1L1125.1 1039.8L1125.6 1040.7L1126.1 1038.8L1126.6 1038.6L1127.1 1040.4L1127.6 1040.7L1128.1 1041.4L1128.6 1040.4L1129.1 1041.1L1129.6 1039.8L1130.1 1040.4L1130.6 1041.0L1131.1 1041.1L1131.6 1041.9L1132.1 1042.4L1132.6 1040.4L1133.1 1042.8L1133.6 1041.1L1134.1 1041.5L1134.6 1042.6L1135.1 1040.1L1135.6 1040.7L1136.1 1041.2L1136.6 1041.9L1137.1 1042.6L1137.6 1042.7L1138.1 1041.2L1138.6 1042.6L1139.1 1041.8L1139.6 1043.2L1140.1 1041.9L1140.6 1042.9L1141.1 1041.3L1141.6 1042.8L1142.1 1041.2L1142.6 1042.2L1143.1 1040.8L1143.6 1041.9L1144.1 1041.4L1144.6 1041.3L1145.1 1042.2L1145.6 1042.5L1146.1 1041.9L1146.6 1042.0L1147.1 1042.3L1147.6 1042.7L1148.1 1042.6L1148.6 1042.1L1149.1 1043.4L1149.6 1041.6L1150.1 1042.7L1150.6 1041.2L1151.1 1044.0L1151.6 1042.1L1152.1 1042.4L1152.6 1043.4L1153.1 1042.2L1153.6 1041.9L1154.1 1041.2L1154.6 1042.3L1155.1 1043.9L1155.6 1042.5L1156.1 1043.6L1156.6 1042.8L1157.1 1041.9L1157.6 1041.2L1158.1 1042.2L1158.6 1042.7L1159.1 1042.1L1159.6 1042.3L1160.1 1042.7L1160.6 1041.9L1161.1 1041.0L1161.6 1041.9L1162.1 1042.7L1162.6 1041.5L1163.1 1041.5L1163.6 1041.4L1164.1 1042.1L1164.6 1042.0L1165.1 1042.2L1165.6 1041.2L1166.1 1042.2L1166.6 1041.8L1167.1 1041.5L1167.6 1040.7L1168.1 1041.3L1168.6 1041.6L1169.1 1042.4L1169.6 1042.5L1170.1 1042.3L1170.6 1042.4L1171.1 1041.4L1171.6 1042.8L1172.1 1042.9L1172.6 1043.0L1173.1 1042.2L1173.6 1042.5L1174.1 1042.2L1174.6 1041.3L1175.1 1042.0L1175.6 1041.0L1176.1 1040.8L1176.6 1042.6L1177.1 1042.5L1177.6 1042.6L1178.1 1041.5L1178.6 1041.6L1179.1 1041.9L1179.6 1041.2L1180.1 1040.0L1180.6 1043.4L1181.1 1042.6L1181.6 1042.6L1182.1 1041.6L1182.6 1040.8L1183.1 1041.4L1183.6 1041.2L1184.1 1039.9L1184.6 1040.6L1185.1 1041.0L1185.6 1041.4L1186.1 1040.2L1186.6 1038.9L1187.1 1037.7L1187.6 1039.5L1188.1 1037.2L1188.6 1036.6L1189.1 1034.7L1189.6 1031.9L1190.1 1032.5L1190.6 1029.0L1191.1 1026.7L1191.6 1022.0L1192.1 1020.1L1192.6 1019.1L1193.1 1017.0L1193.6 1017.5L1194.1 1019.1L1194.6 1021.8L1195.1 1026.5L1195.6 1028.6L1196.1 1029.7L1196.6 1034.3L1197.1 1035.9L1197.6 1037.1L1198.1 1035.8L1198.6 1038.2L1199.1 1039.8L1199.6 1038.5L1200.1 1039.1L1200.6 1039.9L1201.1 1038.7L1201.6 1040.6L1202.1 1041.3L1202.6 1041.3L1203.1 1042.0L1203.6 1041.2L1204.1 1041.3L1204.6 1041.2L1205.1 1041.0L1205.6 1040.9L1206.1 1041.2L1206.6 1041.7L1207.1 1041.4L1207.6 1042.0L1208.1 1042.2L1208.6 1042.7L1209.1 1041.7L1209.6 1040.6L1210.1 1041.4L1210.6 1043.6L1211.1 1042.7L1211.6 1041.8L1212.1 1042.1L1212.6 1042.3L1213.1 1042.0L1213.6 1042.4L1214.1 1042.9L1214.6 1043.4L1215.1 1042.0L1215.6 1042.1L1216.1 1042.2L1216.6 1042.4L1217.1 1043.2L1217.6 1041.9L1218.1 1044.1L1218.6 1042.9L1219.1 1043.1L1219.6 1041.6L1220.1 1042.1L1220.6 1042.0L1221.1 1042.4L1221.6 1040.8L1222.1 1042.9L1222.6 1041.3L1223.1 1042.8L1223.6 1043.1L1224.1 1042.2L1224.6 1042.3L1225.1 1042.2L1225.6 1042.0L1226.1 1042.4L1226.6 1043.0L1227.1 1042.7L1227.6 1043.3L1228.1 1042.2L1228.6 1041.9L1229.1 1042.1L1229.6 1041.8L1230.1 1042.3L1230.6 1042.1L1231.1 1044.0L1231.6 1043.2L1232.1 1044.2L1232.6 1041.3L1233.1 1042.9L1233.6 1043.5L1234.1 1042.8L1234.6 1042.2L1235.1 1042.5L1235.6 1042.7L1236.1 1042.8L1236.6 1043.0L1237.1 1043.4L1237.6 1042.9L1238.1 1042.9L1238.6 1043.0L1239.1 1043.2L1239.6 1042.3L1240.1 1043.2L1240.6 1042.4L1241.1 1043.3L1241.6 1042.2L1242.1 1042.6L1242.6 1042.5L1243.1 1041.8L1243.6 1043.4L1244.1 1042.8L1244.6 1042.6L1245.1 1043.6L1245.6 1042.4L1246.1 1042.6L1246.6 1043.4L1247.1 1044.3L1247.6 1042.7L1248.1 1043.8L1248.6 1042.8L1249.1 1042.1L1249.6 1043.1L1250.1 1043.6L1250.6 1042.7L1251.1 1043.0L1251.6 1041.8L1252.1 1040.9L1252.6 1042.6L1253.1 1041.4L1253.6 1042.7L1254.1 1042.1L1254.6 1042.6L1255.1 1043.1L1255.6 1041.3L1256.1 1042.6L1256.6 1042.5L1257.1 1043.8L1257.6 1042.7L1258.1 1042.1L1258.6 1042.2L1259.1 1043.8L1259.6 1041.9L1260.1 1042.7L1260.6 1043.0L1261.1 1041.7L1261.6 1041.9L1262.1 1041.1L1262.6 1041.9L1263.1 1043.2L1263.6 1042.9L1264.1 1041.3L1264.6 1043.9L1265.1 1041.7L1265.6 1041.9L1266.1 1043.8L1266.6 1042.9L1267.1 1042.4L1267.6 1043.7L1268.1 1042.5L1268.6 1042.6L1269.1 1041.9L1269.6 1042.3L1270.1 1042.2L1270.6 1043.1L1271.1 1041.8L1271.6 1042.1L1272.1 1040.7L1272.6 1041.1L1273.1 1042.8L1273.6 1041.9L1274.1 1042.0L1274.6 1042.6L1275.1 1042.0L1275.6 1042.4L1276.1 1042.1L1276.6 1040.7L1277.1 1042.7L1277.6 1043.5L1278.1 1043.2L1278.6 1042.2L1279.1 1042.4L1279.6 1042.4L1280.1 1043.4L1280.6 1043.0L1281.1 1042.0L1281.6 1042.1L1282.1 1042.1L1282.6 1041.8L1283.1 1041.8L1283.6 1042.1L1284.1 1040.7L1284.6 1042.6L1285.1 1042.0L1285.6 1041.2L1286.1 1041.9L1286.6 1041.4L1287.1 1042.7L1287.6 1041.0L1288.1 1041.7L1288.6 1041.9L1289.1 1040.8L1289.6 1040.3L1290.1 1041.3L1290.6 1040.6L1291.1 1040.1L1291.6 1039.5L1292.1 1040.6L1292.6 1040.8L1293.1 1038.7L1293.6 1038.9L1294.1 1038.4L1294.6 1037.3L1295.1 1034.7L1295.6 1033.8L1296.1 1031.4L1296.6 1029.3L1297.1 1023.2L1297.6 1018.2L1298.1 1011.8L1298.6 1005.3L1299.1 999.7L1299.6 1000.0L1300.1 1004.4L1300.6 1008.7L1301.1 1014.9L1301.6 1019.0L1302.1 1023.0L1302.6 1024.9L1303.1 1025.2L1303.6 1022.8L1304.1 1020.2L1304.6 1017.5L1305.1 1017.6L1305.6 1020.5L1306.1 1026.4L1306.6 1028.8L1307.1 1033.0L1307.6 1034.5L1308.1 1036.2L1308.6 1038.6L1309.1 1038.9L1309.6 1039.5L1310.1 1038.6L1310.6 1041.8L1311.1 1042.0L1311.6 1040.4L1312.1 1039.8L1312.6 1040.5L1313.1 1041.3L1313.6 1040.6L1314.1 1041.5L1314.6 1040.9L1315.1 1043.1L1315.6 1041.2L1316.1 1041.1L1316.6 1043.0L1317.1 1041.6L1317.6 1041.5L1318.1 1041.4L1318.6 1042.1L1319.1 1041.4L1319.6 1041.8L1320.1 1041.4L1320.6 1040.8L1321.1 1041.6L1321.6 1041.8L1322.1 1042.8L1322.6 1041.8L1323.1 1041.3L1323.6 1041.7L1324.1 1041.8L1324.6 1039.7L1325.1 1040.8L1325.6 1039.3L1326.1 1039.3L1326.6 1039.7L1327.1 1039.9L1327.6 1039.5L1328.1 1039.0L1328.6 1039.2L1329.1 1037.3L1329.6 1035.8L1330.1 1033.0L1330.6 1031.9L1331.1 1027.3L1331.6 1020.7L1332.1 1014.4L1332.6 1009.2L1333.1 1005.5L1333.6 1004.9L1334.1 1010.1L1334.6 1014.2L1335.1 1020.5L1335.6 1025.5L1336.1 1027.1L1336.6 1029.0L1337.1 1028.6L1337.6 1027.0L1338.1 1023.3L1338.6 1021.9L1339.1 1022.0L1339.6 1024.5L1340.1 1029.0L1340.6 1032.8L1341.1 1034.9L1341.6 1036.8L1342.1 1039.6L1342.6 1039.9L1343.1 1039.9L1343.6 1040.2L1344.1 1041.4L1344.6 1041.7L1345.1 1041.0L1345.6 1041.5L1346.1 1041.3L1346.6 1041.4L1347.1 1043.0L1347.6 1040.7L1348.1 1042.4L1348.6 1041.2L1349.1 1041.4L1349.6 1042.5L1350.1 1040.9L1350.6 1041.3L1351.1 1041.1L1351.6 1041.6L1352.1 1042.3L1352.6 1043.1L1353.1 1041.7L1353.6 1042.9L1354.1 1041.2L1354.6 1043.9L1355.1 1042.1L1355.6 1042.1L1356.1 1042.7L1356.6 1042.7L1357.1 1042.5L1357.6 1041.3L1358.1 1043.1L1358.6 1043.1L1359.1 1042.2L1359.6 1041.7L1360.1 1042.6L1360.6 1043.3L1361.1 1041.2L1361.6 1041.6L1362.1 1042.6L1362.6 1041.9L1363.1 1042.3L1363.6 1042.4L1364.1 1043.0L1364.6 1043.2L1365.1 1043.2L1365.6 1043.1L1366.1 1042.1L1366.6 1040.9L1367.1 1042.9L1367.6 1043.0L1368.1 1043.0L1368.6 1042.3L1369.1 1044.1L1369.6 1041.6L1370.1 1043.3L1370.6 1043.3L1371.1 1043.5L1371.6 1043.8L1372.1 1043.2L1372.6 1042.9L1373.1 1042.4L1373.6 1043.2L1374.1 1042.9L1374.6 1043.2L1375.1 1041.7L1375.6 1041.5L1376.1 1042.6L1376.6 1043.0L1377.1 1041.5L1377.6 1041.9L1378.1 1042.4L1378.6 1042.8L1379.1 1042.9L1379.6 1043.4L1380.1 1042.7L1380.6 1043.1L1381.1 1043.7L1381.6 1042.7L1382.1 1044.5L1382.6 1042.4L1383.1 1043.0L1383.6 1041.5L1384.1 1042.7L1384.6 1042.4L1385.1 1042.3L1385.6 1042.9L1386.1 1041.8L1386.6 1042.9L1387.1 1041.3L1387.6 1042.3L1388.1 1043.7L1388.6 1042.6L1389.1 1043.1L1389.6 1042.1L1390.1 1041.8L1390.6 1043.7L1391.1 1043.5L1391.6 1043.4L1392.1 1042.6L1392.6 1043.4L1393.1 1042.3L1393.6 1043.2L1394.1 1043.3L1394.6 1041.8L1395.1 1043.5L1395.6 1042.5L1396.1 1043.1L1396.6 1041.4L1397.1 1041.6L1397.6 1042.3L1398.1 1043.0L1398.6 1043.4L1399.1 1042.9L1399.6 1042.5L1400.1 1043.1L1400.6 1042.6L1401.1 1043.0L1401.6 1043.1L1402.1 1042.4L1402.6 1043.3L1403.1 1041.9L1403.6 1042.6L1404.1 1043.7L1404.6 1042.5L1405.1 1043.4L1405.6 1043.3L1406.1 1042.9L1406.6 1044.2L1407.1 1043.4L1407.6 1042.6L1408.1 1042.7L1408.6 1043.2L1409.1 1041.8L1409.6 1043.9L1410.1 1043.1L1410.6 1041.8L1411.1 1042.3L1411.6 1044.2L1412.1 1043.2L1412.6 1044.7L1413.1 1043.1L1413.6 1043.5L1414.1 1044.6L1414.6 1044.6L1415.1 1042.2L1415.6 1043.6L1416.1 1042.2L1416.6 1042.4L1417.1 1041.3L1417.6 1043.1L1418.1 1041.9L1418.6 1042.2L1419.1 1044.1L1419.6 1043.4L1420.1 1042.7L1420.6 1041.6L1421.1 1043.3L1421.6 1041.2L1422.1 1042.3L1422.6 1043.4L1423.1 1043.5L1423.6 1043.2L1424.1 1043.6L1424.6 1043.0L1425.1 1042.2L1425.6 1042.8L1426.1 1043.9L1426.6 1042.6L1427.1 1043.0L1427.6 1043.2L1428.1 1041.9L1428.6 1042.2L1429.1 1041.7L1429.6 1043.0L1430.1 1042.6L1430.6 1041.9L1431.1 1041.8L1431.6 1043.3L1432.1 1043.4L1432.6 1043.1L1433.1 1042.8L1433.6 1043.2L1434.1 1042.7L1434.6 1042.9L1435.1 1042.4L1435.6 1041.8L1436.1 1041.9L1436.6 1042.8L1437.1 1043.7L1437.6 1041.9L1438.1 1041.7L1438.6 1043.0L1439.1 1043.0L1439.6 1042.1L1440.1 1042.2L1440.6 1042.0L1441.1 1042.9L1441.6 1044.4L1442.1 1042.0L1442.6 1042.8L1443.1 1042.1L1443.6 1042.7L1444.1 1042.9L1444.6 1042.8L1445.1 1041.6L1445.6 1041.7L1446.1 1043.3L1446.6 1042.6L1447.1 1042.5L1447.6 1042.8L1448.1 1041.8L1448.6 1043.1L1449.1 1041.4L1449.6 1041.0L1450.1 1040.9L1450.6 1041.5L1451.1 1043.3L1451.6 1041.5L1452.1 1041.5L1452.6 1042.3L1453.1 1040.6L1453.6 1039.5L1454.1 1040.0L1454.6 1039.9L1455.1 1038.9L1455.6 1039.8L1456.1 1040.1L1456.6 1041.6L1457.1 1040.9L1457.6 1040.6L1458.1 1040.3L1458.6 1040.5L1459.1 1039.9L1459.6 1041.4L1460.1 1040.0L1460.6 1041.6L1461.1 1043.0L1461.6 1041.5L1462.1 1042.2L1462.6 1041.1L1463.1 1040.6L1463.6 1042.4L1464.1 1042.1L1464.6 1042.6L1465.1 1042.4L1465.6 1042.9L1466.1 1042.1L1466.6 1042.9L1467.1 1043.2L1467.6 1042.1L1468.1 1042.2L1468.6 1043.0L1469.1 1042.5L1469.6 1042.1L1470.1 1041.2L1470.6 1042.0L1471.1 1043.2L1471.6 1041.7L1472.1 1042.1L1472.6 1041.5L1473.1 1042.1L1473.6 1042.3L1474.1 1042.5L1474.6 1041.7L1475.1 1041.3L1475.6 1043.7L1476.1 1042.3L1476.6 1041.5L1477.1 1041.9L1477.6 1042.3L1478.1 1042.9L1478.6 1042.2L1479.1 1041.8L1479.6 1042.5L1480.1 1041.1L1480.6 1041.4L1481.1 1043.0L1481.6 1042.3L1482.1 1042.3L1482.6 1042.0L1483.1 1041.6L1483.6 1042.7L1484.1 1042.6L1484.6 1044.0L1485.1 1041.9L1485.6 1042.6L1486.1 1042.3L1486.6 1041.8L1487.1 1043.8L1487.6 1043.4L1488.1 1042.4L1488.6 1041.1L1489.1 1042.4L1489.6 1042.4L1490.1 1041.6L1490.6 1040.9L1491.1 1043.3L1491.6 1041.0L1492.1 1042.9L1492.6 1041.5L1493.1 1041.7L1493.6 1043.0L1494.1 1041.4L1494.6 1041.9L1495.1 1042.2L1495.6 1043.1L1496.1 1043.0L1496.6 1042.4L1497.1 1041.4L1497.6 1043.0L1498.1 1041.7L1498.6 1042.2L1499.1 1040.3L1499.6 1041.6L1500.1 1042.0L1500.6 1041.1L1501.1 1041.4L1501.6 1041.8L1502.1 1041.8L1502.6 1039.8L1503.1 1038.8L1503.6 1037.8L1504.1 1038.3L1504.6 1036.1L1505.1 1035.8L1505.6 1031.5L1506.1 1031.0L1506.6 1026.4L1507.1 1020.9L1507.6 1018.2L1508.1 1016.4L1508.6 1017.0L1509.1 1019.4L1509.6 1023.6L1510.1 1026.9L1510.6 1028.8L1511.1 1030.8L1511.6 1030.3L1512.1 1031.6L1512.6 1029.4L1513.1 1029.8L1513.6 1029.2L1514.1 1032.2L1514.6 1033.3L1515.1 1034.1L1515.6 1036.6L1516.1 1037.5L1516.6 1039.1L1517.1 1039.4L1517.6 1039.8L1518.1 1040.1L1518.6 1039.4L1519.1 1041.2L1519.6 1041.7L1520.1 1040.6L1520.6 1041.8L1521.1 1042.4L1521.6 1042.4L1522.1 1042.7L1522.6 1042.5L1523.1 1041.7L1523.6 1043.7L1524.1 1042.3L1524.6 1041.9L1525.1 1043.4L1525.6 1041.9L1526.1 1043.0L1526.6 1041.9L1527.1 1043.3L1527.6 1043.4L1528.1 1042.2L1528.6 1042.9L1529.1 1043.2L1529.6 1042.5L1530.1 1043.1L1530.6 1042.7L1531.1 1042.2L1531.6 1042.2L1532.1 1043.1L1532.6 1043.3L1533.1 1043.5L1533.6 1043.4L1534.1 1043.6L1534.6 1042.7L1535.1 1044.3L1535.6 1042.4L1536.1 1043.5L1536.6 1042.9L1537.1 1042.8L1537.6 1044.5L1538.1 1043.6L1538.6 1042.3L1539.1 1043.5L1539.6 1042.7L1540.1 1044.4L1540.6 1042.4L1541.1 1043.1L1541.6 1042.8L1542.1 1042.8L1542.6 1043.7L1543.1 1044.1L1543.6 1044.0L1544.1 1043.0L1544.6 1042.7L1545.1 1043.5L1545.6 1043.0L1546.1 1044.3L1546.6 1042.0L1547.1 1043.4L1547.6 1042.1L1548.1 1042.3L1548.6 1041.8L1549.1 1042.0L1549.6 1043.6L1550.1 1042.5L1550.6 1042.2L1551.1 1042.0L1551.6 1042.4L1552.1 1042.8L1552.6 1043.8L1553.1 1043.2L1553.6 1043.0L1554.1 1042.8L1554.6 1043.4L1555.1 1042.1L1555.6 1043.1L1556.1 1042.0L1556.6 1042.2L1557.1 1043.3L1557.6 1042.9L1558.1 1042.7L1558.6 1042.1L1559.1 1043.2L1559.6 1044.7L1560.1 1043.5L1560.6 1043.3L1561.1 1042.8L1561.6 1043.8L1562.1 1042.5L1562.6 1044.4L1563.1 1042.9L1563.6 1042.6L1564.1 1043.3L1564.6 1041.6L1565.1 1041.8L1565.6 1041.9L1566.1 1042.4L1566.6 1043.8L1567.1 1041.5L1567.6 1044.0L1568.1 1043.0L1568.6 1043.4L1569.1 1042.5L1569.6 1041.3L1570.1 1041.6L1570.6 1043.6L1571.1 1042.3L1571.6 1042.7L1572.1 1042.7L1572.6 1043.7L1573.1 1043.7L1573.6 1043.1L1574.1 1043.0L1574.6 1043.6L1575.1 1042.1L1575.6 1042.4L1576.1 1041.9L1576.6 1042.2L1577.1 1041.6L1577.6 1043.3L1578.1 1042.4L1578.6 1043.6L1579.1 1041.8L1579.6 1042.0L1580.1 1041.3L1580.6 1042.0L1581.1 1041.4L1581.6 1040.2L1582.1 1040.2L1582.6 1038.9L1583.1 1038.8L1583.6 1037.9L1584.1 1039.1L1584.6 1037.6L1585.1 1037.5L1585.6 1039.3L1586.1 1038.6L1586.6 1038.2L1587.1 1038.8L1587.6 1039.7L1588.1 1039.8L1588.6 1040.8L1589.1 1040.3L1589.6 1040.5L1590.1 1042.3L1590.6 1043.2L1591.1 1042.9L1591.6 1041.9L1592.1 1042.7L1592.6 1042.4L1593.1 1044.1L1593.6 1043.0L1594.1 1043.2L1594.6 1044.3L1595.1 1044.0L1595.6 1043.1L1596.1 1042.1L1596.6 1042.9L1597.1 1042.2L1597.6 1044.3L1598.1 1042.6L1598.6 1043.2L1599.1 1042.9L1599.6 1042.2L1600.1 1043.1L1600.6 1043.0L1601.1 1042.5L1601.6 1042.5L1602.1 1042.7L1602.6 1041.8L1603.1 1042.6L1603.6 1042.5L1604.1 1042.2L1604.6 1042.8L1605.1 1041.2L1605.6 1041.7L1606.1 1042.7L1606.6 1044.2L1607.1 1043.3L1607.6 1042.3L1608.1 1044.0L1608.6 1043.0L1609.1 1042.4L1609.6 1042.8L1610.1 1044.0L1610.6 1043.8L1611.1 1042.5L1611.6 1042.1L1612.1 1043.2L1612.6 1042.1L1613.1 1042.6L1613.6 1043.3L1614.1 1042.1L1614.6 1042.3L1615.1 1043.1L1615.6 1042.8L1616.1 1043.8L1616.6 1042.7L1617.1 1043.4L1617.6 1043.5L1618.1 1042.7L1618.6 1043.8L1619.1 1044.3L1619.6 1043.0L1620.1 1042.7L1620.6 1042.8L1621.1 1043.9L1621.6 1042.9L1622.1 1042.8L1622.6 1042.1L1623.1 1042.9L1623.6 1041.8L1624.1 1043.6L1624.6 1042.2L1625.1 1042.0L1625.6 1043.7L1626.1 1043.3L1626.6 1043.5L1627.1 1042.5L1627.6 1043.7L1628.1 1043.5L1628.6 1043.5L1629.1 1044.1L1629.6 1043.9L1630.1 1043.2L1630.6 1044.4L1631.1 1043.8L1631.6 1043.3L1632.1 1043.6L1632.6 1043.3L1633.1 1044.0L1633.6 1043.0L1634.1 1042.5L1634.6 1042.6L1635.1 1043.3L1635.6 1041.5L1636.1 1041.8L1636.6 1042.5L1637.1 1043.1L1637.6 1043.4L1638.1 1042.7L1638.6 1041.9L1639.1 1041.4L1639.6 1043.0L1640.1 1042.7L1640.6 1043.2L1641.1 1043.7L1641.6 1042.3L1642.1 1044.1L1642.6 1042.8L1643.1 1042.9L1643.6 1043.1L1644.1 1041.6L1644.6 1044.8L1645.1 1042.7L1645.6 1043.7L1646.1 1042.4L1646.6 1041.8L1647.1 1042.1L1647.6 1042.1L1648.1 1041.6L1648.6 1041.3L1649.1 1043.5L1649.6 1042.4L1650.1 1042.9L1650.6 1043.6L1651.1 1042.4L1651.6 1042.7L1652.1 1043.5L1652.6 1043.0L1653.1 1042.9L1653.6 1041.9L1654.1 1042.0L1654.6 1043.2L1655.1 1042.6L1655.6 1043.4L1656.1 1043.4L1656.6 1043.4L1657.1 1043.8L1657.6 1043.4L1658.1 1044.0L1658.6 1041.5L1659.1 1042.5L1659.6 1043.2L1660.1 1044.2L1660.6 1041.7L1661.1 1042.6L1661.6 1043.3L1662.1 1043.8L1662.6 1042.4L1663.1 1041.3L1663.6 1043.3L1664.1 1043.7L1664.6 1043.4L1665.1 1043.5L1665.6 1043.6L1666.1 1042.7L1666.6 1043.6L1667.1 1043.9L1667.6 1043.3L1668.1 1042.6L1668.6 1042.6L1669.1 1043.4L1669.6 1042.5L1670.1 1043.9L1670.6 1043.0L1671.1 1042.6L1671.6 1043.4L1672.1 1042.8L1672.6 1044.2L1673.1 1043.6L1673.6 1042.0L1674.1 1042.3L1674.6 1041.1L1675.1 1043.3L1675.6 1043.0L1676.1 1043.0L1676.6 1042.0L1677.1 1044.2L1677.6 1044.1L1678.1 1042.9L1678.6 1042.8L1679.1 1043.0L1679.6 1043.9L1680.1 1043.6L1680.6 1043.3L1681.1 1043.1L1681.6 1042.3L1682.1 1042.6L1682.6 1041.6L1683.1 1043.7L1683.6 1043.0L1684.1 1043.0L1684.6 1042.6L1685.1 1042.3L1685.6 1041.4L1686.1 1042.3L1686.6 1042.5L1687.1 1042.6L1687.6 1043.6L1688.1 1043.7L1688.6 1042.1L1689.1 1042.3L1689.6 1043.7L1690.1 1041.5L1690.6 1042.6L1691.1 1043.4L1691.6 1042.9L1692.1 1042.4L1692.6 1043.3L1693.1 1042.1L1693.6 1041.9L1694.1 1042.4L1694.6 1041.8L1695.1 1042.2L1695.6 1042.6L1696.1 1042.6L1696.6 1039.8L1697.1 1041.3L1697.6 1041.3L1698.1 1041.2L1698.6 1040.1L1699.1 1039.8L1699.6 1040.3L1700.1 1039.4L1700.6 1038.8L1701.1 1040.6L1701.6 1040.8L1702.1 1039.7L1702.6 1041.8L1703.1 1040.6L1703.6 1041.6L1704.1 1040.7L1704.6 1041.9L1705.1 1041.4L1705.6 1041.8L1706.1 1042.5L1706.6 1042.9L1707.1 1041.9L1707.6 1043.7L1708.1 1041.9L1708.6 1041.4L1709.1 1042.5L1709.6 1044.2L1710.1 1042.5L1710.6 1041.9L1711.1 1042.4L1711.6 1043.3L1712.1 1043.5L1712.6 1043.4L1713.1 1043.8L1713.6 1044.6L1714.1 1043.1L1714.6 1043.4L1715.1 1043.1L1715.6 1043.3L1716.1 1044.0L1716.6 1043.3L1717.1 1042.2L1717.6 1043.6L1718.1 1044.0L1718.6 1043.1L1719.1 1044.4L1719.6 1043.8L1720.1 1041.7L1720.6 1042.5L1721.1 1042.1L1721.6 1042.7L1722.1 1042.5L1722.6 1043.2L1723.1 1043.5L1723.6 1041.7L1724.1 1043.8L1724.6 1043.2L1725.1 1044.0L1725.6 1043.2L1726.1 1041.6L1726.6 1043.2L1727.1 1043.4L1727.6 1043.3L1728.1 1042.9L1728.6 1042.3L1729.1 1042.4L1729.6 1042.4L1730.1 1042.1L1730.6 1043.0L1731.1 1043.3L1731.6 1043.7L1732.1 1043.4L1732.6 1042.9L1733.1 1043.5L1733.6 1042.9L1734.1 1042.1L1734.6 1043.4L1735.1 1042.9L1735.6 1042.9L1736.1 1043.8L1736.6 1043.3L1737.1 1043.3L1737.6 1044.4L1738.1 1043.8L1738.6 1043.6L1739.1 1043.0L1739.6 1041.4L1740.1 1041.3L1740.6 1042.1L1741.1 1044.4L1741.6 1042.6L1742.1 1042.3L1742.6 1042.9L1743.1 1043.2L1743.6 1042.4L1744.1 1042.3L1744.6 1041.9L1745.1 1040.9L1745.6 1040.1L1746.1 1038.3L1746.6 1039.3L1747.1 1038.5L1747.6 1038.1L1748.1 1037.9L1748.6 1035.7L1749.1 1035.9L1749.6 1037.6L1750.1 1036.5L1750.6 1038.6L1751.1 1039.2L1751.6 1040.4L1752.1 1040.0L1752.6 1041.6L1753.1 1040.6L1753.6 1042.5L1754.1 1042.2L1754.6 1042.0L1755.1 1042.5L1755.6 1043.4L1756.1 1041.6L1756.6 1042.5L1757.1 1041.8L1757.6 1043.6L1758.1 1043.3L1758.6 1042.2L1759.1 1042.8L1759.6 1042.1L1760.1 1043.1L1760.6 1043.9L1761.1 1042.9L1761.6 1043.2L1762.1 1041.9L1762.6 1044.5L1763.1 1042.3L1763.6 1043.3L1764.1 1043.0L1764.6 1044.1L1765.1 1043.1L1765.6 1043.0L1766.1 1042.2L1766.6 1044.1L1767.1 1042.0L1767.6 1044.4L1768.1 1044.1L1768.6 1044.5L1769.1 1042.4L1769.6 1042.5L1770.1 1043.0L1770.6 1043.8L1771.1 1042.2L1771.6 1043.9L1772.1 1042.2L1772.6 1043.4L1773.1 1043.2L1773.6 1043.3L1774.1 1043.1L1774.6 1043.8L1775.1 1042.1L1775.6 1044.4L1776.1 1043.1L1776.6 1043.1L1777.1 1042.8L1777.6 1043.9L1778.1 1043.9L1778.6 1043.0L1779.1 1042.7L1779.6 1044.6L1780.1 1043.0L1780.6 1043.4L1781.1 1042.8L1781.6 1043.8L1782.1 1044.1L1782.6 1043.9L1783.1 1044.3L1783.6 1044.2L1784.1 1041.5L1784.6 1042.4L1785.1 1042.1L1785.6 1043.4L1786.1 1043.2L1786.6 1042.0L1787.1 1044.0L1787.6 1042.8L1788.1 1043.8L1788.6 1041.8L1789.1 1042.6L1789.6 1042.5L1790.1 1040.9L1790.6 1041.0L1791.1 1040.4L1791.6 1039.6L1792.1 1039.7L1792.6 1037.6L1793.1 1039.6L1793.6 1039.1L1794.1 1038.3L1794.6 1040.2L1795.1 1038.6L1795.6 1039.5L1796.1 1041.6L1796.6 1041.4L1797.1 1040.9L1797.6 1042.6L1798.1 1041.7L1798.6 1042.0L1799.1 1042.1L1799.6 1043.0L1800.1 1043.0L1800.6 1042.0L1801.1 1042.5L1801.6 1043.4L1802.1 1043.9L1802.6 1043.4L1803.1 1044.0L1803.6 1044.0L1804.1 1042.7L1804.6 1043.5L1805.1 1045.1L1805.6 1043.3L1806.1 1044.2L1806.6 1043.0L1807.1 1045.4L1807.6 1043.1L1808.1 1044.1L1808.6 1044.2L1809.1 1042.6L1809.6 1043.5L1810.1 1044.5L1810.6 1043.3L1811.1 1044.6L1811.6 1043.5L1812.1 1044.6L1812.6 1045.5L1813.1 1043.2L1813.6 1044.0L1814.1 1043.3L1814.6 1043.0L1815.1 1043.8L1815.6 1044.0L1816.1 1044.1L1816.6 1044.1L1817.1 1042.2L1817.6 1043.3L1818.1 1042.1L1818.6 1043.7L1819.1 1044.2L1819.6 1043.6L1820.1 1043.2L1820.6 1043.9L1821.1 1044.1L1821.6 1044.0L1822.1 1043.1L1822.6 1043.2L1823.1 1044.4L1823.6 1043.4L1824.1 1043.6L1824.6 1043.6L1825.1 1044.0L1825.6 1044.0L1826.1 1043.3L1826.6 1043.2L1827.1 1043.2L1827.6 1043.4L1828.1 1043.8L1828.6 1042.4L1829.1 1044.9L1829.6 1042.9L1830.1 1043.6L1830.6 1042.8L1831.1 1043.2L1831.6 1043.5L1832.1 1044.0L1832.6 1043.9L1833.1 1044.4L1833.6 1043.5L1834.1 1044.8L1834.6 1042.3L1835.1 1043.7L1835.6 1043.9L1836.1 1043.3L1836.6 1043.6L1837.1 1043.1L1837.6 1044.0L1838.1 1043.5L1838.6 1044.3L1839.1 1044.1L1839.6 1044.1L1840.1 1044.0L1840.6 1043.2L1841.1 1044.4L1841.6 1044.6L1842.1 1043.7L1842.6 1043.0L1843.1 1043.3L1843.6 1044.6L1844.1 1042.4L1844.6 1043.9L1845.1 1043.6L1845.6 1044.3L1846.1 1042.8L1846.6 1044.1L1847.1 1043.0L1847.6 1044.1L1848.1 1045.1L1848.6 1043.7L1849.1 1045.3L1849.6 1044.0L1850.1 1044.4L1850.6 1045.5L1851.1 1044.5L1851.6 1044.1L1852.1 1042.0L1852.6 1043.1L1853.1 1043.9L1853.6 1043.0L1854.1 1042.8L1854.6 1043.9L1855.1 1042.5L1855.6 1042.7L1856.1 1044.1L1856.6 1045.0L1857.1 1043.0L1857.6 1043.6L1858.1 1043.9L1858.6 1043.2L1859.1 1043.0L1859.6 1043.9L1860.1 1042.6L1860.6 1042.7L1861.1 1044.7L1861.6 1041.9L1862.1 1044.8L1862.6 1044.4L1863.1 1042.9L1863.6 1044.2L1864.1 1043.4L1864.6 1042.4L1865.1 1042.5L1865.6 1042.4L1866.1 1044.0L1866.6 1041.8L1867.1 1041.5L1867.6 1042.0L1868.1 1041.3L1868.6 1043.1L1869.1 1040.7L1869.6 1040.2L1870.1 1039.9L1870.6 1039.5L1871.1 1038.3L1871.6 1039.6L1872.1 1038.6L1872.6 1038.8L1873.1 1040.0L1873.6 1040.3L1874.1 1040.4L1874.6 1039.5L1875.1 1040.5L1875.6 1040.4L1876.1 1040.9L1876.6 1041.3L1877.1 1041.2L1877.6 1042.6L1878.1 1041.7L1878.6 1043.5L1879.1 1042.9L1879.6 1042.7L1880.1 1043.2L1880.6 1042.8L1881.1 1043.1L1881.6 1044.3L1882.1 1043.3L1882.6 1045.1L1883.1 1042.8L1883.6 1042.5L1884.1 1044.5L1884.6 1043.3L1885.1 1043.1L1885.6 1042.8L1886.1 1043.4L1886.6 1042.8L1887.1 1043.8L1887.6 1042.7L1888.1 1043.2L1888.6 1043.6L1889.1 1043.4L1889.6 1042.9L1890.1 1042.5L1890.6 1042.1L1891.1 1042.1L1891.6 1043.7L1892.1 1042.7L1892.6 1042.7L1893.1 1043.4L1893.6 1043.6L1894.1 1044.1L1894.6 1043.6L1895.1 1043.0L1895.6 1042.3L1896.1 1043.5L1896.6 1043.1L1897.1 1043.2L1897.6 1042.7L1898.1 1043.7L1898.6 1044.1" fill="none" stroke="#00ff00" stroke-width="4.8" stroke-linejoin="round" stroke-linecap="butt" shape-rendering="crispEdges"/>
<polygon points="330.2,914.2 343.5,932.2 330.2,950.2 316.9,932.2" fill="#00ff00"/>
<circle cx="394.5" cy="979.1" r="13.1" fill="#00ff00"/>
<rect x="445.1" y="936.2" width="25.7" height="25.7" fill="none" stroke="#00ff00" stroke-width="2.3"/>
<circle cx="512.5" cy="1004.8" r="13.1" fill="#00ff00"/>
<rect x="642.6" y="743.1" width="25.7" height="25.7" fill="none" stroke="#00ff00" stroke-width="2.3"/>
<rect x="697.1" y="859.1" width="25.7" height="25.7" fill="none" stroke="#00ff00" stroke-width="2.3"/>
<circle cx="734.2" cy="1004.8" r="13.1" fill="#00ff00"/>
<rect x="778.9" y="993.0" width="25.7" height="25.7" fill="none" stroke="#00ff00" stroke-width="2.3"/>
<circle cx="825.4" cy="979.1" r="13.1" fill="#00ff00"/>
<rect x="1000.9" y="946.9" width="25.7" height="25.7" fill="none" stroke="#00ff00" stroke-width="2.3"/>
<circle cx="1092.7" cy="1016.6" r="13.1" fill="#00ff00"/>
<rect x="1101.2" y="919.9" width="25.7" height="25.7" fill="none" stroke="#00ff00" stroke-width="2.3"/>
<rect x="1179.0" y="984.0" width="25.7" height="25.7" fill="none" stroke="#00ff00" stroke-width="2.3"/>
<rect x="1283.2" y="967.0" width="25.7" height="25.7" fill="none" stroke="#00ff00" stroke-width="2.3"/>
<rect x="1319.1" y="972.1" width="25.7" height="25.7" fill="none" stroke="#00ff00" stroke-width="2.3"/>
<rect x="1492.9" y="983.0" width="25.7" height="25.7" fill="none" stroke="#00ff00" stroke-width="2.3"/>
<rect x="1685.1" y="1003.9" width="25.7" height="25.7" fill="none" stroke="#00ff00" stroke-width="2.3"/>
<rect x="1779.0" y="1002.9" width="25.7" height="25.7" fill="none" stroke="#00ff00" stroke-width="2.3"/>
<rect x="1855.9" y="1002.9" width="25.7" height="25.7" fill="none" stroke="#00ff00" stroke-width="2.3"/>
<text x="108.3" y="1011.5" font-size="48.9" font-weight="bold" fill="#00ff00">Sample C</text>
<path d="M145.6 1374.9L146.1 1375.4L146.6 1373.1L147.1 1375.7L147.6 1374.5L148.1 1372.5L148.6 1373.4L149.1 1374.9L149.6 1374.8L150.1 1373.2L150.6 1375.4L151.1 1375.1L151.6 1376.2L152.1 1376.3L152.6 1373.9L153.1 1375.8L153.6 1374.9L154.1 1378.2L154.6 1376.6L155.1 1375.2L155.6 1373.8L156.1 1375.4L156.6 1374.8L157.1 1372.7L157.6 1376.9L158.1 1374.4L158.6 1376.1L159.1 1372.3L159.6 1375.6L160.1 1371.7L160.6 1372.6L161.1 1373.6L161.6 1372.6L162.1 1370.0L162.6 1372.0L163.1 1374.9L163.6 1376.5L164.1 1374.7L164.6 1372.9L165.1 1374.4L165.6 1371.8L166.1 1374.2L166.6 1372.1L167.1 1373.9L167.6 1373.3L168.1 1374.2L168.6 1372.7L169.1 1375.1L169.6 1372.9L170.1 1374.1L170.6 1374.0L171.1 1370.1L171.6 1372.4L172.1 1372.3L172.6 1371.2L173.1 1372.1L173.6 1369.8L174.1 1372.4L174.6 1371.9L175.1 1371.5L175.6 1374.1L176.1 1371.8L176.6 1371.1L177.1 1370.3L177.6 1371.4L178.1 1369.8L178.6 1373.0L179.1 1369.8L179.6 1370.8L180.1 1373.4L180.6 1372.3L181.1 1371.4L181.6 1373.1L182.1 1371.8L182.6 1372.9L183.1 1372.2L183.6 1370.9L184.1 1373.3L184.6 1374.0L185.1 1372.3L185.6 1371.7L186.1 1372.7L186.6 1370.4L187.1 1372.5L187.6 1371.6L188.1 1375.4L188.6 1371.9L189.1 1370.7L189.6 1373.5L190.1 1372.8L190.6 1373.1L191.1 1373.1L191.6 1373.0L192.1 1372.1L192.6 1373.8L193.1 1373.3L193.6 1372.4L194.1 1373.0L194.6 1371.9L195.1 1373.8L195.6 1373.9L196.1 1373.7L196.6 1373.8L197.1 1372.8L197.6 1375.1L198.1 1372.9L198.6 1373.7L199.1 1373.0L199.6 1373.9L200.1 1373.9L200.6 1377.0L201.1 1375.6L201.6 1373.3L202.1 1375.1L202.6 1374.5L203.1 1378.6L203.6 1380.1L204.1 1378.0L204.6 1380.7L205.1 1379.9L205.6 1381.7L206.1 1384.1L206.6 1381.4L207.1 1380.5L207.6 1383.2L208.1 1383.0L208.6 1382.9L209.1 1383.0L209.6 1380.5L210.1 1378.7L210.6 1382.8L211.1 1380.2L211.6 1379.1L212.1 1379.0L212.6 1381.5L213.1 1380.4L213.6 1380.4L214.1 1381.5L214.6 1379.8L215.1 1379.5L215.6 1379.5L216.1 1379.2L216.6 1380.2L217.1 1379.5L217.6 1380.8L218.1 1380.6L218.6 1380.9L219.1 1382.0L219.6 1382.8L220.1 1383.3L220.6 1380.9L221.1 1380.9L221.6 1380.3L222.1 1383.1L222.6 1383.8L223.1 1380.9L223.6 1382.5L224.1 1381.4L224.6 1381.7L225.1 1382.3L225.6 1381.5L226.1 1383.6L226.6 1381.0L227.1 1381.8L227.6 1382.2L228.1 1380.6L228.6 1382.9L229.1 1380.4L229.6 1382.6L230.1 1380.8L230.6 1382.1L231.1 1382.5L231.6 1384.6L232.1 1382.0L232.6 1382.6L233.1 1380.7L233.6 1384.0L234.1 1380.9L234.6 1381.0L235.1 1378.9L235.6 1380.4L236.1 1382.1L236.6 1379.9L237.1 1380.0L237.6 1380.5L238.1 1381.2L238.6 1380.8L239.1 1379.7L239.6 1382.8L240.1 1378.4L240.6 1380.6L241.1 1383.0L241.6 1384.0L242.1 1383.0L242.6 1383.2L243.1 1383.7L243.6 1383.0L244.1 1384.7L244.6 1382.7L245.1 1382.3L245.6 1383.2L246.1 1383.9L246.6 1385.5L247.1 1385.8L247.6 1382.5L248.1 1381.7L248.6 1381.9L249.1 1386.9L249.6 1383.2L250.1 1384.5L250.6 1386.6L251.1 1382.8L251.6 1383.5L252.1 1382.6L252.6 1381.9L253.1 1384.1L253.6 1384.1L254.1 1379.8L254.6 1383.4L255.1 1381.8L255.6 1382.4L256.1 1382.4L256.6 1380.0L257.1 1381.2L257.6 1380.9L258.1 1385.0L258.6 1385.9L259.1 1383.5L259.6 1381.7L260.1 1385.4L260.6 1383.3L261.1 1386.0L261.6 1386.2L262.1 1385.6L262.6 1382.4L263.1 1381.2L263.6 1381.4L264.1 1381.6L264.6 1379.9L265.1 1382.9L265.6 1381.5L266.1 1380.8L266.6 1380.7L267.1 1382.4L267.6 1383.7L268.1 1379.3L268.6 1382.2L269.1 1381.4L269.6 1381.2L270.1 1381.8L270.6 1383.0L271.1 1385.5L271.6 1383.2L272.1 1381.7L272.6 1380.5L273.1 1383.3L273.6 1381.2L274.1 1382.2L274.6 1383.9L275.1 1382.8L275.6 1382.6L276.1 1382.3L276.6 1383.6L277.1 1382.1L277.6 1382.8L278.1 1383.1L278.6 1381.9L279.1 1383.3L279.6 1382.5L280.1 1384.0L280.6 1383.3L281.1 1380.5L281.6 1382.4L282.1 1384.4L282.6 1382.6L283.1 1382.0L283.6 1383.9L284.1 1380.9L284.6 1382.1L285.1 1382.5L285.6 1383.1L286.1 1380.2L286.6 1379.2L287.1 1383.6L287.6 1380.4L288.1 1381.7L288.6 1385.1L289.1 1381.4L289.6 1379.1L290.1 1385.4L290.6 1384.1L291.1 1382.8L291.6 1385.6L292.1 1382.6L292.6 1384.3L293.1 1382.3L293.6 1381.5L294.1 1382.9L294.6 1383.5L295.1 1384.3L295.6 1383.8L296.1 1381.2L296.6 1382.5L297.1 1385.0L297.6 1383.2L298.1 1383.0L298.6 1384.7L299.1 1385.0L299.6 1384.4L300.1 1381.9L300.6 1381.9L301.1 1383.5L301.6 1384.1L302.1 1380.5L302.6 1381.3L303.1 1381.4L303.6 1383.0L304.1 1380.4L304.6 1384.5L305.1 1381.9L305.6 1382.3L306.1 1384.6L306.6 1382.6L307.1 1382.7L307.6 1381.7L308.1 1383.0L308.6 1380.9L309.1 1381.7L309.6 1381.8L310.1 1380.6L310.6 1382.9L311.1 1381.7L311.6 1378.6L312.1 1381.0L312.6 1378.2L313.1 1379.7L313.6 1377.0L314.1 1376.6L314.6 1376.1L315.1 1375.5L315.6 1368.0L316.1 1366.4L316.6 1362.4L317.1 1359.3L317.6 1353.3L318.1 1350.3L318.6 1349.2L319.1 1349.2L319.6 1350.1L320.1 1354.2L320.6 1359.3L321.1 1364.5L321.6 1367.1L322.1 1371.1L322.6 1374.3L323.1 1374.6L323.6 1376.2L324.1 1377.9L324.6 1379.4L325.1 1377.3L325.6 1378.2L326.1 1382.0L326.6 1379.9L327.1 1378.4L327.6 1380.5L328.1 1383.0L328.6 1380.1L329.1 1379.7L329.6 1381.1L330.1 1383.6L330.6 1381.1L331.1 1382.7L331.6 1382.4L332.1 1382.4L332.6 1380.6L333.1 1381.9L333.6 1380.9L334.1 1382.0L334.6 1381.5L335.1 1381.1L335.6 1378.4L336.1 1380.8L336.6 1379.8L337.1 1377.5L337.6 1380.2L338.1 1380.9L338.6 1380.4L339.1 1377.6L339.6 1379.5L340.1 1379.2L340.6 1379.9L341.1 1377.3L341.6 1381.1L342.1 1381.5L342.6 1381.1L343.1 1380.1L343.6 1379.5L344.1 1380.5L344.6 1379.3L345.1 1377.3L345.6 1377.5L346.1 1377.7L346.6 1378.0L347.1 1376.8L347.6 1375.2L348.1 1376.3L348.6 1377.4L349.1 1378.2L349.6 1379.9L350.1 1376.4L350.6 1378.6L351.1 1378.6L351.6 1381.7L352.1 1381.3L352.6 1380.6L353.1 1381.4L353.6 1379.5L354.1 1381.3L354.6 1380.7L355.1 1380.8L355.6 1380.3L356.1 1381.9L356.6 1381.9L357.1 1378.8L357.6 1379.5L358.1 1380.1L358.6 1380.6L359.1 1377.3L359.6 1377.4L360.1 1377.6L360.6 1379.2L361.1 1375.6L361.6 1375.4L362.1 1375.3L362.6 1375.1L363.1 1375.6L363.6 1375.3L364.1 1374.6L364.6 1375.1L365.1 1375.5L365.6 1375.8L366.1 1376.7L366.6 1374.5L367.1 1376.8L367.6 1376.8L368.1 1377.5L368.6 1377.6L369.1 1378.2L369.6 1375.8L370.1 1376.5L370.6 1376.6L371.1 1375.0L371.6 1375.6L372.1 1375.0L372.6 1374.2L373.1 1377.3L373.6 1373.2L374.1 1374.8L374.6 1371.4L375.1 1371.6L375.6 1370.1L376.1 1370.7L376.6 1372.4L377.1 1371.9L377.6 1369.8L378.1 1368.8L378.6 1367.2L379.1 1366.9L379.6 1367.0L380.1 1362.1L380.6 1362.6L381.1 1360.4L381.6 1361.7L382.1 1357.0L382.6 1357.9L383.1 1353.3L383.6 1350.9L384.1 1351.8L384.6 1348.0L385.1 1341.8L385.6 1336.1L386.1 1331.9L386.6 1328.1L387.1 1320.2L387.6 1310.6L388.1 1303.2L388.6 1293.4L389.1 1277.1L389.6 1264.7L390.1 1247.7L390.6 1232.4L391.1 1211.7L391.6 1190.5L392.1 1168.4L392.6 1153.1L393.1 1136.2L393.6 1125.9L394.1 1122.0L394.6 1126.6L395.1 1134.0L395.6 1151.4L396.1 1172.7L396.6 1195.1L397.1 1213.5L397.6 1232.3L398.1 1249.2L398.6 1265.6L399.1 1280.4L399.6 1291.6L400.1 1303.8L400.6 1312.7L401.1 1323.1L401.6 1326.5L402.1 1334.0L402.6 1337.3L403.1 1343.6L403.6 1348.8L404.1 1348.4L404.6 1350.7L405.1 1356.5L405.6 1357.5L406.1 1359.7L406.6 1362.3L407.1 1363.6L407.6 1366.8L408.1 1366.8L408.6 1366.5L409.1 1367.1L409.6 1366.9L410.1 1369.0L410.6 1372.5L411.1 1369.9L411.6 1372.0L412.1 1374.8L412.6 1374.2L413.1 1375.6L413.6 1375.3L414.1 1377.4L414.6 1374.8L415.1 1375.0L415.6 1378.8L416.1 1377.2L416.6 1377.6L417.1 1377.6L417.6 1380.3L418.1 1379.3L418.6 1380.1L419.1 1378.8L419.6 1379.6L420.1 1379.0L420.6 1379.7L421.1 1380.4L421.6 1378.9L422.1 1378.2L422.6 1380.0L423.1 1377.9L423.6 1381.4L424.1 1381.6L424.6 1377.7L425.1 1382.2L425.6 1379.2L426.1 1381.9L426.6 1379.3L427.1 1381.1L427.6 1378.9L428.1 1381.3L428.6 1380.5L429.1 1382.3L429.6 1381.0L430.1 1378.7L430.6 1380.0L431.1 1379.1L431.6 1380.2L432.1 1382.2L432.6 1382.8L433.1 1380.9L433.6 1379.3L434.1 1380.8L434.6 1384.0L435.1 1381.4L435.6 1379.5L436.1 1379.4L436.6 1379.6L437.1 1382.5L437.6 1381.0L438.1 1380.3L438.6 1381.9L439.1 1383.1L439.6 1381.6L440.1 1380.5L440.6 1381.7L441.1 1382.9L441.6 1379.8L442.1 1380.0L442.6 1384.7L443.1 1382.6L443.6 1382.3L444.1 1379.8L444.6 1380.5L445.1 1381.4L445.6 1383.5L446.1 1381.9L446.6 1379.5L447.1 1383.6L447.6 1383.5L448.1 1382.8L448.6 1379.9L449.1 1380.5L449.6 1380.9L450.1 1380.9L450.6 1382.9L451.1 1378.4L451.6 1378.7L452.1 1379.5L452.6 1378.1L453.1 1377.3L453.6 1375.0L454.1 1375.9L454.6 1374.6L455.1 1374.0L455.6 1374.3L456.1 1371.7L456.6 1371.2L457.1 1371.6L457.6 1370.7L458.1 1372.7L458.6 1371.6L459.1 1373.9L459.6 1376.9L460.1 1377.6L460.6 1379.3L461.1 1376.9L461.6 1378.7L462.1 1379.7L462.6 1380.3L463.1 1381.3L463.6 1384.2L464.1 1381.4L464.6 1381.5L465.1 1382.8L465.6 1383.0L466.1 1382.7L466.6 1385.2L467.1 1383.6L467.6 1382.4L468.1 1381.3L468.6 1383.8L469.1 1380.9L469.6 1383.0L470.1 1382.4L470.6 1386.2L471.1 1384.1L471.6 1380.5L472.1 1383.0L472.6 1380.9L473.1 1382.9L473.6 1385.0L474.1 1382.4L474.6 1385.2L475.1 1384.2L475.6 1385.0L476.1 1382.6L476.6 1384.8L477.1 1383.7L477.6 1385.5L478.1 1384.0L478.6 1384.2L479.1 1384.9L479.6 1384.6L480.1 1382.8L480.6 1383.7L481.1 1382.8L481.6 1383.8L482.1 1385.3L482.6 1382.4L483.1 1382.4L483.6 1384.8L484.1 1383.6L484.6 1386.1L485.1 1385.4L485.6 1384.7L486.1 1384.1L486.6 1383.4L487.1 1383.1L487.6 1383.9L488.1 1384.5L488.6 1382.9L489.1 1385.3L489.6 1385.2L490.1 1382.7L490.6 1381.0L491.1 1385.5L491.6 1382.1L492.1 1381.0L492.6 1381.2L493.1 1383.5L493.6 1384.6L494.1 1383.6L494.6 1384.0L495.1 1383.7L495.6 1383.8L496.1 1380.1L496.6 1381.0L497.1 1380.6L497.6 1380.9L498.1 1380.0L498.6 1380.5L499.1 1382.4L499.6 1379.2L500.1 1380.7L500.6 1378.0L501.1 1376.2L501.6 1378.3L502.1 1375.7L502.6 1373.9L503.1 1373.4L503.6 1366.9L504.1 1365.3L504.6 1363.3L505.1 1356.7L505.6 1355.9L506.1 1356.1L506.6 1357.4L507.1 1359.4L507.6 1362.7L508.1 1364.9L508.6 1367.6L509.1 1368.8L509.6 1367.6L510.1 1368.5L510.6 1366.7L511.1 1366.1L511.6 1361.6L512.1 1357.4L512.6 1354.0L513.1 1354.9L513.6 1356.3L514.1 1361.8L514.6 1364.8L515.1 1369.5L515.6 1371.9L516.1 1378.1L516.6 1377.5L517.1 1376.4L517.6 1378.8L518.1 1380.7L518.6 1380.1L519.1 1382.1L519.6 1382.5L520.1 1384.1L520.6 1379.7L521.1 1383.8L521.6 1383.6L522.1 1385.0L522.6 1382.7L523.1 1382.3L523.6 1382.0L524.1 1384.7L524.6 1384.4L525.1 1381.8L525.6 1382.9L526.1 1383.7L526.6 1382.3L527.1 1383.1L527.6 1383.5L528.1 1383.3L528.6 1381.7L529.1 1385.3L529.6 1383.6L530.1 1383.7L530.6 1382.5L531.1 1383.6L531.6 1382.4L532.1 1383.1L532.6 1383.7L533.1 1384.1L533.6 1382.6L534.1 1382.7L534.6 1385.6L535.1 1381.7L535.6 1383.8L536.1 1383.7L536.6 1384.7L537.1 1383.1L537.6 1381.8L538.1 1383.3L538.6 1380.8L539.1 1381.0L539.6 1382.1L540.1 1382.4L540.6 1381.0L541.1 1384.6L541.6 1382.3L542.1 1384.0L542.6 1383.7L543.1 1382.6L543.6 1381.7L544.1 1380.9L544.6 1384.7L545.1 1385.8L545.6 1383.9L546.1 1383.3L546.6 1382.3L547.1 1382.0L547.6 1383.3L548.1 1385.2L548.6 1382.8L549.1 1384.7L549.6 1384.6L550.1 1383.5L550.6 1382.4L551.1 1382.8L551.6 1382.2L552.1 1385.2L552.6 1385.2L553.1 1383.1L553.6 1383.4L554.1 1382.5L554.6 1384.5L555.1 1384.7L555.6 1382.8L556.1 1383.0L556.6 1384.3L557.1 1381.2L557.6 1383.5L558.1 1385.0L558.6 1385.2L559.1 1383.1L559.6 1383.1L560.1 1383.8L560.6 1383.7L561.1 1384.7L561.6 1383.1L562.1 1383.0L562.6 1383.2L563.1 1385.4L563.6 1381.6L564.1 1384.8L564.6 1383.5L565.1 1384.1L565.6 1382.8L566.1 1383.5L566.6 1382.2L567.1 1379.7L567.6 1383.5L568.1 1380.9L568.6 1382.9L569.1 1381.4L569.6 1382.5L570.1 1382.4L570.6 1380.6L571.1 1382.9L571.6 1382.0L572.1 1379.6L572.6 1385.3L573.1 1383.4L573.6 1383.5L574.1 1382.6L574.6 1384.1L575.1 1382.5L575.6 1383.7L576.1 1384.1L576.6 1382.5L577.1 1383.3L577.6 1383.3L578.1 1381.3L578.6 1383.4L579.1 1382.8L579.6 1385.0L580.1 1383.0L580.6 1381.7L581.1 1383.5L581.6 1382.0L582.1 1379.2L582.6 1382.0L583.1 1380.4L583.6 1384.0L584.1 1382.7L584.6 1383.4L585.1 1382.4L585.6 1382.0L586.1 1382.9L586.6 1379.5L587.1 1383.0L587.6 1382.0L588.1 1379.4L588.6 1382.0L589.1 1382.8L589.6 1381.4L590.1 1384.1L590.6 1383.7L591.1 1381.4L591.6 1380.7L592.1 1382.0L592.6 1381.0L593.1 1382.2L593.6 1382.9L594.1 1382.7L594.6 1382.5L595.1 1381.5L595.6 1381.5L596.1 1380.8L596.6 1384.1L597.1 1383.3L597.6 1382.4L598.1 1381.2L598.6 1379.9L599.1 1380.4L599.6 1380.5L600.1 1380.9L600.6 1382.2L601.1 1380.5L601.6 1381.9L602.1 1381.8L602.6 1381.4L603.1 1380.5L603.6 1382.3L604.1 1381.6L604.6 1382.3L605.1 1381.9L605.6 1381.7L606.1 1382.3L606.6 1383.2L607.1 1381.5L607.6 1382.3L608.1 1383.3L608.6 1384.4L609.1 1382.2L609.6 1383.2L610.1 1383.1L610.6 1381.5L611.1 1383.5L611.6 1380.0L612.1 1379.2L612.6 1379.3L613.1 1379.3L613.6 1379.8L614.1 1380.0L614.6 1381.0L615.1 1380.3L615.6 1380.6L616.1 1382.3L616.6 1381.2L617.1 1381.0L617.6 1380.0L618.1 1378.7L618.6 1380.5L619.1 1379.6L619.6 1380.7L620.1 1380.4L620.6 1378.5L621.1 1381.2L621.6 1377.2L622.1 1376.5L622.6 1378.8L623.1 1379.1L623.6 1380.7L624.1 1378.9L624.6 1380.0L625.1 1380.0L625.6 1380.0L626.1 1376.7L626.6 1379.5L627.1 1377.9L627.6 1380.8L628.1 1378.0L628.6 1378.1L629.1 1379.6L629.6 1379.3L630.1 1378.7L630.6 1379.4L631.1 1378.0L631.6 1378.1L632.1 1379.9L632.6 1377.3L633.1 1377.6L633.6 1375.7L634.1 1377.1L634.6 1376.1L635.1 1376.6L635.6 1379.2L636.1 1373.3L636.6 1374.3L637.1 1374.8L637.6 1375.1L638.1 1373.1L638.6 1375.1L639.1 1373.9L639.6 1375.5L640.1 1374.1L640.6 1378.3L641.1 1374.9L641.6 1375.6L642.1 1371.3L642.6 1372.6L643.1 1372.8L643.6 1374.8L644.1 1370.9L644.6 1371.5L645.1 1368.5L645.6 1368.4L646.1 1364.6L646.6 1364.0L647.1 1364.6L647.6 1364.6L648.1 1363.1L648.6 1360.1L649.1 1356.2L649.6 1356.7L650.1 1351.7L650.6 1347.4L651.1 1343.9L651.6 1338.7L652.1 1334.8L652.6 1325.0L653.1 1316.1L653.6 1306.6L654.1 1294.3L654.6 1286.2L655.1 1270.7L655.6 1259.9L656.1 1246.5L656.6 1236.7L657.1 1229.1L657.6 1230.4L658.1 1236.9L658.6 1244.1L659.1 1252.6L659.6 1265.8L660.1 1275.6L660.6 1287.2L661.1 1301.3L661.6 1309.1L662.1 1322.4L662.6 1329.2L663.1 1332.4L663.6 1339.0L664.1 1343.9L664.6 1349.6L665.1 1351.9L665.6 1355.0L666.1 1355.0L666.6 1361.0L667.1 1361.6L667.6 1362.0L668.1 1361.1L668.6 1364.8L669.1 1368.2L669.6 1366.9L670.1 1368.8L670.6 1364.6L671.1 1367.7L671.6 1368.2L672.1 1370.8L672.6 1367.8L673.1 1370.3L673.6 1370.9L674.1 1369.8L674.6 1369.3L675.1 1370.0L675.6 1367.9L676.1 1366.8L676.6 1367.0L677.1 1369.7L677.6 1368.7L678.1 1369.3L678.6 1369.0L679.1 1368.9L679.6 1371.4L680.1 1368.5L680.6 1367.5L681.1 1367.1L681.6 1366.9L682.1 1368.1L682.6 1366.3L683.1 1365.5L683.6 1364.4L684.1 1361.2L684.6 1361.0L685.1 1359.8L685.6 1357.3L686.1 1354.4L686.6 1351.0L687.1 1344.2L687.6 1340.4L688.1 1334.0L688.6 1326.1L689.1 1321.9L689.6 1317.3L690.1 1310.3L690.6 1313.1L691.1 1316.1L691.6 1321.2L692.1 1325.2L692.6 1335.2L693.1 1339.5L693.6 1344.8L694.1 1347.8L694.6 1354.1L695.1 1356.6L695.6 1357.6L696.1 1364.0L696.6 1361.6L697.1 1365.6L697.6 1364.1L698.1 1365.8L698.6 1367.1L699.1 1365.6L699.6 1367.5L700.1 1367.0L700.6 1368.9L701.1 1367.7L701.6 1366.9L702.1 1365.5L702.6 1365.5L703.1 1366.5L703.6 1368.2L704.1 1367.5L704.6 1364.7L705.1 1364.8L705.6 1362.4L706.1 1360.8L706.6 1358.5L707.1 1355.1L707.6 1352.7L708.1 1351.4L708.6 1343.4L709.1 1341.2L709.6 1336.6L710.1 1332.1L710.6 1329.9L711.1 1326.1L711.6 1327.1L712.1 1331.2L712.6 1334.4L713.1 1335.9L713.6 1339.1L714.1 1340.6L714.6 1345.2L715.1 1344.9L715.6 1344.8L716.1 1345.5L716.6 1344.2L717.1 1341.3L717.6 1342.0L718.1 1335.5L718.6 1332.8L719.1 1333.5L719.6 1330.2L720.1 1327.8L720.6 1331.8L721.1 1333.3L721.6 1334.3L722.1 1337.1L722.6 1339.2L723.1 1342.2L723.6 1342.0L724.1 1340.8L724.6 1341.7L725.1 1339.7L725.6 1335.8L726.1 1333.9L726.6 1328.4L727.1 1325.0L727.6 1319.1L728.1 1309.1L728.6 1300.5L729.1 1285.6L729.6 1271.5L730.1 1254.3L730.6 1239.8L731.1 1220.3L731.6 1199.3L732.1 1183.2L732.6 1170.5L733.1 1160.4L733.6 1159.4L734.1 1164.2L734.6 1178.5L735.1 1189.7L735.6 1210.3L736.1 1227.0L736.6 1246.5L737.1 1267.8L737.6 1282.2L738.1 1296.3L738.6 1307.3L739.1 1318.3L739.6 1330.5L740.1 1333.6L740.6 1342.5L741.1 1347.4L741.6 1349.5L742.1 1354.9L742.6 1356.7L743.1 1360.6L743.6 1363.7L744.1 1365.3L744.6 1368.3L745.1 1369.0L745.6 1366.6L746.1 1371.9L746.6 1370.3L747.1 1369.9L747.6 1372.7L748.1 1373.7L748.6 1377.7L749.1 1377.0L749.6 1376.8L750.1 1376.1L750.6 1377.5L751.1 1375.8L751.6 1379.3L752.1 1377.3L752.6 1378.2L753.1 1379.3L753.6 1377.3L754.1 1381.3L754.6 1378.3L755.1 1377.6L755.6 1377.5L756.1 1378.1L756.6 1379.1L757.1 1379.5L757.6 1377.0L758.1 1378.8L758.6 1382.7L759.1 1381.4L759.6 1381.6L760.1 1381.6L760.6 1382.2L761.1 1383.1L761.6 1385.0L762.1 1384.8L762.6 1382.2L763.1 1381.7L763.6 1383.4L764.1 1381.7L764.6 1383.8L765.1 1384.3L765.6 1382.0L766.1 1379.5L766.6 1380.0L767.1 1382.0L767.6 1380.6L768.1 1383.4L768.6 1383.6L769.1 1383.2L769.6 1382.6L770.1 1382.0L770.6 1383.4L771.1 1379.7L771.6 1383.8L772.1 1386.6L772.6 1385.5L773.1 1383.3L773.6 1383.2L774.1 1384.1L774.6 1383.5L775.1 1386.3L775.6 1383.1L776.1 1383.9L776.6 1382.5L777.1 1384.8L777.6 1381.9L778.1 1385.1L778.6 1384.6L779.1 1381.6L779.6 1383.7L780.1 1382.4L780.6 1381.8L781.1 1380.1L781.6 1379.4L782.1 1379.4L782.6 1378.7L783.1 1380.1L783.6 1377.9L784.1 1382.0L784.6 1378.4L785.1 1377.9L785.6 1374.7L786.1 1377.2L786.6 1375.2L787.1 1378.3L787.6 1378.1L788.1 1379.7L788.6 1378.4L789.1 1379.7L789.6 1382.7L790.1 1382.7L790.6 1382.3L791.1 1384.3L791.6 1383.6L792.1 1382.8L792.6 1386.2L793.1 1380.6L793.6 1383.2L794.1 1384.3L794.6 1383.0L795.1 1385.2L795.6 1383.0L796.1 1382.7L796.6 1380.7L797.1 1383.7L797.6 1380.3L798.1 1380.2L798.6 1379.5L799.1 1380.0L799.6 1377.6L800.1 1377.6L800.6 1375.7L801.1 1372.5L801.6 1371.9L802.1 1373.7L802.6 1367.7L803.1 1365.2L803.6 1364.7L804.1 1357.2L804.6 1355.3L805.1 1352.3L805.6 1346.0L806.1 1347.2L806.6 1345.4L807.1 1343.3L807.6 1346.9L808.1 1348.2L808.6 1356.9L809.1 1360.3L809.6 1360.7L810.1 1363.1L810.6 1367.8L811.1 1368.4L811.6 1371.4L812.1 1371.9L812.6 1375.0L813.1 1377.2L813.6 1378.1L814.1 1379.6L814.6 1378.7L815.1 1381.4L815.6 1380.8L816.1 1380.7L816.6 1382.5L817.1 1381.4L817.6 1380.2L818.1 1382.0L818.6 1380.0L819.1 1381.8L819.6 1381.0L820.1 1378.2L820.6 1378.6L821.1 1378.9L821.6 1380.6L822.1 1381.0L822.6 1379.1L823.1 1381.7L823.6 1379.5L824.1 1374.8L824.6 1376.4L825.1 1373.3L825.6 1371.6L826.1 1370.6L826.6 1368.6L827.1 1366.9L827.6 1364.2L828.1 1360.9L828.6 1354.7L829.1 1351.0L829.6 1348.0L830.1 1340.4L830.6 1338.9L831.1 1334.8L831.6 1330.6L832.1 1331.2L832.6 1330.7L833.1 1332.8L833.6 1337.3L834.1 1339.2L834.6 1342.9L835.1 1348.3L835.6 1352.0L836.1 1358.9L836.6 1361.0L837.1 1363.9L837.6 1366.9L838.1 1371.6L838.6 1372.8L839.1 1374.9L839.6 1375.4L840.1 1375.1L840.6 1375.9L841.1 1380.1L841.6 1378.7L842.1 1380.5L842.6 1378.8L843.1 1380.1L843.6 1380.2L844.1 1380.5L844.6 1382.8L845.1 1384.0L845.6 1382.7L846.1 1386.2L846.6 1383.1L847.1 1381.0L847.6 1384.2L848.1 1381.9L848.6 1383.2L849.1 1384.0L849.6 1385.1L850.1 1384.7L850.6 1383.1L851.1 1386.2L851.6 1385.2L852.1 1386.6L852.6 1387.3L853.1 1385.2L853.6 1384.1L854.1 1386.5L854.6 1386.3L855.1 1386.4L855.6 1387.0L856.1 1385.1L856.6 1384.7L857.1 1385.3L857.6 1386.6L858.1 1385.6L858.6 1387.3L859.1 1387.5L859.6 1387.2L860.1 1384.8L860.6 1383.7L861.1 1384.0L861.6 1384.0L862.1 1386.8L862.6 1386.8L863.1 1382.9L863.6 1384.6L864.1 1384.6L864.6 1384.2L865.1 1384.9L865.6 1384.7L866.1 1385.3L866.6 1386.2L867.1 1386.5L867.6 1384.7L868.1 1387.0L868.6 1385.6L869.1 1386.6L869.6 1387.0L870.1 1385.8L870.6 1387.6L871.1 1385.8L871.6 1385.4L872.1 1388.9L872.6 1386.7L873.1 1386.5L873.6 1384.0L874.1 1386.5L874.6 1388.5L875.1 1386.0L875.6 1385.8L876.1 1387.1L876.6 1386.6L877.1 1387.2L877.6 1386.2L878.1 1384.7L878.6 1383.4L879.1 1384.7L879.6 1384.4L880.1 1384.0L880.6 1382.9L881.1 1383.0L881.6 1385.8L882.1 1383.9L882.6 1385.2L883.1 1384.8L883.6 1382.5L884.1 1385.9L884.6 1384.5L885.1 1388.2L885.6 1385.7L886.1 1385.0L886.6 1385.9L887.1 1386.5L887.6 1385.9L888.1 1386.5L888.6 1388.6L889.1 1387.9L889.6 1388.9L890.1 1387.6L890.6 1388.4L891.1 1386.6L891.6 1389.8L892.1 1386.7L892.6 1385.3L893.1 1385.4L893.6 1385.7L894.1 1386.7L894.6 1389.2L895.1 1385.3L895.6 1387.6L896.1 1385.3L896.6 1389.1L897.1 1388.3L897.6 1389.8L898.1 1387.1L898.6 1388.9L899.1 1388.9L899.6 1386.6L900.1 1387.2L900.6 1386.0L901.1 1386.5L901.6 1386.3L902.1 1385.4L902.6 1387.4L903.1 1386.4L903.6 1385.4L904.1 1386.8L904.6 1387.4L905.1 1386.7L905.6 1388.5L906.1 1386.9L906.6 1387.2L907.1 1390.4L907.6 1386.4L908.1 1387.4L908.6 1387.3L909.1 1384.9L909.6 1385.8L910.1 1387.1L910.6 1388.3L911.1 1385.2L911.6 1387.0L912.1 1385.9L912.6 1385.9L913.1 1384.9L913.6 1387.1L914.1 1383.2L914.6 1386.4L915.1 1385.5L915.6 1385.2L916.1 1383.3L916.6 1380.6L917.1 1379.5L917.6 1380.8L918.1 1380.3L918.6 1379.4L919.1 1377.7L919.6 1380.9L920.1 1383.9L920.6 1380.9L921.1 1380.8L921.6 1383.1L922.1 1387.1L922.6 1384.0L923.1 1385.0L923.6 1385.9L924.1 1386.1L924.6 1388.1L925.1 1386.8L925.6 1386.1L926.1 1387.6L926.6 1387.5L927.1 1389.6L927.6 1388.8L928.1 1389.6L928.6 1387.1L929.1 1387.8L929.6 1387.7L930.1 1386.8L930.6 1384.5L931.1 1387.2L931.6 1387.1L932.1 1388.4L932.6 1387.6L933.1 1385.0L933.6 1386.3L934.1 1384.7L934.6 1387.3L935.1 1385.5L935.6 1384.1L936.1 1383.2L936.6 1387.3L937.1 1387.2L937.6 1386.0L938.1 1390.7L938.6 1387.7L939.1 1390.7L939.6 1387.3L940.1 1388.5L940.6 1387.6L941.1 1390.8L941.6 1389.1L942.1 1388.3L942.6 1388.1L943.1 1387.8L943.6 1387.8L944.1 1385.0L944.6 1387.2L945.1 1388.3L945.6 1385.3L946.1 1384.0L946.6 1384.1L947.1 1384.7L947.6 1387.2L948.1 1387.0L948.6 1384.4L949.1 1388.0L949.6 1386.1L950.1 1387.5L950.6 1386.1L951.1 1385.3L951.6 1387.0L952.1 1386.0L952.6 1386.7L953.1 1386.4L953.6 1384.7L954.1 1386.3L954.6 1385.0L955.1 1385.6L955.6 1386.5L956.1 1385.8L956.6 1386.6L957.1 1387.4L957.6 1384.1L958.1 1383.8L958.6 1383.0L959.1 1385.6L959.6 1383.5L960.1 1385.3L960.6 1386.2L961.1 1382.4L961.6 1385.3L962.1 1380.8L962.6 1382.5L963.1 1380.8L963.6 1377.3L964.1 1377.4L964.6 1377.5L965.1 1373.3L965.6 1370.9L966.1 1373.3L966.6 1373.1L967.1 1370.5L967.6 1373.4L968.1 1372.4L968.6 1373.8L969.1 1377.9L969.6 1379.5L970.1 1382.1L970.6 1382.1L971.1 1381.4L971.6 1384.1L972.1 1381.9L972.6 1383.1L973.1 1384.2L973.6 1384.4L974.1 1385.2L974.6 1384.4L975.1 1387.5L975.6 1388.1L976.1 1387.6L976.6 1389.0L977.1 1387.2L977.6 1386.8L978.1 1384.0L978.6 1385.8L979.1 1383.2L979.6 1386.8L980.1 1385.9L980.6 1384.6L981.1 1384.3L981.6 1384.2L982.1 1385.2L982.6 1385.0L983.1 1386.1L983.6 1383.9L984.1 1385.6L984.6 1388.2L985.1 1383.3L985.6 1385.4L986.1 1385.1L986.6 1387.4L987.1 1387.7L987.6 1386.3L988.1 1385.7L988.6 1386.2L989.1 1387.7L989.6 1385.6L990.1 1386.3L990.6 1388.1L991.1 1384.9L991.6 1384.9L992.1 1387.9L992.6 1389.6L993.1 1388.9L993.6 1391.2L994.1 1386.7L994.6 1387.7L995.1 1388.5L995.6 1384.7L996.1 1386.9L996.6 1391.2L997.1 1390.0L997.6 1386.8L998.1 1390.7L998.6 1389.5L999.1 1387.8L999.6 1386.7L1000.1 1388.4L1000.6 1389.5L1001.1 1388.2L1001.6 1386.8L1002.1 1388.1L1002.6 1387.4L1003.1 1384.9L1003.6 1384.9L1004.1 1384.4L1004.6 1386.5L1005.1 1384.3L1005.6 1385.1L1006.1 1385.6L1006.6 1382.7L1007.1 1382.4L1007.6 1382.7L1008.1 1383.2L1008.6 1381.5L1009.1 1384.3L1009.6 1382.5L1010.1 1382.2L1010.6 1377.9L1011.1 1377.2L1011.6 1376.1L1012.1 1375.9L1012.6 1377.5L1013.1 1377.8L1013.6 1378.0L1014.1 1378.1L1014.6 1375.2L1015.1 1378.4L1015.6 1381.3L1016.1 1382.5L1016.6 1381.8L1017.1 1383.4L1017.6 1383.6L1018.1 1384.4L1018.6 1385.9L1019.1 1384.4L1019.6 1385.3L1020.1 1386.7L1020.6 1386.7L1021.1 1386.1L1021.6 1387.5L1022.1 1386.0L1022.6 1386.6L1023.1 1388.1L1023.6 1385.3L1024.1 1385.4L1024.6 1387.2L1025.1 1384.0L1025.6 1384.8L1026.1 1381.8L1026.6 1381.4L1027.1 1380.3L1027.6 1380.0L1028.1 1383.5L1028.6 1382.4L1029.1 1382.4L1029.6 1384.4L1030.1 1383.8L1030.6 1384.5L1031.1 1384.0L1031.6 1385.0L1032.1 1381.8L1032.6 1381.0L1033.1 1382.0L1033.6 1382.4L1034.1 1381.1L1034.6 1379.3L1035.1 1380.3L1035.6 1378.9L1036.1 1376.7L1036.6 1375.4L1037.1 1375.3L1037.6 1371.2L1038.1 1368.0L1038.6 1366.1L1039.1 1367.0L1039.6 1363.3L1040.1 1362.7L1040.6 1362.3L1041.1 1362.6L1041.6 1363.2L1042.1 1365.8L1042.6 1369.6L1043.1 1369.8L1043.6 1372.7L1044.1 1374.3L1044.6 1374.5L1045.1 1377.7L1045.6 1380.0L1046.1 1381.0L1046.6 1380.4L1047.1 1384.4L1047.6 1382.5L1048.1 1384.1L1048.6 1384.3L1049.1 1384.2L1049.6 1386.6L1050.1 1387.7L1050.6 1386.2L1051.1 1386.0L1051.6 1385.6L1052.1 1385.2L1052.6 1382.5L1053.1 1385.3L1053.6 1383.2L1054.1 1381.0L1054.6 1383.7L1055.1 1382.6L1055.6 1380.7L1056.1 1383.6L1056.6 1382.0L1057.1 1382.7L1057.6 1380.9L1058.1 1381.2L1058.6 1381.8L1059.1 1382.2L1059.6 1381.3L1060.1 1383.5L1060.6 1381.1L1061.1 1381.9L1061.6 1381.7L1062.1 1382.2L1062.6 1382.1L1063.1 1381.9L1063.6 1383.5L1064.1 1385.0L1064.6 1386.8L1065.1 1384.2L1065.6 1382.5L1066.1 1386.0L1066.6 1383.9L1067.1 1385.9L1067.6 1384.9L1068.1 1384.0L1068.6 1384.5L1069.1 1384.2L1069.6 1386.0L1070.1 1384.3L1070.6 1385.5L1071.1 1384.7L1071.6 1384.4L1072.1 1385.8L1072.6 1385.9L1073.1 1384.0L1073.6 1384.9L1074.1 1385.9L1074.6 1385.6L1075.1 1383.6L1075.6 1385.7L1076.1 1384.7L1076.6 1383.2L1077.1 1384.3L1077.6 1383.6L1078.1 1386.2L1078.6 1385.9L1079.1 1385.5L1079.6 1383.3L1080.1 1382.8L1080.6 1383.1L1081.1 1383.1L1081.6 1381.1L1082.1 1381.4L1082.6 1382.3L1083.1 1378.0L1083.6 1381.2L1084.1 1381.4L1084.6 1378.1L1085.1 1382.8L1085.6 1380.6L1086.1 1378.7L1086.6 1374.8L1087.1 1376.4L1087.6 1375.5L1088.1 1374.3L1088.6 1371.7L1089.1 1368.4L1089.6 1365.7L1090.1 1364.7L1090.6 1360.3L1091.1 1358.5L1091.6 1357.0L1092.1 1349.0L1092.6 1346.7L1093.1 1345.3L1093.6 1337.9L1094.1 1334.8L1094.6 1327.8L1095.1 1324.5L1095.6 1319.3L1096.1 1314.7L1096.6 1307.3L1097.1 1308.1L1097.6 1305.1L1098.1 1304.5L1098.6 1308.3L1099.1 1309.9L1099.6 1312.9L1100.1 1319.3L1100.6 1325.6L1101.1 1329.3L1101.6 1335.7L1102.1 1342.0L1102.6 1344.9L1103.1 1348.9L1103.6 1352.2L1104.1 1356.1L1104.6 1359.7L1105.1 1359.1L1105.6 1365.0L1106.1 1369.1L1106.6 1367.8L1107.1 1368.8L1107.6 1369.1L1108.1 1371.8L1108.6 1371.3L1109.1 1374.6L1109.6 1372.3L1110.1 1372.1L1110.6 1371.8L1111.1 1370.0L1111.6 1366.7L1112.1 1367.9L1112.6 1368.2L1113.1 1362.6L1113.6 1363.2L1114.1 1361.3L1114.6 1359.6L1115.1 1357.0L1115.6 1356.0L1116.1 1353.9L1116.6 1355.4L1117.1 1352.4L1117.6 1353.8L1118.1 1355.8L1118.6 1358.4L1119.1 1363.6L1119.6 1365.0L1120.1 1368.4L1120.6 1367.8L1121.1 1370.9L1121.6 1372.6L1122.1 1375.6L1122.6 1377.0L1123.1 1378.4L1123.6 1378.9L1124.1 1382.2L1124.6 1380.4L1125.1 1382.3L1125.6 1384.1L1126.1 1384.2L1126.6 1381.1L1127.1 1385.5L1127.6 1382.9L1128.1 1384.5L1128.6 1384.0L1129.1 1384.0L1129.6 1384.6L1130.1 1385.6L1130.6 1386.0L1131.1 1383.8L1131.6 1382.6L1132.1 1384.2L1132.6 1383.1L1133.1 1384.1L1133.6 1386.8L1134.1 1386.3L1134.6 1384.5L1135.1 1384.6L1135.6 1384.7L1136.1 1384.9L1136.6 1385.2L1137.1 1386.0L1137.6 1386.9L1138.1 1384.9L1138.6 1382.5L1139.1 1384.9L1139.6 1384.1L1140.1 1383.3L1140.6 1384.8L1141.1 1381.1L1141.6 1381.7L1142.1 1381.7L1142.6 1384.6L1143.1 1380.6L1143.6 1380.9L1144.1 1381.9L1144.6 1381.4L1145.1 1378.4L1145.6 1381.7L1146.1 1380.8L1146.6 1382.5L1147.1 1384.0L1147.6 1383.5L1148.1 1382.4L1148.6 1381.4L1149.1 1384.7L1149.6 1385.7L1150.1 1385.5L1150.6 1383.4L1151.1 1385.2L1151.6 1383.9L1152.1 1386.2L1152.6 1384.5L1153.1 1386.4L1153.6 1385.6L1154.1 1384.2L1154.6 1384.9L1155.1 1387.8L1155.6 1388.2L1156.1 1386.9L1156.6 1385.2L1157.1 1386.2L1157.6 1388.0L1158.1 1386.8L1158.6 1386.0L1159.1 1387.9L1159.6 1386.9L1160.1 1385.4L1160.6 1383.9L1161.1 1388.0L1161.6 1386.7L1162.1 1384.8L1162.6 1386.2L1163.1 1385.8L1163.6 1384.6L1164.1 1386.7L1164.6 1386.7L1165.1 1388.1L1165.6 1386.6L1166.1 1388.2L1166.6 1388.3L1167.1 1388.7L1167.6 1387.2L1168.1 1390.1L1168.6 1387.7L1169.1 1390.8L1169.6 1388.1L1170.1 1387.7L1170.6 1386.1L1171.1 1388.4L1171.6 1389.9L1172.1 1388.1L1172.6 1387.0L1173.1 1387.3L1173.6 1389.1L1174.1 1386.6L1174.6 1387.0L1175.1 1385.9L1175.6 1387.1L1176.1 1386.8L1176.6 1386.9L1177.1 1386.8L1177.6 1386.0L1178.1 1387.3L1178.6 1386.2L1179.1 1383.9L1179.6 1386.9L1180.1 1384.6L1180.6 1386.9L1181.1 1385.6L1181.6 1386.0L1182.1 1384.4L1182.6 1380.7L1183.1 1382.3L1183.6 1379.0L1184.1 1381.8L1184.6 1380.5L1185.1 1376.3L1185.6 1378.8L1186.1 1377.0L1186.6 1373.6L1187.1 1374.3L1187.6 1373.1L1188.1 1373.6L1188.6 1372.5L1189.1 1370.3L1189.6 1374.4L1190.1 1372.6L1190.6 1375.0L1191.1 1374.2L1191.6 1377.6L1192.1 1377.4L1192.6 1377.2L1193.1 1378.5L1193.6 1382.4L1194.1 1383.5L1194.6 1382.3L1195.1 1384.2L1195.6 1386.1L1196.1 1384.4L1196.6 1383.3L1197.1 1386.8L1197.6 1384.7L1198.1 1385.5L1198.6 1383.5L1199.1 1386.4L1199.6 1385.9L1200.1 1384.7L1200.6 1386.3L1201.1 1385.8L1201.6 1385.5L1202.1 1384.1L1202.6 1387.3L1203.1 1386.4L1203.6 1388.2L1204.1 1387.6L1204.6 1385.2L1205.1 1386.8L1205.6 1385.0L1206.1 1386.3L1206.6 1388.2L1207.1 1386.2L1207.6 1386.0L1208.1 1383.9L1208.6 1384.7L1209.1 1384.4L1209.6 1385.0L1210.1 1382.8L1210.6 1382.5L1211.1 1385.6L1211.6 1384.8L1212.1 1382.8L1212.6 1380.6L1213.1 1380.4L1213.6 1380.8L1214.1 1382.7L1214.6 1382.2L1215.1 1381.5L1215.6 1381.2L1216.1 1381.8L1216.6 1379.4L1217.1 1379.9L1217.6 1375.8L1218.1 1374.4L1218.6 1373.4L1219.1 1372.3L1219.6 1367.8L1220.1 1365.9L1220.6 1363.3L1221.1 1359.3L1221.6 1353.3L1222.1 1350.5L1222.6 1345.0L1223.1 1341.9L1223.6 1335.7L1224.1 1337.6L1224.6 1336.5L1225.1 1338.9L1225.6 1340.5L1226.1 1344.7L1226.6 1348.8L1227.1 1351.2L1227.6 1356.2L1228.1 1357.1L1228.6 1364.5L1229.1 1367.4L1229.6 1372.6L1230.1 1374.1L1230.6 1375.4L1231.1 1375.8L1231.6 1380.1L1232.1 1379.9L1232.6 1381.7L1233.1 1382.7L1233.6 1382.6L1234.1 1384.3L1234.6 1386.0L1235.1 1384.2L1235.6 1385.8L1236.1 1386.5L1236.6 1385.3L1237.1 1387.6L1237.6 1387.1L1238.1 1386.8L1238.6 1386.0L1239.1 1385.5L1239.6 1384.8L1240.1 1387.0L1240.6 1385.4L1241.1 1386.2L1241.6 1383.6L1242.1 1384.6L1242.6 1387.5L1243.1 1386.4L1243.6 1385.2L1244.1 1386.6L1244.6 1386.0L1245.1 1386.9L1245.6 1385.2L1246.1 1382.9L1246.6 1385.3L1247.1 1386.6L1247.6 1386.6L1248.1 1388.3L1248.6 1386.6L1249.1 1387.9L1249.6 1385.6L1250.1 1388.6L1250.6 1385.3L1251.1 1388.9L1251.6 1387.9L1252.1 1385.5L1252.6 1388.0L1253.1 1389.7L1253.6 1387.4L1254.1 1388.9L1254.6 1387.1L1255.1 1387.9L1255.6 1388.6L1256.1 1390.3L1256.6 1391.0L1257.1 1385.8L1257.6 1386.0L1258.1 1387.1L1258.6 1387.4L1259.1 1385.9L1259.6 1387.8L1260.1 1384.5L1260.6 1383.7L1261.1 1386.0L1261.6 1382.8L1262.1 1385.5L1262.6 1384.9L1263.1 1382.5L1263.6 1383.9L1264.1 1385.4L1264.6 1385.8L1265.1 1385.2L1265.6 1383.0L1266.1 1383.7L1266.6 1382.5L1267.1 1386.3L1267.6 1382.1L1268.1 1382.9L1268.6 1382.3L1269.1 1378.2L1269.6 1378.9L1270.1 1378.4L1270.6 1377.6L1271.1 1375.0L1271.6 1374.3L1272.1 1370.3L1272.6 1365.2L1273.1 1364.3L1273.6 1359.5L1274.1 1355.7L1274.6 1358.9L1275.1 1354.3L1275.6 1352.3L1276.1 1352.9L1276.6 1354.0L1277.1 1352.2L1277.6 1358.9L1278.1 1360.7L1278.6 1363.7L1279.1 1366.6L1279.6 1368.3L1280.1 1368.8L1280.6 1370.9L1281.1 1376.0L1281.6 1376.1L1282.1 1376.8L1282.6 1377.9L1283.1 1380.5L1283.6 1382.5L1284.1 1382.7L1284.6 1381.8L1285.1 1381.9L1285.6 1385.9L1286.1 1380.3L1286.6 1383.0L1287.1 1383.5L1287.6 1382.6L1288.1 1384.7L1288.6 1386.7L1289.1 1385.3L1289.6 1382.4L1290.1 1383.8L1290.6 1386.1L1291.1 1387.4L1291.6 1387.5L1292.1 1385.1L1292.6 1387.2L1293.1 1385.5L1293.6 1383.4L1294.1 1386.4L1294.6 1385.1L1295.1 1386.8L1295.6 1382.4L1296.1 1383.0L1296.6 1382.3L1297.1 1380.2L1297.6 1378.8L1298.1 1380.4L1298.6 1378.9L1299.1 1380.2L1299.6 1376.9L1300.1 1379.6L1300.6 1375.6L1301.1 1381.0L1301.6 1379.6L1302.1 1381.6L1302.6 1382.9L1303.1 1382.7L1303.6 1380.6L1304.1 1383.6L1304.6 1383.6L1305.1 1383.1L1305.6 1383.7L1306.1 1382.5L1306.6 1383.7L1307.1 1383.8L1307.6 1381.6L1308.1 1382.9L1308.6 1384.7L1309.1 1384.1L1309.6 1383.6L1310.1 1382.0L1310.6 1384.7L1311.1 1382.7L1311.6 1382.5L1312.1 1380.8L1312.6 1383.3L1313.1 1382.5L1313.6 1380.6L1314.1 1383.0L1314.6 1381.6L1315.1 1380.9L1315.6 1382.3L1316.1 1380.3L1316.6 1379.4L1317.1 1383.3L1317.6 1380.9L1318.1 1381.9L1318.6 1381.2L1319.1 1378.3L1319.6 1379.9L1320.1 1380.1L1320.6 1379.4L1321.1 1380.4L1321.6 1381.1L1322.1 1379.1L1322.6 1379.5L1323.1 1379.4L1323.6 1380.0L1324.1 1379.4L1324.6 1380.7L1325.1 1377.5L1325.6 1378.0L1326.1 1377.0L1326.6 1378.2L1327.1 1377.8L1327.6 1376.4L1328.1 1375.4L1328.6 1369.5L1329.1 1368.2L1329.6 1366.5L1330.1 1361.7L1330.6 1359.6L1331.1 1357.4L1331.6 1354.3L1332.1 1352.0L1332.6 1352.8L1333.1 1356.7L1333.6 1357.4L1334.1 1359.8L1334.6 1362.6L1335.1 1367.7L1335.6 1368.0L1336.1 1372.9L1336.6 1377.2L1337.1 1376.6L1337.6 1377.4L1338.1 1377.1L1338.6 1382.2L1339.1 1380.5L1339.6 1383.1L1340.1 1385.8L1340.6 1384.8L1341.1 1385.0L1341.6 1385.9L1342.1 1387.6L1342.6 1385.1L1343.1 1385.8L1343.6 1388.6L1344.1 1388.7L1344.6 1386.1L1345.1 1388.5L1345.6 1387.6L1346.1 1385.1L1346.6 1387.3L1347.1 1386.9L1347.6 1386.8L1348.1 1387.5L1348.6 1389.5L1349.1 1386.9L1349.6 1387.8L1350.1 1389.8L1350.6 1386.9L1351.1 1385.4L1351.6 1386.3L1352.1 1385.7L1352.6 1388.8L1353.1 1389.5L1353.6 1387.5L1354.1 1390.2L1354.6 1387.4L1355.1 1388.8L1355.6 1388.7L1356.1 1387.0L1356.6 1387.9L1357.1 1389.0L1357.6 1386.6L1358.1 1388.2L1358.6 1386.4L1359.1 1386.1L1359.6 1387.9L1360.1 1386.1L1360.6 1388.7L1361.1 1387.2L1361.6 1385.7L1362.1 1384.6L1362.6 1387.4L1363.1 1385.6L1363.6 1383.7L1364.1 1386.0L1364.6 1384.9L1365.1 1386.6L1365.6 1384.3L1366.1 1382.2L1366.6 1381.8L1367.1 1382.6L1367.6 1381.0L1368.1 1377.2L1368.6 1375.1L1369.1 1377.2L1369.6 1373.6L1370.1 1376.2L1370.6 1372.4L1371.1 1373.8L1371.6 1377.5L1372.1 1377.3L1372.6 1380.3L1373.1 1382.1L1373.6 1379.1L1374.1 1381.9L1374.6 1385.1L1375.1 1385.7L1375.6 1384.5L1376.1 1384.2L1376.6 1387.1L1377.1 1388.9L1377.6 1388.9L1378.1 1386.6L1378.6 1387.8L1379.1 1390.1L1379.6 1389.8L1380.1 1389.0L1380.6 1387.9L1381.1 1390.6L1381.6 1389.2L1382.1 1386.9L1382.6 1387.0L1383.1 1386.5L1383.6 1389.3L1384.1 1390.7L1384.6 1390.0L1385.1 1390.2L1385.6 1388.1L1386.1 1389.9L1386.6 1387.4L1387.1 1387.9L1387.6 1389.4L1388.1 1389.5L1388.6 1387.3L1389.1 1389.1L1389.6 1388.5L1390.1 1388.7L1390.6 1388.2L1391.1 1388.9L1391.6 1389.7L1392.1 1391.8L1392.6 1391.7L1393.1 1390.0L1393.6 1390.1L1394.1 1390.0L1394.6 1387.5L1395.1 1389.8L1395.6 1389.0L1396.1 1386.4L1396.6 1387.7L1397.1 1387.1L1397.6 1385.6L1398.1 1384.4L1398.6 1384.0L1399.1 1383.7L1399.6 1387.7L1400.1 1383.1L1400.6 1383.3L1401.1 1383.6L1401.6 1384.3L1402.1 1381.7L1402.6 1380.5L1403.1 1382.9L1403.6 1381.4L1404.1 1382.0L1404.6 1386.5L1405.1 1385.4L1405.6 1387.6L1406.1 1384.7L1406.6 1385.7L1407.1 1387.4L1407.6 1389.0L1408.1 1388.7L1408.6 1388.2L1409.1 1386.6L1409.6 1389.2L1410.1 1385.6L1410.6 1389.3L1411.1 1388.7L1411.6 1388.7L1412.1 1388.7L1412.6 1390.8L1413.1 1390.0L1413.6 1390.1L1414.1 1386.8L1414.6 1388.9L1415.1 1387.0L1415.6 1389.0L1416.1 1388.6L1416.6 1389.2L1417.1 1389.2L1417.6 1388.8L1418.1 1388.4L1418.6 1389.1L1419.1 1386.6L1419.6 1388.4L1420.1 1390.0L1420.6 1386.4L1421.1 1388.7L1421.6 1386.6L1422.1 1387.8L1422.6 1386.0L1423.1 1388.8L1423.6 1386.9L1424.1 1389.1L1424.6 1387.8L1425.1 1387.2L1425.6 1387.4L1426.1 1385.6L1426.6 1385.0L1427.1 1386.4L1427.6 1386.9L1428.1 1385.8L1428.6 1385.0L1429.1 1383.3L1429.6 1385.0L1430.1 1384.0L1430.6 1383.6L1431.1 1384.3L1431.6 1384.4L1432.1 1384.2L1432.6 1384.7L1433.1 1385.1L1433.6 1384.5L1434.1 1383.9L1434.6 1381.3L1435.1 1385.5L1435.6 1382.4L1436.1 1383.9L1436.6 1383.9L1437.1 1386.2L1437.6 1384.7L1438.1 1383.2L1438.6 1383.4L1439.1 1385.0L1439.6 1381.8L1440.1 1385.7L1440.6 1381.3L1441.1 1380.8L1441.6 1380.0L1442.1 1383.8L1442.6 1378.4L1443.1 1379.4L1443.6 1376.7L1444.1 1379.5L1444.6 1376.4L1445.1 1375.8L1445.6 1375.5L1446.1 1376.6L1446.6 1377.6L1447.1 1378.7L1447.6 1378.9L1448.1 1378.0L1448.6 1380.1L1449.1 1378.9L1449.6 1380.0L1450.1 1382.6L1450.6 1383.7L1451.1 1384.3L1451.6 1384.4L1452.1 1384.3L1452.6 1385.7L1453.1 1386.8L1453.6 1386.6L1454.1 1388.5L1454.6 1388.1L1455.1 1388.4L1455.6 1389.4L1456.1 1387.4L1456.6 1387.0L1457.1 1386.5L1457.6 1390.8L1458.1 1389.2L1458.6 1388.9L1459.1 1385.4L1459.6 1387.2L1460.1 1390.9L1460.6 1389.1L1461.1 1387.6L1461.6 1389.7L1462.1 1392.4L1462.6 1389.4L1463.1 1389.7L1463.6 1388.5L1464.1 1388.7L1464.6 1386.9L1465.1 1386.4L1465.6 1388.9L1466.1 1387.0L1466.6 1387.2L1467.1 1387.5L1467.6 1387.4L1468.1 1387.6L1468.6 1387.4L1469.1 1389.9L1469.6 1388.2L1470.1 1389.4L1470.6 1391.7L1471.1 1388.1L1471.6 1391.8L1472.1 1389.5L1472.6 1390.6L1473.1 1389.7L1473.6 1391.2L1474.1 1392.6L1474.6 1390.2L1475.1 1390.8L1475.6 1390.3L1476.1 1392.8L1476.6 1387.0L1477.1 1388.7L1477.6 1389.4L1478.1 1389.4L1478.6 1391.1L1479.1 1390.4L1479.6 1388.1L1480.1 1390.7L1480.6 1388.0L1481.1 1385.9L1481.6 1388.8L1482.1 1387.8L1482.6 1389.2L1483.1 1388.6L1483.6 1388.2L1484.1 1390.0L1484.6 1389.7L1485.1 1389.1L1485.6 1389.4L1486.1 1388.9L1486.6 1387.8L1487.1 1389.1L1487.6 1386.5L1488.1 1387.6L1488.6 1388.9L1489.1 1386.4L1489.6 1387.9L1490.1 1387.8L1490.6 1387.6L1491.1 1386.2L1491.6 1387.3L1492.1 1385.7L1492.6 1381.9L1493.1 1383.4L1493.6 1383.5L1494.1 1381.6L1494.6 1381.4L1495.1 1383.0L1495.6 1380.5L1496.1 1380.1L1496.6 1381.7L1497.1 1376.9L1497.6 1377.4L1498.1 1375.0L1498.6 1374.0L1499.1 1375.8L1499.6 1374.9L1500.1 1371.9L1500.6 1376.1L1501.1 1375.0L1501.6 1375.8L1502.1 1376.3L1502.6 1376.6L1503.1 1377.5L1503.6 1378.3L1504.1 1380.9L1504.6 1383.5L1505.1 1380.7L1505.6 1382.8L1506.1 1383.4L1506.6 1384.4L1507.1 1382.6L1507.6 1384.8L1508.1 1385.8L1508.6 1385.3L1509.1 1387.0L1509.6 1388.4L1510.1 1387.6L1510.6 1387.2L1511.1 1386.4L1511.6 1387.8L1512.1 1387.2L1512.6 1389.7L1513.1 1387.6L1513.6 1387.7L1514.1 1390.2L1514.6 1389.7L1515.1 1391.5L1515.6 1388.2L1516.1 1387.2L1516.6 1389.4L1517.1 1387.1L1517.6 1387.3L1518.1 1387.5L1518.6 1386.5L1519.1 1385.5L1519.6 1388.8L1520.1 1388.2L1520.6 1389.3L1521.1 1388.0L1521.6 1389.9L1522.1 1387.1L1522.6 1390.7L1523.1 1390.8L1523.6 1386.1L1524.1 1392.4L1524.6 1390.9L1525.1 1389.7L1525.6 1389.3L1526.1 1388.7L1526.6 1391.9L1527.1 1391.4L1527.6 1388.5L1528.1 1389.6L1528.6 1389.9L1529.1 1389.7L1529.6 1387.2L1530.1 1388.7L1530.6 1389.2L1531.1 1387.0L1531.6 1388.6L1532.1 1385.5L1532.6 1387.5L1533.1 1388.5L1533.6 1388.5L1534.1 1387.9L1534.6 1387.5L1535.1 1386.9L1535.6 1389.0L1536.1 1387.5L1536.6 1386.6L1537.1 1388.8L1537.6 1385.0L1538.1 1387.1L1538.6 1386.6L1539.1 1385.8L1539.6 1386.7L1540.1 1384.5L1540.6 1389.5L1541.1 1386.3L1541.6 1387.4L1542.1 1387.7L1542.6 1391.1L1543.1 1389.9L1543.6 1390.8L1544.1 1388.5L1544.6 1388.8L1545.1 1392.1L1545.6 1388.9L1546.1 1389.3L1546.6 1389.1L1547.1 1392.7L1547.6 1389.6L1548.1 1390.8L1548.6 1390.3L1549.1 1390.1L1549.6 1388.5L1550.1 1390.6L1550.6 1390.1L1551.1 1392.4L1551.6 1390.5L1552.1 1393.3L1552.6 1392.3L1553.1 1390.7L1553.6 1391.2L1554.1 1391.4L1554.6 1391.6L1555.1 1389.3L1555.6 1390.0L1556.1 1388.2L1556.6 1390.3L1557.1 1388.9L1557.6 1388.7L1558.1 1389.2L1558.6 1386.9L1559.1 1389.2L1559.6 1387.5L1560.1 1387.7L1560.6 1387.8L1561.1 1389.9L1561.6 1392.8L1562.1 1392.1L1562.6 1391.5L1563.1 1388.6L1563.6 1391.0L1564.1 1390.6L1564.6 1390.2L1565.1 1390.9L1565.6 1391.3L1566.1 1391.6L1566.6 1390.3L1567.1 1390.4L1567.6 1388.5L1568.1 1389.5L1568.6 1387.5L1569.1 1389.5L1569.6 1388.6L1570.1 1388.1L1570.6 1387.4L1571.1 1387.7L1571.6 1389.4L1572.1 1389.6L1572.6 1389.6L1573.1 1390.1L1573.6 1387.6L1574.1 1389.5L1574.6 1388.1L1575.1 1388.4L1575.6 1386.2L1576.1 1384.9L1576.6 1386.6L1577.1 1386.0L1577.6 1385.7L1578.1 1386.2L1578.6 1386.7L1579.1 1388.8L1579.6 1388.6L1580.1 1389.1L1580.6 1389.2L1581.1 1389.8L1581.6 1390.8L1582.1 1389.6L1582.6 1392.0L1583.1 1389.5L1583.6 1390.3L1584.1 1387.5L1584.6 1392.9L1585.1 1388.9L1585.6 1390.6L1586.1 1392.1L1586.6 1392.4L1587.1 1391.1L1587.6 1391.1L1588.1 1391.9L1588.6 1390.8L1589.1 1393.6L1589.6 1392.2L1590.1 1389.6L1590.6 1391.9L1591.1 1391.0L1591.6 1392.0L1592.1 1392.6L1592.6 1391.5L1593.1 1390.9L1593.6 1388.8L1594.1 1388.5L1594.6 1389.0L1595.1 1390.4L1595.6 1391.5L1596.1 1388.3L1596.6 1386.3L1597.1 1388.7L1597.6 1388.9L1598.1 1390.3L1598.6 1389.8L1599.1 1392.1L1599.6 1390.1L1600.1 1386.9L1600.6 1388.6L1601.1 1390.0L1601.6 1386.9L1602.1 1388.5L1602.6 1389.6L1603.1 1388.3L1603.6 1389.3L1604.1 1390.9L1604.6 1385.9L1605.1 1387.9L1605.6 1389.9L1606.1 1386.1L1606.6 1385.6L1607.1 1385.6L1607.6 1388.6L1608.1 1385.0L1608.6 1388.6L1609.1 1388.1L1609.6 1388.0L1610.1 1389.7L1610.6 1389.1L1611.1 1391.1L1611.6 1389.3L1612.1 1390.3L1612.6 1389.4L1613.1 1392.3L1613.6 1389.7L1614.1 1390.4L1614.6 1389.5L1615.1 1389.2L1615.6 1390.3L1616.1 1390.3L1616.6 1392.5L1617.1 1390.3L1617.6 1391.0L1618.1 1390.4L1618.6 1388.3L1619.1 1389.2L1619.6 1390.3L1620.1 1390.9L1620.6 1391.2L1621.1 1390.2L1621.6 1391.9L1622.1 1389.4L1622.6 1391.8L1623.1 1388.3L1623.6 1390.9L1624.1 1390.7L1624.6 1391.4L1625.1 1392.9L1625.6 1391.0L1626.1 1393.5L1626.6 1391.2L1627.1 1390.3L1627.6 1391.6L1628.1 1391.5L1628.6 1392.0L1629.1 1392.1L1629.6 1387.4L1630.1 1389.5L1630.6 1389.1L1631.1 1392.4L1631.6 1390.0L1632.1 1389.6L1632.6 1388.7L1633.1 1390.0L1633.6 1390.5L1634.1 1391.1L1634.6 1391.7L1635.1 1393.0L1635.6 1392.1L1636.1 1391.7L1636.6 1391.3L1637.1 1392.2L1637.6 1391.6L1638.1 1390.5L1638.6 1390.0L1639.1 1387.6L1639.6 1390.3L1640.1 1389.6L1640.6 1390.4L1641.1 1390.0L1641.6 1388.9L1642.1 1389.8L1642.6 1389.2L1643.1 1389.5L1643.6 1390.1L1644.1 1393.8L1644.6 1390.6L1645.1 1388.0L1645.6 1389.3L1646.1 1391.4L1646.6 1393.0L1647.1 1389.9L1647.6 1390.6L1648.1 1389.7L1648.6 1391.1L1649.1 1390.0L1649.6 1390.5L1650.1 1389.6L1650.6 1390.8L1651.1 1392.8L1651.6 1392.2L1652.1 1391.1L1652.6 1390.0L1653.1 1390.8L1653.6 1393.5L1654.1 1389.7L1654.6 1394.1L1655.1 1390.8L1655.6 1392.1L1656.1 1389.2L1656.6 1391.8L1657.1 1390.8L1657.6 1390.7L1658.1 1393.5L1658.6 1389.1L1659.1 1390.5L1659.6 1388.3L1660.1 1389.6L1660.6 1390.2L1661.1 1388.1L1661.6 1388.8L1662.1 1387.9L1662.6 1388.6L1663.1 1391.8L1663.6 1387.3L1664.1 1388.3L1664.6 1389.1L1665.1 1386.8L1665.6 1392.0L1666.1 1388.8L1666.6 1391.0L1667.1 1391.9L1667.6 1391.3L1668.1 1391.2L1668.6 1391.1L1669.1 1387.9L1669.6 1391.6L1670.1 1390.7L1670.6 1390.7L1671.1 1391.8L1671.6 1390.7L1672.1 1390.6L1672.6 1393.4L1673.1 1391.9L1673.6 1388.7L1674.1 1389.1L1674.6 1389.3L1675.1 1387.0L1675.6 1390.9L1676.1 1390.2L1676.6 1389.7L1677.1 1390.9L1677.6 1388.7L1678.1 1387.5L1678.6 1389.3L1679.1 1389.3L1679.6 1388.2L1680.1 1387.6L1680.6 1388.0L1681.1 1386.7L1681.6 1387.8L1682.1 1391.1L1682.6 1391.5L1683.1 1386.8L1683.6 1387.0L1684.1 1387.8L1684.6 1386.6L1685.1 1390.8L1685.6 1388.2L1686.1 1388.4L1686.6 1390.2L1687.1 1388.3L1687.6 1388.3L1688.1 1387.6L1688.6 1389.9L1689.1 1391.7L1689.6 1390.9L1690.1 1389.2L1690.6 1388.9L1691.1 1389.8L1691.6 1388.0L1692.1 1391.7L1692.6 1388.5L1693.1 1390.1L1693.6 1390.9L1694.1 1392.2L1694.6 1393.4L1695.1 1392.2L1695.6 1392.1L1696.1 1388.8L1696.6 1391.2L1697.1 1390.2L1697.6 1389.6L1698.1 1390.5L1698.6 1388.4L1699.1 1389.1L1699.6 1389.0L1700.1 1390.9L1700.6 1392.1L1701.1 1392.4L1701.6 1390.6L1702.1 1391.4L1702.6 1392.2L1703.1 1392.3L1703.6 1389.0L1704.1 1390.9L1704.6 1391.3L1705.1 1390.4L1705.6 1392.1L1706.1 1391.8L1706.6 1387.5L1707.1 1390.7L1707.6 1391.0L1708.1 1389.1L1708.6 1392.2L1709.1 1390.4L1709.6 1389.7L1710.1 1389.2L1710.6 1394.0L1711.1 1390.8L1711.6 1393.1L1712.1 1393.0L1712.6 1390.7L1713.1 1391.8L1713.6 1389.4L1714.1 1392.0L1714.6 1393.0L1715.1 1390.4L1715.6 1391.8L1716.1 1389.7L1716.6 1392.1L1717.1 1390.2L1717.6 1392.2L1718.1 1390.2L1718.6 1389.7L1719.1 1391.4L1719.6 1392.6L1720.1 1391.1L1720.6 1392.8L1721.1 1391.9L1721.6 1392.1L1722.1 1391.5L1722.6 1392.8L1723.1 1390.5L1723.6 1393.2L1724.1 1388.9L1724.6 1390.1L1725.1 1390.5L1725.6 1394.0L1726.1 1391.0L1726.6 1390.4L1727.1 1391.4L1727.6 1387.5L1728.1 1391.7L1728.6 1387.8L1729.1 1389.3L1729.6 1390.1L1730.1 1390.3L1730.6 1391.7L1731.1 1387.8L1731.6 1390.2L1732.1 1391.9L1732.6 1391.5L1733.1 1390.3L1733.6 1389.6L1734.1 1392.7L1734.6 1394.3L1735.1 1389.2L1735.6 1388.0L1736.1 1391.1L1736.6 1391.8L1737.1 1388.0L1737.6 1391.5L1738.1 1392.7L1738.6 1389.8L1739.1 1392.5L1739.6 1390.0L1740.1 1390.6L1740.6 1392.0L1741.1 1389.1L1741.6 1390.4L1742.1 1389.0L1742.6 1390.9L1743.1 1392.8L1743.6 1393.1L1744.1 1390.0L1744.6 1391.8L1745.1 1391.9L1745.6 1389.6L1746.1 1391.5L1746.6 1390.6L1747.1 1392.2L1747.6 1392.0L1748.1 1391.2L1748.6 1390.6L1749.1 1389.4L1749.6 1387.7L1750.1 1392.7L1750.6 1391.9L1751.1 1393.2L1751.6 1388.4L1752.1 1391.8L1752.6 1392.7L1753.1 1393.4L1753.6 1393.2L1754.1 1393.2L1754.6 1390.9L1755.1 1392.6L1755.6 1392.6L1756.1 1391.6L1756.6 1394.4L1757.1 1390.4L1757.6 1389.3L1758.1 1391.1L1758.6 1391.8L1759.1 1392.2L1759.6 1389.4L1760.1 1390.0L1760.6 1391.1L1761.1 1388.4L1761.6 1390.3L1762.1 1391.9L1762.6 1390.8L1763.1 1391.9L1763.6 1389.5L1764.1 1390.6L1764.6 1388.9L1765.1 1388.7L1765.6 1390.2L1766.1 1386.3L1766.6 1388.5L1767.1 1388.3L1767.6 1390.1L1768.1 1389.9L1768.6 1389.5L1769.1 1392.1L1769.6 1388.8L1770.1 1390.4L1770.6 1389.3L1771.1 1392.2L1771.6 1389.5L1772.1 1389.1L1772.6 1388.0L1773.1 1388.5L1773.6 1388.9L1774.1 1387.4L1774.6 1388.6L1775.1 1388.1L1775.6 1387.4L1776.1 1389.8L1776.6 1389.0L1777.1 1388.6L1777.6 1389.7L1778.1 1392.0L1778.6 1390.9L1779.1 1389.1L1779.6 1389.0L1780.1 1389.1L1780.6 1391.5L1781.1 1388.6L1781.6 1388.1L1782.1 1388.1L1782.6 1390.1L1783.1 1389.4L1783.6 1388.7L1784.1 1392.7L1784.6 1389.1L1785.1 1392.4L1785.6 1389.0L1786.1 1391.6L1786.6 1391.7L1787.1 1390.1L1787.6 1390.0L1788.1 1390.9L1788.6 1389.8L1789.1 1388.4L1789.6 1391.7L1790.1 1386.9L1790.6 1388.1L1791.1 1390.9L1791.6 1390.0L1792.1 1387.9L1792.6 1390.5L1793.1 1389.5L1793.6 1390.2L1794.1 1388.9L1794.6 1388.4L1795.1 1391.5L1795.6 1390.1L1796.1 1389.5L1796.6 1392.2L1797.1 1389.2L1797.6 1391.5L1798.1 1388.7L1798.6 1389.8L1799.1 1388.8L1799.6 1390.7L1800.1 1388.9L1800.6 1391.3L1801.1 1393.0L1801.6 1390.8L1802.1 1391.1L1802.6 1390.3L1803.1 1389.0L1803.6 1392.1L1804.1 1392.7L1804.6 1388.8L1805.1 1390.8L1805.6 1390.7L1806.1 1391.4L1806.6 1393.4L1807.1 1391.4L1807.6 1391.8L1808.1 1389.2L1808.6 1390.1L1809.1 1390.3L1809.6 1388.8L1810.1 1389.5L1810.6 1391.2L1811.1 1390.2L1811.6 1390.6L1812.1 1393.3L1812.6 1390.2L1813.1 1390.8L1813.6 1393.1L1814.1 1391.4L1814.6 1392.5L1815.1 1391.4L1815.6 1391.7L1816.1 1391.3L1816.6 1389.1L1817.1 1390.4L1817.6 1390.3L1818.1 1392.3L1818.6 1390.6L1819.1 1390.0L1819.6 1389.1L1820.1 1389.6L1820.6 1389.6L1821.1 1387.8L1821.6 1390.4L1822.1 1389.5L1822.6 1385.7L1823.1 1387.5L1823.6 1387.3L1824.1 1386.8L1824.6 1385.9L1825.1 1387.5L1825.6 1384.7L1826.1 1385.6L1826.6 1383.0L1827.1 1384.2L1827.6 1381.8L1828.1 1384.5L1828.6 1384.0L1829.1 1385.4L1829.6 1383.8L1830.1 1387.2L1830.6 1385.9L1831.1 1388.1L1831.6 1390.3L1832.1 1387.6L1832.6 1388.1L1833.1 1388.8L1833.6 1387.9L1834.1 1389.5L1834.6 1389.8L1835.1 1388.1L1835.6 1392.9L1836.1 1391.5L1836.6 1389.8L1837.1 1391.0L1837.6 1391.6L1838.1 1390.6L1838.6 1392.9L1839.1 1390.4L1839.6 1389.9L1840.1 1393.8L1840.6 1391.4L1841.1 1391.8L1841.6 1393.9L1842.1 1390.5L1842.6 1390.2L1843.1 1391.8L1843.6 1389.2L1844.1 1390.9L1844.6 1391.1L1845.1 1389.7L1845.6 1389.2L1846.1 1390.9L1846.6 1390.8L1847.1 1391.0L1847.6 1394.6L1848.1 1391.5L1848.6 1391.9L1849.1 1391.2L1849.6 1389.9L1850.1 1393.4L1850.6 1391.6L1851.1 1393.2L1851.6 1391.1L1852.1 1390.2L1852.6 1393.9L1853.1 1391.7L1853.6 1391.3L1854.1 1391.1L1854.6 1392.2L1855.1 1392.3L1855.6 1391.1L1856.1 1391.8L1856.6 1390.1L1857.1 1391.0L1857.6 1388.5L1858.1 1391.5L1858.6 1391.4L1859.1 1392.1L1859.6 1389.9L1860.1 1392.3L1860.6 1391.3L1861.1 1392.1L1861.6 1388.9L1862.1 1394.2L1862.6 1392.1L1863.1 1391.5L1863.6 1393.0L1864.1 1391.2L1864.6 1392.5L1865.1 1392.8L1865.6 1389.3L1866.1 1393.1L1866.6 1393.7L1867.1 1389.3L1867.6 1390.2L1868.1 1388.9L1868.6 1390.0L1869.1 1388.2L1869.6 1390.3L1870.1 1389.5L1870.6 1390.3L1871.1 1390.3L1871.6 1389.6L1872.1 1388.6L1872.6 1389.7L1873.1 1390.9L1873.6 1388.2L1874.1 1391.0L1874.6 1389.8L1875.1 1390.5L1875.6 1391.8L1876.1 1393.9L1876.6 1392.6L1877.1 1391.9L1877.6 1390.1L1878.1 1391.6L1878.6 1391.0L1879.1 1388.5L1879.6 1388.5L1880.1 1390.2L1880.6 1392.4L1881.1 1389.7L1881.6 1390.6L1882.1 1392.9L1882.6 1390.4L1883.1 1391.5L1883.6 1392.6L1884.1 1392.1L1884.6 1391.5L1885.1 1394.9L1885.6 1390.5L1886.1 1392.3L1886.6 1395.6L1887.1 1392.4L1887.6 1393.6L1888.1 1393.1L1888.6 1394.1L1889.1 1393.2L1889.6 1389.4L1890.1 1388.6L1890.6 1391.5L1891.1 1391.0L1891.6 1389.8L1892.1 1389.7L1892.6 1393.0L1893.1 1392.7L1893.6 1390.7L1894.1 1389.8L1894.6 1388.2L1895.1 1390.4L1895.6 1390.2L1896.1 1391.1L1896.6 1389.9L1897.1 1393.7L1897.6 1392.9L1898.1 1390.4L1898.6 1392.1" fill="none" stroke="#990000" stroke-width="4.8" stroke-linejoin="round" stroke-linecap="butt" shape-rendering="crispEdges"/>
<circle cx="319.1" cy="1329.1" r="13.1" fill="#990000"/>
<circle cx="396.1" cy="1102.9" r="13.1" fill="#990000"/>
<rect x="443.1" y="1337.0" width="25.7" height="25.7" fill="none" stroke="#990000" stroke-width="2.3"/>
<circle cx="510.4" cy="1334.0" r="13.1" fill="#990000"/>
<circle cx="659.5" cy="1211.2" r="13.1" fill="#990000"/>
<circle cx="693.4" cy="1291.0" r="13.1" fill="#990000"/>
<circle cx="736.2" cy="1140.2" r="13.1" fill="#990000"/>
<rect x="791.6" y="1309.0" width="25.7" height="25.7" fill="none" stroke="#990000" stroke-width="2.3"/>
<circle cx="833.3" cy="1311.8" r="13.1" fill="#990000"/>
<circle cx="966.9" cy="1348.8" r="13.1" fill="#990000"/>
<rect x="1000.6" y="1343.1" width="25.7" height="25.7" fill="none" stroke="#990000" stroke-width="2.3"/>
<circle cx="1043.2" cy="1342.1" r="13.1" fill="#990000"/>
<circle cx="1064.3" cy="1360.9" r="13.1" fill="#990000"/>
<circle cx="1100.4" cy="1285.3" r="13.1" fill="#990000"/>
<rect x="1134.2" y="1342.7" width="25.7" height="25.7" fill="none" stroke="#990000" stroke-width="2.3"/>
<circle cx="1191.0" cy="1349.2" r="13.1" fill="#990000"/>
<circle cx="1225.1" cy="1317.3" r="13.1" fill="#990000"/>
<circle cx="1276.1" cy="1334.0" r="13.1" fill="#990000"/>
<circle cx="1331.3" cy="1332.5" r="13.1" fill="#990000"/>
<circle cx="1500.2" cy="1353.8" r="13.1" fill="#990000"/>
<circle cx="1825.3" cy="1363.3" r="13.1" fill="#990000"/>
<text x="108.3" y="1352.8" font-size="48.9" font-weight="bold" fill="#990000">Sample D</text>
<rect x="103.8" y="28.8" width="1837.5" height="1408.5" fill="none" stroke="#000" stroke-width="9.0"/>
<path d="M147.8 1436V1411.6" stroke="#000" stroke-width="8.4" stroke-linecap="round" fill="none"/>
<text x="147.3" y="1511.2" font-size="60" font-weight="bold" text-anchor="middle">10</text>
<path d="M257.2 1436V1423.1" stroke="#000" stroke-width="8.4" stroke-linecap="round" fill="none"/>
<path d="M366.5 1436V1411.6" stroke="#000" stroke-width="8.4" stroke-linecap="round" fill="none"/>
<text x="366.0" y="1511.2" font-size="60" font-weight="bold" text-anchor="middle">20</text>
<path d="M475.9 1436V1423.1" stroke="#000" stroke-width="8.4" stroke-linecap="round" fill="none"/>
<path d="M585.2 1436V1411.6" stroke="#000" stroke-width="8.4" stroke-linecap="round" fill="none"/>
<text x="584.7" y="1511.2" font-size="60" font-weight="bold" text-anchor="middle">30</text>
<path d="M694.5 1436V1423.1" stroke="#000" stroke-width="8.4" stroke-linecap="round" fill="none"/>
<path d="M803.9 1436V1411.6" stroke="#000" stroke-width="8.4" stroke-linecap="round" fill="none"/>
<text x="803.4" y="1511.2" font-size="60" font-weight="bold" text-anchor="middle">40</text>
<path d="M913.2 1436V1423.1" stroke="#000" stroke-width="8.4" stroke-linecap="round" fill="none"/>
<path d="M1022.6 1436V1411.6" stroke="#000" stroke-width="8.4" stroke-linecap="round" fill="none"/>
<text x="1022.1" y="1511.2" font-size="60" font-weight="bold" text-anchor="middle">50</text>
<path d="M1132.0 1436V1423.1" stroke="#000" stroke-width="8.4" stroke-linecap="round" fill="none"/>
<path d="M1241.3 1436V1411.6" stroke="#000" stroke-width="8.4" stroke-linecap="round" fill="none"/>
<text x="1240.8" y="1511.2" font-size="60" font-weight="bold" text-anchor="middle">60</text>
<path d="M1350.7 1436V1423.1" stroke="#000" stroke-width="8.4" stroke-linecap="round" fill="none"/>
<path d="M1460.0 1436V1411.6" stroke="#000" stroke-width="8.4" stroke-linecap="round" fill="none"/>
<text x="1459.5" y="1511.2" font-size="60" font-weight="bold" text-anchor="middle">70</text>
<path d="M1569.3 1436V1423.1" stroke="#000" stroke-width="8.4" stroke-linecap="round" fill="none"/>
<path d="M1678.7 1436V1411.6" stroke="#000" stroke-width="8.4" stroke-linecap="round" fill="none"/>
<text x="1678.2" y="1511.2" font-size="60" font-weight="bold" text-anchor="middle">80</text>
<path d="M1788.0 1436V1423.1" stroke="#000" stroke-width="8.4" stroke-linecap="round" fill="none"/>
<path d="M1897.4 1436V1411.6" stroke="#000" stroke-width="8.4" stroke-linecap="round" fill="none"/>
<text x="1896.9" y="1511.2" font-size="60" font-weight="bold" text-anchor="middle">90</text>
<text x="899.3" y="1561" font-size="60" font-weight="bold">2-Theta</text>
<text x="1101.5" y="1565" font-size="62">[</text>
<text x="1120.9" y="1530" font-size="38.5" font-weight="bold">o</text>
<text x="1139.6" y="1565" font-size="62">]</text>
<text transform="translate(70.7 717.3) rotate(-90)" font-size="61.6" font-weight="bold" text-anchor="middle">Intensity (a.u.)</text>
<polygon points="1610.4,67 1623.1,82.5 1610.4,98 1597.7,82.5" fill="#000"/>
<rect x="1594.0" y="155.2" width="25.7" height="25.7" fill="none" stroke="#000" stroke-width="2.3"/>
<circle cx="1610.0" cy="250.0" r="13.1" fill="#000"/>
<text x="1664.5" y="99" font-size="59" stroke="#000" stroke-width="0.4" font-family="'DejaVu Serif', 'Liberation Serif', serif">γ</text>
<text x="1715.1" y="97.9" font-size="60" font-weight="bold">-</text>
<text x="1737.3" y="97.9" font-size="60" font-weight="bold">Fe</text>
<text x="1799.4" y="120.9" font-size="33" font-weight="bold">2</text>
<text x="1817.3" y="97.9" font-size="61" font-weight="bold">O</text>
<text x="1864.1" y="120.9" font-size="33" font-weight="bold">3</text>
<text x="1652.1" y="182.4" font-size="63" stroke="#000" stroke-width="0.9" font-family="'DejaVu Serif', 'Liberation Serif', serif">α</text>
<text x="1708.6" y="181.8" font-size="60" font-weight="bold">-</text>
<text x="1732.1" y="181.8" font-size="59.5" font-weight="bold">Fe</text>
<text x="1792.9" y="205.8" font-size="33" font-weight="bold">2</text>
<text x="1810.3" y="181.8" font-size="61" font-weight="bold">O</text>
<text x="1857.6" y="205.8" font-size="33" font-weight="bold">3</text>
<text x="1655.8" y="267.4" font-size="63" stroke="#000" stroke-width="0.9" font-family="'DejaVu Serif', 'Liberation Serif', serif">α</text>
<text x="1712.5" y="267.1" font-size="54" font-weight="bold">-</text>
<text x="1731.7" y="267.1" font-size="54.3" font-weight="bold">FeOOH</text>
</svg>
</body></html>
